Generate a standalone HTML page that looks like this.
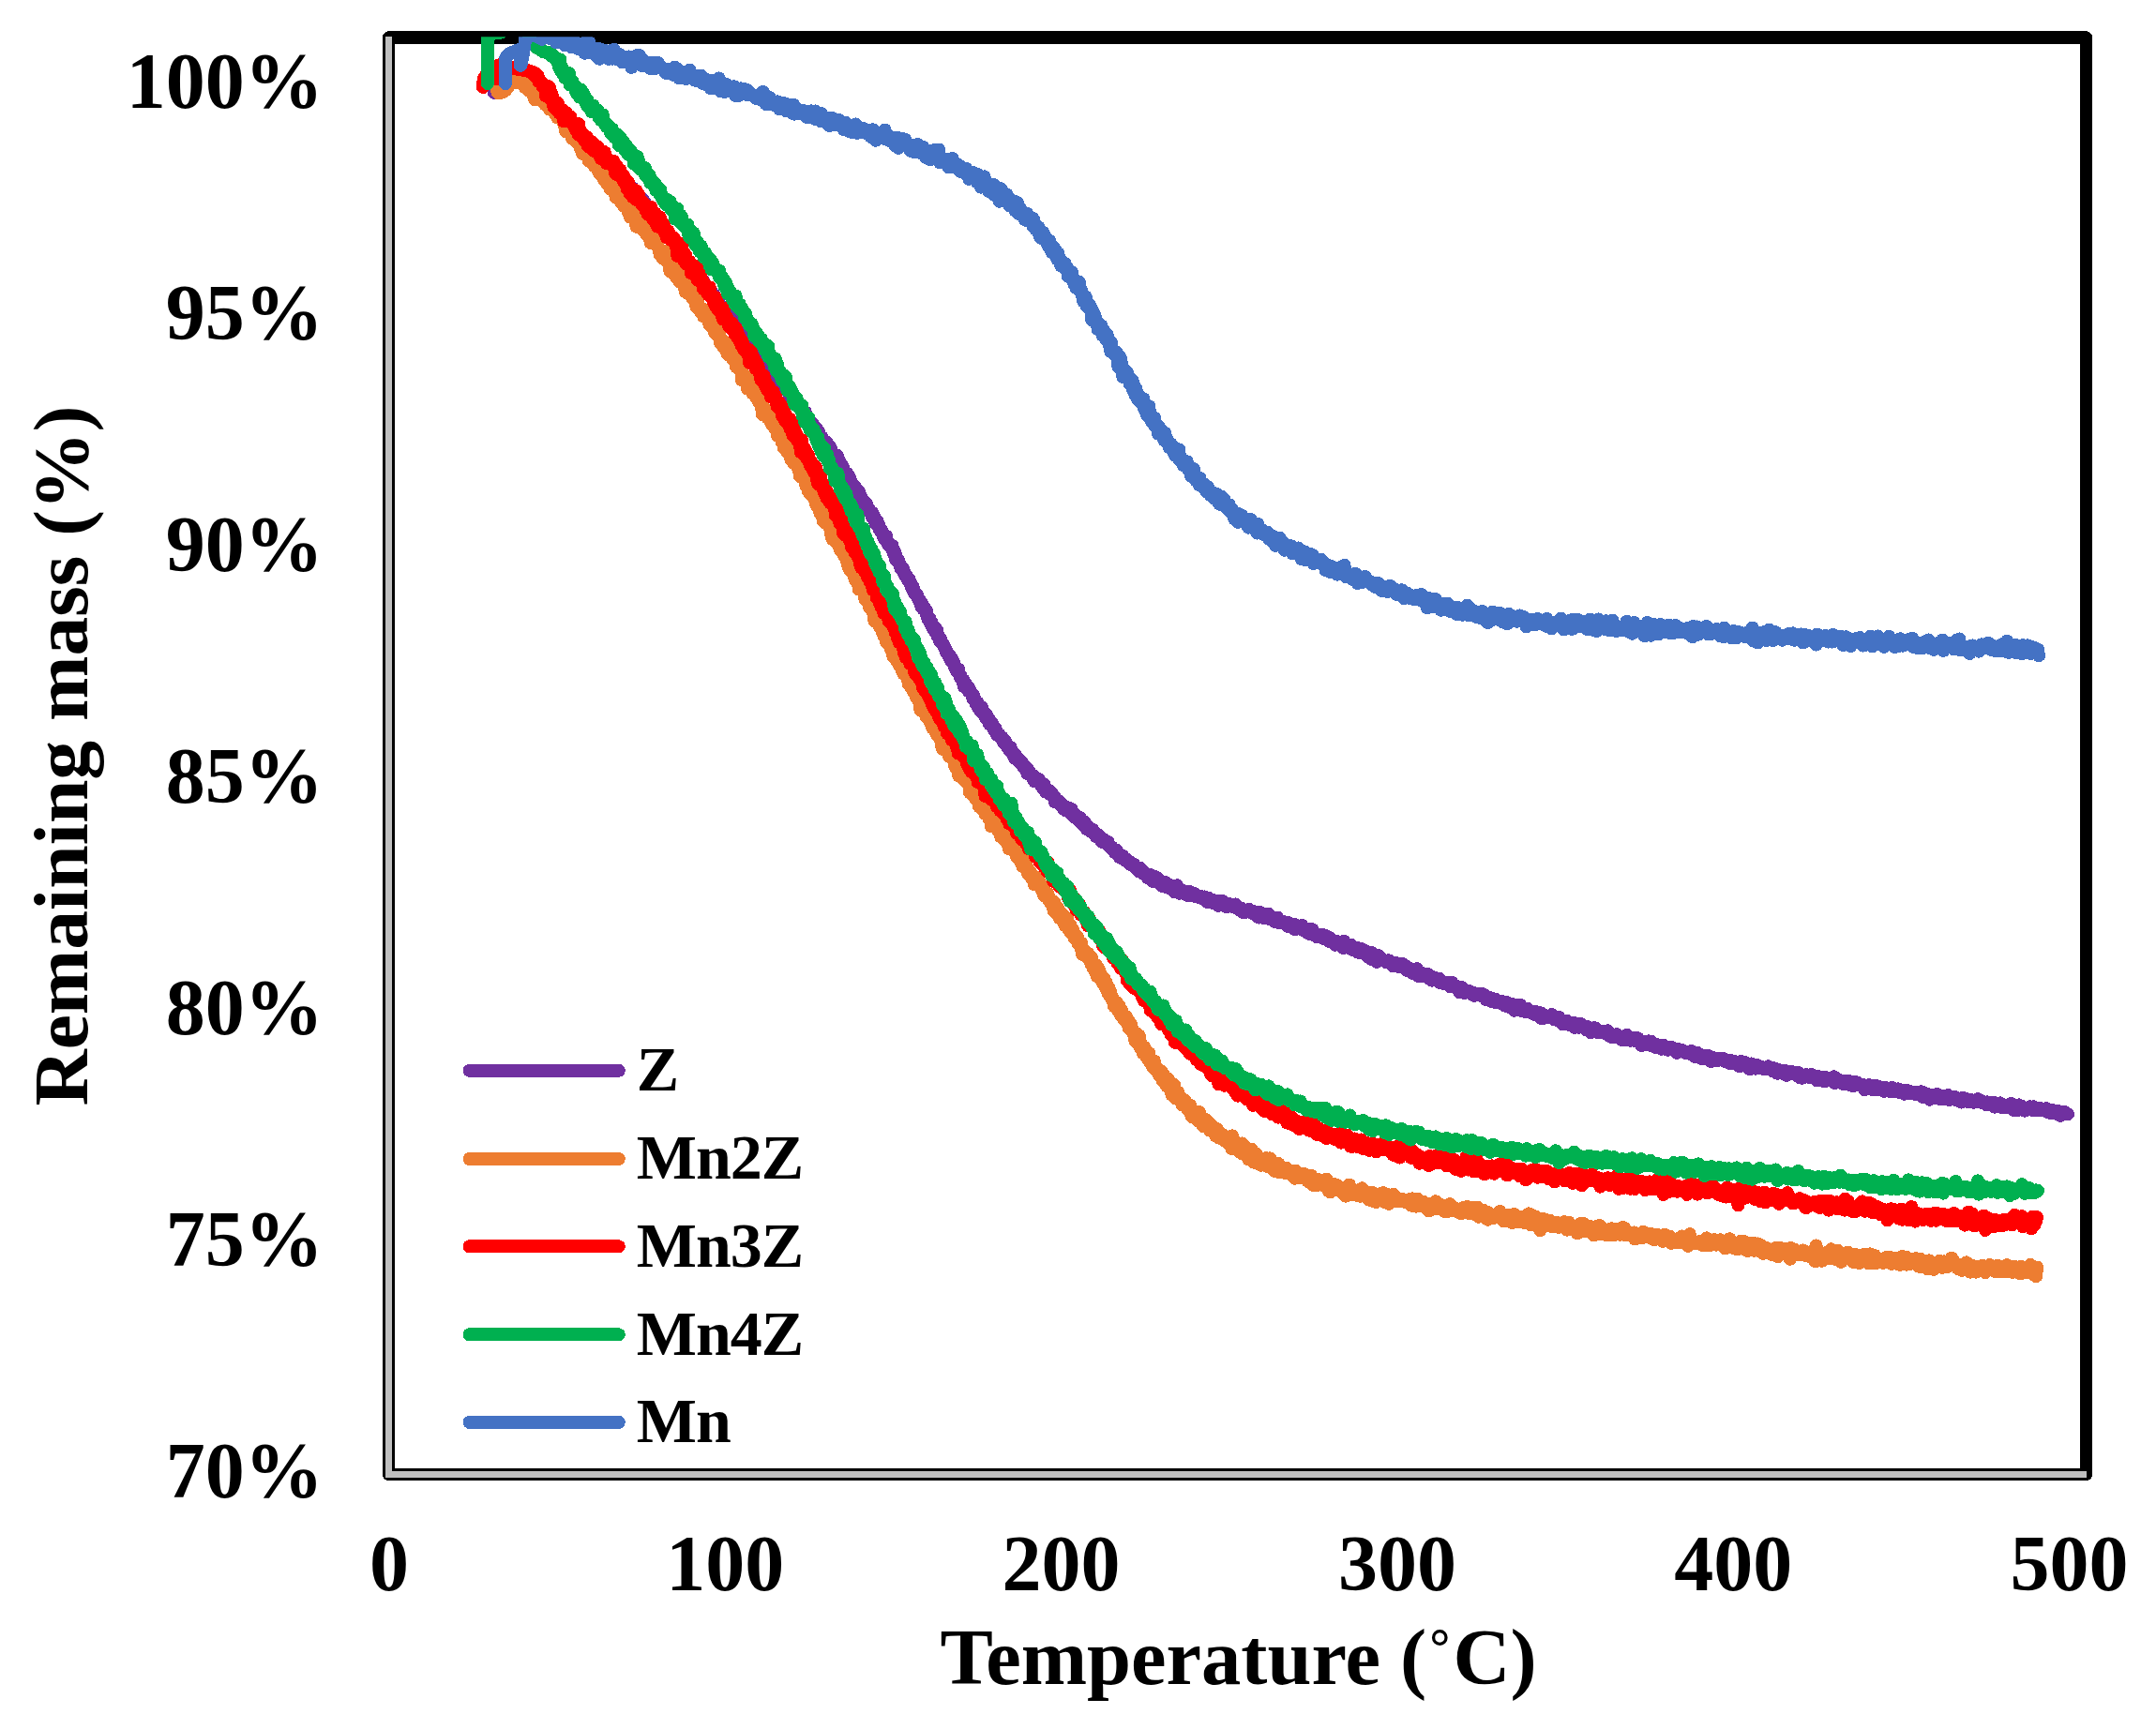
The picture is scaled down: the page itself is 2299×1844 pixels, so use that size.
<!DOCTYPE html>
<html><head><meta charset="utf-8"><title>Remaining mass vs Temperature</title>
<style>
html,body{margin:0;padding:0;background:#fff;}
body{width:2299px;height:1844px;overflow:hidden;}
svg{display:block;}
text{font-family:"Liberation Serif","Times New Roman",serif;font-weight:bold;fill:#000;}
</style></head><body>
<svg width="2299" height="1844" viewBox="0 0 2299 1844" shape-rendering="crispEdges">
<defs><clipPath id="pa"><rect x="414.5" y="39.3" width="1810" height="1533"/></clipPath></defs>
<rect x="0" y="0" width="2299" height="1844" fill="#fff"/>
<rect x="414.5" y="40" width="1810" height="1532.5" fill="none" stroke="#000" stroke-width="13.5" stroke-linejoin="round"/>
<line x1="414.5" y1="39" x2="414.5" y2="1572.5" stroke="#BFBFBF" stroke-width="7"/>
<line x1="411" y1="1572.5" x2="2225" y2="1572.5" stroke="#BFBFBF" stroke-width="7"/>
<g clip-path="url(#pa)" fill="none" stroke-width="14.0" stroke-linejoin="round" stroke-linecap="round">
<path d="M527.0 99.0L527.7 98.4 528.4 97.8 529.0 97.2 529.7 96.5 530.4 95.8 531.0 95.0 531.4 94.3 531.8 93.6 532.2 92.8 532.6 92.0 533.0 91.1 533.4 90.2 533.8 89.3 534.2 88.4 534.5 87.5 534.9 86.5 535.3 85.7 535.6 84.8 536.0 84.0 536.4 83.0 536.8 82.1 537.2 81.1 537.6 80.1 538.0 79.2 538.4 78.3 538.9 77.5 539.4 76.7 540.0 76.0 540.6 75.4 541.3 74.8 542.0 74.2 542.8 73.7 543.6 73.3 544.4 72.8 545.3 72.5 546.1 72.2 547.0 72.0 547.8 71.9 548.7 71.8 549.6 71.8 550.5 71.8 551.4 71.9 552.4 72.1 553.3 72.3 554.2 72.5 555.1 72.7 556.0 73.0 556.8 73.3 557.7 73.6 558.5 74.0 559.3 74.4 560.2 74.8 561.0 75.2 561.8 75.7 562.6 76.3 563.4 76.8 564.2 77.4 565.0 78.0 565.7 78.6 566.4 79.2 567.1 79.8 567.8 80.5 568.4 81.2 569.1 81.9 569.8 82.7 570.5 83.4 571.1 84.2 571.8 85.0 572.4 85.8 573.1 86.6 573.7 87.4 574.4 88.2 575.0 89.0 575.6 89.8 576.2 90.6 576.8 91.3 577.3 91.9 577.9 92.9 578.4 93.6 579.0 94.7 579.5 95.4 580.1 95.6 580.6 96.5 581.2 98.1 581.7 98.9 582.3 99.2 582.8 100.3 583.4 101.4 584.0 102.3 584.5 103.3 585.1 103.7 585.6 104.2 586.1 104.9 586.6 106.6 587.2 105.0 587.7 107.4 588.3 108.3 588.8 107.9 589.3 110.2 589.9 110.1 590.5 112.3 591.0 112.2 591.6 113.8 592.1 115.2 592.7 115.2 593.3 114.6 593.8 114.7 594.4 119.2 595.0 117.9 595.6 117.9 596.1 119.7 596.7 120.1 597.3 122.3 597.9 122.0 598.4 122.8 599.0 122.5 599.6 125.0 600.2 123.6 600.8 127.0 601.4 129.0 602.0 125.3 602.6 124.7 603.2 130.1 603.8 133.7 604.4 129.2 605.0 129.6 605.6 133.1 606.2 131.6 606.8 132.9 607.4 133.8 608.0 135.8 608.7 135.2 609.4 136.9 610.1 137.0 610.8 136.7 611.4 138.2 612.1 137.9 612.8 140.0 613.5 139.0 614.2 139.7 614.9 144.2 615.6 142.6 616.3 143.2 616.9 144.8 617.6 144.0 618.3 145.0 619.0 146.6 619.8 147.1 620.6 145.6 621.3 149.2 622.1 147.7 622.9 147.7 623.7 148.6 624.4 150.0 625.2 153.7 626.0 150.1 626.7 152.8 627.5 150.0 628.3 153.9 629.0 155.9 629.8 154.9 630.5 155.0 631.3 156.9 632.0 158.3 632.8 158.9 633.5 161.6 634.3 159.6 635.0 159.1 635.7 160.5 636.5 161.2 637.2 162.2 637.9 162.7 638.7 163.7 639.4 161.6 640.1 166.0 640.8 164.6 641.6 164.4 642.3 167.9 643.0 169.6 643.7 169.0 644.4 169.2 645.1 168.3 645.8 174.7 646.5 172.5 647.2 170.1 647.9 171.4 648.6 173.4 649.3 171.7 650.0 175.0 650.7 174.7 651.4 178.0 652.1 178.3 652.8 173.5 653.5 178.4 654.2 176.6 654.9 181.4 655.5 180.7 656.2 182.0 656.9 180.3 657.6 185.4 658.3 186.4 658.9 182.6 659.6 185.4 660.3 184.6 660.9 186.3 661.6 185.2 662.3 190.6 662.9 187.1 663.6 188.9 664.3 190.8 664.9 189.8 665.6 191.2 666.2 191.5 666.9 192.9 667.6 192.1 668.2 193.9 668.9 195.0 669.5 195.6 670.2 196.9 670.8 197.1 671.5 199.5 672.1 198.6 672.7 199.7 673.4 199.6 674.0 200.6 674.7 200.3 675.3 203.7 675.9 202.0 676.6 203.3 677.2 205.8 677.8 206.6 678.5 206.1 679.1 204.5 679.7 208.9 680.4 209.4 681.0 207.7 681.6 211.8 682.2 210.3 682.9 210.5 683.5 213.1 684.1 213.4 684.7 214.8 685.4 212.9 686.0 218.8 686.6 215.9 687.2 215.3 687.8 219.3 688.4 218.6 689.1 220.4 689.7 220.2 690.3 221.4 690.9 222.7 691.5 222.0 692.1 224.9 692.7 224.0 693.3 224.2 693.9 226.4 694.5 227.7 695.2 227.5 695.8 227.3 696.4 230.3 697.0 227.6 697.6 229.4 698.2 231.8 698.8 230.5 699.4 233.4 700.0 234.1 700.6 236.3 701.2 234.4 701.8 235.6 702.4 237.8 703.0 234.5 703.6 243.6 704.2 238.7 704.8 239.4 705.4 242.6 706.0 242.1 706.6 240.3 707.1 244.7 707.7 245.8 708.3 244.7 708.9 245.7 709.5 247.7 710.1 246.4 710.7 249.2 711.3 249.6 711.9 249.1 712.5 248.9 713.1 251.4 713.7 251.2 714.3 254.9 714.8 254.4 715.4 256.1 716.0 256.0 716.6 257.0 717.2 256.2 717.8 259.2 718.4 261.7 719.0 259.3 719.6 259.7 720.2 261.2 720.7 261.5 721.3 262.0 721.9 264.0 722.5 264.2 723.1 267.6 723.7 266.2 724.3 267.5 724.9 269.3 725.5 268.2 726.0 271.6 726.6 269.3 727.2 269.9 727.8 271.3 728.4 272.5 729.0 271.4 729.6 274.2 730.2 272.6 730.8 278.0 731.4 276.6 731.9 276.6 732.5 277.0 733.1 278.6 733.7 279.6 734.3 279.2 734.9 280.2 735.5 282.1 736.1 282.4 736.7 285.4 737.3 286.5 737.9 285.6 738.5 287.1 739.1 285.2 739.7 288.9 740.3 288.7 740.9 290.3 741.4 292.8 742.0 287.8 742.6 292.4 743.2 291.1 743.8 294.5 744.4 292.4 745.0 294.4 745.6 296.3 746.2 297.7 746.8 297.7 747.4 297.2 748.0 298.3 748.6 301.3 749.2 300.8 749.9 299.0 750.5 303.6 751.1 303.8 751.7 305.3 752.3 304.2 752.9 306.8 753.5 304.8 754.1 308.0 754.7 307.2 755.3 309.7 755.9 311.0 756.5 309.2 757.1 311.0 757.7 312.0 758.3 314.5 758.9 314.6 759.6 312.5 760.2 315.8 760.8 317.0 761.4 319.9 762.0 314.9 762.6 317.4 763.2 321.0 763.8 317.8 764.4 318.8 765.1 322.2 765.7 323.7 766.3 322.0 766.9 324.6 767.5 324.8 768.1 327.7 768.7 326.2 769.3 328.4 770.0 326.4 770.6 328.3 771.2 329.2 771.8 331.8 772.4 331.8 773.0 330.6 773.6 333.5 774.3 334.4 774.9 333.9 775.5 334.5 776.1 335.3 776.7 333.9 777.3 337.5 778.0 338.4 778.6 337.5 779.2 340.7 779.8 338.3 780.4 340.3 781.0 341.2 781.7 345.7 782.3 341.1 782.9 345.1 783.5 346.5 784.1 346.4 784.8 348.4 785.4 345.9 786.0 344.8 786.6 350.2 787.2 348.0 787.8 350.1 788.5 349.6 789.1 353.8 789.7 354.3 790.3 352.7 790.9 355.9 791.6 355.5 792.2 355.9 792.8 357.0 793.4 357.4 794.0 359.4 794.6 359.7 795.3 359.5 795.9 362.3 796.5 360.7 797.1 362.8 797.7 363.8 798.4 366.2 799.0 364.0 799.6 368.2 800.2 366.6 800.8 366.8 801.5 366.9 802.1 369.6 802.7 369.5 803.3 368.6 803.9 369.4 804.6 371.0 805.2 371.6 805.8 375.0 806.4 376.3 807.0 376.3 807.6 376.3 808.3 375.9 808.9 377.4 809.5 379.5 810.1 382.1 810.7 381.1 811.4 380.1 812.0 381.3 812.6 381.3 813.2 381.7 813.8 383.4 814.4 384.7 815.1 388.0 815.7 386.1 816.3 388.8 816.9 390.2 817.5 388.5 818.1 391.6 818.7 391.0 819.4 390.1 820.0 391.9 820.6 392.3 821.2 392.7 821.8 393.6 822.4 394.9 823.1 396.1 823.7 394.9 824.3 397.0 824.9 395.5 825.5 399.0 826.1 400.3 826.7 400.4 827.3 401.4 828.0 402.7 828.6 401.6 829.2 403.0 829.8 404.9 830.4 406.4 831.0 406.3 831.6 410.3 832.2 407.2 832.8 409.6 833.4 410.8 834.1 409.5 834.7 409.2 835.3 409.5 835.9 412.3 836.5 414.5 837.1 414.0 837.7 414.7 838.3 414.7 838.9 416.9 839.5 413.6 840.1 418.0 840.7 418.4 841.3 417.1 841.9 423.2 842.5 418.7 843.1 420.0 843.7 420.6 844.4 424.8 845.0 422.6 845.6 425.8 846.2 426.4 846.8 426.7 847.4 425.2 848.0 427.0 848.6 431.3 849.2 427.6 849.8 429.1 850.4 430.9 850.9 433.1 851.5 433.1 852.1 434.6 852.7 432.7 853.3 436.5 853.9 436.8 854.5 434.3 855.1 439.8 855.7 441.8 856.3 438.0 856.9 440.0 857.5 442.8 858.1 439.3 858.7 439.4 859.3 441.2 859.8 443.1 860.4 443.9 861.0 446.5 861.6 446.8 862.2 445.3 862.8 448.8 863.4 451.6 864.0 451.4 864.5 451.9 865.1 451.2 865.7 453.5 866.3 451.4 866.9 454.7 867.5 454.3 868.0 456.9 868.6 456.7 869.2 455.2 869.8 457.9 870.4 460.3 870.9 457.6 871.5 459.3 872.1 459.7 872.7 459.5 873.2 464.0 873.8 465.3 874.4 465.4 875.0 465.3 875.5 465.7 876.1 467.0 876.7 466.3 877.2 469.6 877.8 470.6 878.4 471.3 878.9 469.9 879.5 471.6 880.1 472.1 880.6 475.8 881.2 474.2 881.8 471.9 882.3 476.2 882.9 479.2 883.5 478.2 884.0 479.4 884.6 478.9 885.2 476.7 885.7 477.8 886.3 479.4 886.8 481.9 887.4 483.4 887.9 484.8 888.5 484.1 889.1 486.9 889.6 485.8 890.2 486.0 890.7 489.2 891.3 487.4 891.8 485.5 892.4 488.8 892.9 491.3 893.5 487.4 894.0 492.3 894.6 493.2 895.1 492.4 895.7 493.1 896.2 495.5 896.8 496.2 897.3 499.7 897.9 499.2 898.4 497.1 899.0 499.0 899.5 502.2 900.1 504.8 900.6 503.4 901.1 504.1 901.7 507.3 902.2 505.3 902.8 505.7 903.3 504.9 903.8 507.1 904.4 511.9 904.9 507.4 905.5 510.3 906.0 509.1 906.5 512.2 907.1 514.2 907.6 513.3 908.1 515.6 908.7 516.4 909.2 516.9 909.7 519.6 910.3 519.0 910.8 518.3 911.3 518.5 911.9 519.1 912.4 522.0 912.9 521.6 913.5 527.0 914.0 526.5 914.5 524.3 915.0 525.0 915.6 528.8 916.1 524.3 916.6 527.3 917.1 530.3 917.7 528.3 918.2 529.8 918.7 530.8 919.2 533.2 919.7 533.3 920.3 534.5 920.8 535.7 921.3 535.7 921.8 538.1 922.3 536.2 922.9 536.0 923.4 536.3 923.9 537.4 924.4 539.9 924.9 543.1 925.4 542.7 926.0 542.4 926.5 542.5 927.0 544.2 927.5 545.2 928.0 545.8 928.5 545.4 929.0 547.7 929.5 550.8 930.1 546.8 930.6 550.6 931.1 548.6 931.6 553.0 932.1 552.4 932.6 551.3 933.1 555.4 933.6 558.8 934.1 557.1 934.6 559.6 935.1 558.6 935.6 556.3 936.1 561.2 936.6 560.6 937.1 559.9 937.6 564.2 938.1 564.3 938.6 563.9 939.1 566.9 939.6 565.1 940.1 568.3 940.6 566.8 941.1 569.9 941.6 568.3 942.1 573.0 942.6 572.0 943.1 574.7 943.6 572.2 944.1 573.5 944.6 576.4 945.1 571.9 945.6 575.3 946.1 579.3 946.6 579.3 947.1 580.9 947.6 579.9 948.1 582.1 948.5 581.0 949.0 580.9 949.5 581.3 950.0 583.9 950.5 584.8 951.0 585.5 951.5 582.0 952.0 585.2 952.4 588.3 952.9 590.4 953.4 590.0 953.9 590.4 954.4 589.1 954.9 596.5 955.4 592.7 955.8 597.7 956.3 598.4 956.8 597.4 957.3 597.0 957.8 598.9 958.2 597.9 958.7 600.9 959.2 601.4 959.7 603.1 960.2 604.6 960.6 606.6 961.1 604.3 961.6 607.4 962.1 605.5 962.6 606.2 963.0 607.5 963.5 607.8 964.0 611.7 964.5 612.5 964.9 613.9 965.4 612.8 965.9 614.2 966.4 613.8 966.8 613.8 967.3 617.1 967.8 617.7 968.3 616.5 968.7 619.9 969.2 617.3 969.7 620.6 970.2 620.8 970.6 621.8 971.1 621.9 971.6 625.8 972.1 626.1 972.5 627.9 973.0 627.2 973.5 626.0 973.9 628.2 974.4 627.9 974.9 631.3 975.4 633.3 975.8 632.8 976.3 632.3 976.8 633.6 977.3 635.3 977.7 633.7 978.2 637.0 978.7 638.0 979.1 637.7 979.6 638.8 980.1 640.6 980.6 640.0 981.0 640.9 981.5 644.2 982.0 644.2 982.4 647.3 982.9 644.2 983.4 643.9 983.9 648.8 984.3 649.7 984.8 648.1 985.3 647.9 985.7 650.9 986.2 649.2 986.7 652.2 987.2 650.4 987.6 654.2 988.1 652.2 988.6 655.9 989.1 659.5 989.5 657.7 990.0 660.1 990.5 658.9 991.0 659.4 991.4 659.4 991.9 664.1 992.4 663.3 992.9 666.7 993.3 663.4 993.8 665.7 994.3 667.0 994.8 669.9 995.2 671.4 995.7 668.6 996.2 668.8 996.7 668.7 997.1 674.2 997.6 673.0 998.1 673.0 998.6 674.8 999.0 671.9 999.5 674.1 1000.0 678.9 1000.5 679.0 1001.0 679.5 1001.4 678.7 1001.9 681.9 1002.4 684.6 1002.9 681.0 1003.4 683.7 1003.8 683.9 1004.3 686.0 1004.8 686.4 1005.3 687.0 1005.8 686.8 1006.3 689.0 1006.7 688.9 1007.2 690.5 1007.7 691.5 1008.2 693.5 1008.7 692.5 1009.2 693.8 1009.7 696.7 1010.1 695.7 1010.6 696.5 1011.1 699.1 1011.6 699.1 1012.1 699.7 1012.6 700.7 1013.1 699.4 1013.6 702.8 1014.1 705.0 1014.6 704.8 1015.0 702.4 1015.5 706.1 1016.0 705.2 1016.5 707.1 1017.0 708.5 1017.5 707.3 1018.0 712.0 1018.5 710.8 1019.0 712.9 1019.5 713.6 1020.0 715.5 1020.5 716.1 1021.0 713.0 1021.5 716.2 1022.0 713.8 1022.5 717.2 1023.0 719.8 1023.5 720.9 1024.0 722.4 1024.5 720.7 1025.0 722.6 1025.6 723.2 1026.1 725.8 1026.6 727.1 1027.1 725.1 1027.6 732.1 1028.1 727.3 1028.6 727.6 1029.1 729.9 1029.6 731.0 1030.2 731.6 1030.7 730.6 1031.2 734.7 1031.7 733.4 1032.2 736.5 1032.7 737.1 1033.3 734.0 1033.8 735.3 1034.3 736.1 1034.8 738.8 1035.3 739.4 1035.9 740.5 1036.4 739.8 1036.9 742.5 1037.4 744.8 1038.0 741.5 1038.5 744.1 1039.0 745.6 1039.6 745.9 1040.1 746.6 1040.6 750.4 1041.2 750.5 1041.7 750.7 1042.2 749.1 1042.8 754.5 1043.3 752.5 1043.8 751.9 1044.4 753.1 1044.9 753.7 1045.5 758.5 1046.0 756.4 1046.6 757.1 1047.1 754.6 1047.6 759.7 1048.2 757.9 1048.7 758.6 1049.3 762.0 1049.8 760.7 1050.4 764.0 1050.9 765.3 1051.5 761.8 1052.1 765.1 1052.6 763.7 1053.2 766.8 1053.7 769.1 1054.3 766.5 1054.9 772.1 1055.4 769.7 1056.0 769.2 1056.5 771.6 1057.1 773.8 1057.7 771.4 1058.2 774.3 1058.8 773.0 1059.4 777.7 1060.0 776.9 1060.5 776.9 1061.1 779.9 1061.7 777.2 1062.3 779.3 1062.8 783.5 1063.4 781.4 1064.0 784.4 1064.6 783.4 1065.2 782.9 1065.8 784.4 1066.3 785.7 1066.9 785.7 1067.5 785.9 1068.1 786.8 1068.7 786.5 1069.3 789.7 1069.9 790.9 1070.5 792.2 1071.1 789.2 1071.7 793.9 1072.3 793.5 1072.9 792.1 1073.5 795.2 1074.1 797.1 1074.7 797.4 1075.3 798.5 1075.9 799.6 1076.6 800.3 1077.2 799.7 1077.8 797.4 1078.4 800.2 1079.0 802.6 1079.6 802.2 1080.3 804.7 1080.9 805.6 1081.5 805.2 1082.1 808.8 1082.8 805.2 1083.4 808.9 1084.0 807.5 1084.6 807.8 1085.3 810.7 1085.9 809.6 1086.6 812.6 1087.2 810.3 1087.8 812.9 1088.5 812.3 1089.1 814.0 1089.8 814.5 1090.4 814.1 1091.1 817.6 1091.7 815.5 1092.4 816.6 1093.0 820.2 1093.7 821.0 1094.3 821.3 1095.0 821.6 1095.6 825.2 1096.3 820.7 1097.0 822.2 1097.6 822.5 1098.3 826.1 1099.0 825.9 1099.7 827.9 1100.3 828.4 1101.0 827.4 1101.7 827.2 1102.4 827.7 1103.0 833.2 1103.7 832.0 1104.4 832.2 1105.1 831.5 1105.8 832.5 1106.5 833.0 1107.2 833.7 1107.9 831.3 1108.6 835.5 1109.2 835.8 1109.9 837.5 1110.6 838.1 1111.4 839.8 1112.1 839.2 1112.8 841.1 1113.5 836.7 1114.2 839.6 1114.9 844.6 1115.6 840.9 1116.3 843.0 1117.0 845.1 1117.8 843.5 1118.5 846.6 1119.2 844.0 1119.9 844.0 1120.7 845.6 1121.4 845.8 1122.1 848.9 1122.8 849.1 1123.6 850.8 1124.3 849.4 1125.0 855.5 1125.8 852.2 1126.5 853.0 1127.3 854.4 1128.0 854.0 1128.7 854.1 1129.5 855.9 1130.2 857.8 1131.0 858.1 1131.7 859.2 1132.5 857.6 1133.2 858.0 1134.0 862.8 1134.7 860.1 1135.5 861.9 1136.2 862.9 1137.0 864.6 1137.7 861.1 1138.5 863.1 1139.2 863.8 1140.0 864.7 1140.7 862.2 1141.5 866.3 1142.3 862.8 1143.0 868.3 1143.8 869.3 1144.5 870.0 1145.3 868.0 1146.1 871.9 1146.8 869.8 1147.6 869.9 1148.4 871.0 1149.1 871.8 1149.9 874.0 1150.7 875.7 1151.4 871.9 1152.2 874.9 1153.0 877.8 1153.7 877.4 1154.5 878.5 1155.3 876.1 1156.0 880.5 1156.8 877.3 1157.6 880.6 1158.4 883.0 1159.1 884.5 1159.9 883.1 1160.7 884.3 1161.4 882.7 1162.2 883.6 1163.0 886.7 1163.8 885.6 1164.5 886.1 1165.3 884.8 1166.1 887.8 1166.8 889.2 1167.6 887.7 1168.4 888.8 1169.2 892.5 1169.9 891.1 1170.7 891.0 1171.5 890.4 1172.2 891.9 1173.0 893.1 1173.8 896.2 1174.6 893.8 1175.3 898.1 1176.1 894.7 1176.9 896.2 1177.6 898.6 1178.4 897.7 1179.2 897.5 1179.9 899.2 1180.7 900.7 1181.5 898.1 1182.3 901.0 1183.0 901.8 1183.8 902.0 1184.6 904.4 1185.3 903.1 1186.1 904.1 1186.9 905.3 1187.6 907.0 1188.4 906.3 1189.2 909.5 1189.9 906.5 1190.7 910.5 1191.5 907.9 1192.2 909.6 1193.0 911.1 1193.8 914.3 1194.5 913.2 1195.3 911.9 1196.1 915.1 1196.8 913.4 1197.6 913.2 1198.4 915.7 1199.2 915.8 1199.9 917.7 1200.7 916.1 1201.5 918.1 1202.3 919.1 1203.1 919.2 1203.8 919.4 1204.6 919.0 1205.4 922.0 1206.2 921.5 1207.0 922.6 1207.8 922.0 1208.6 923.1 1209.4 922.1 1210.2 924.4 1211.0 926.0 1211.8 925.6 1212.6 927.3 1213.4 927.1 1214.2 929.2 1215.0 927.5 1215.8 925.9 1216.6 929.6 1217.4 929.2 1218.2 928.5 1219.0 931.5 1219.9 931.5 1220.7 932.3 1221.5 931.7 1222.4 933.0 1223.2 933.6 1224.0 936.4 1224.9 933.2 1225.7 934.7 1226.6 935.8 1227.4 933.2 1228.3 933.8 1229.1 940.0 1230.0 934.5 1230.8 938.5 1231.7 936.8 1232.6 937.4 1233.4 936.1 1234.3 938.1 1235.2 941.1 1236.1 938.3 1236.9 941.7 1237.8 941.7 1238.7 944.7 1239.6 941.4 1240.5 944.4 1241.4 944.3 1242.3 942.9 1243.2 941.2 1244.1 946.4 1245.0 942.5 1245.9 944.2 1246.8 946.6 1247.7 947.4 1248.6 944.8 1249.5 946.4 1250.4 946.4 1251.3 949.0 1252.2 951.3 1253.2 945.2 1254.1 949.7 1255.0 944.3 1255.9 949.0 1256.9 947.7 1257.8 952.7 1258.7 950.3 1259.7 949.2 1260.6 949.9 1261.5 950.2 1262.5 951.6 1263.4 951.4 1264.3 953.0 1265.3 954.6 1266.2 953.7 1267.2 951.1 1268.1 950.8 1269.1 952.4 1270.0 955.5 1271.0 953.7 1271.9 953.5 1272.9 955.0 1273.8 953.0 1274.8 953.7 1275.7 956.4 1276.7 955.5 1277.6 955.6 1278.6 957.0 1279.6 956.0 1280.5 956.1 1281.5 956.7 1282.4 958.6 1283.4 958.1 1284.4 956.5 1285.3 958.1 1286.3 959.8 1287.3 961.9 1288.2 957.6 1289.2 960.1 1290.2 959.5 1291.1 961.4 1292.1 961.1 1293.1 962.9 1294.0 961.8 1295.0 960.4 1296.0 960.7 1297.0 962.4 1297.9 962.6 1298.9 965.9 1299.9 965.1 1300.8 961.1 1301.8 963.6 1302.8 961.4 1303.8 961.2 1304.7 965.0 1305.7 965.0 1306.7 962.9 1307.6 967.2 1308.6 963.5 1309.6 963.5 1310.6 966.5 1311.5 966.1 1312.5 965.8 1313.5 966.2 1314.4 966.9 1315.4 966.6 1316.4 966.9 1317.3 964.5 1318.3 965.6 1319.3 968.9 1320.2 967.2 1321.2 969.3 1322.2 970.6 1323.1 968.5 1324.1 969.7 1325.1 972.7 1326.0 970.9 1327.0 972.9 1328.0 972.8 1328.9 971.9 1329.9 970.9 1330.8 970.1 1331.8 969.9 1332.8 972.6 1333.7 972.9 1334.7 972.2 1335.6 974.1 1336.6 972.2 1337.5 975.1 1338.5 973.7 1339.5 973.9 1340.4 974.3 1341.4 974.4 1342.3 978.6 1343.3 972.8 1344.2 975.8 1345.2 977.7 1346.1 977.2 1347.1 976.0 1348.0 979.4 1349.0 975.5 1349.9 975.4 1350.9 978.5 1351.8 975.8 1352.8 974.8 1353.7 980.0 1354.6 980.1 1355.6 980.4 1356.5 978.9 1357.5 980.2 1358.4 978.8 1359.4 983.2 1360.3 982.1 1361.2 982.3 1362.2 978.6 1363.1 983.1 1364.1 984.4 1365.0 984.3 1366.0 984.0 1366.9 983.2 1367.8 983.0 1368.8 984.7 1369.7 984.7 1370.7 984.9 1371.6 984.4 1372.5 987.7 1373.5 983.8 1374.4 985.8 1375.3 985.3 1376.3 988.1 1377.2 989.0 1378.2 989.1 1379.1 988.7 1380.0 985.8 1381.0 991.3 1381.9 989.3 1382.8 988.7 1383.8 989.3 1384.7 989.1 1385.6 990.6 1386.6 990.7 1387.5 990.1 1388.4 987.1 1389.4 991.2 1390.3 992.4 1391.3 992.8 1392.2 992.1 1393.1 993.4 1394.1 994.6 1395.0 992.7 1395.9 995.9 1396.9 991.1 1397.8 992.5 1398.7 993.4 1399.7 991.4 1400.6 994.0 1401.5 997.7 1402.5 998.0 1403.4 996.6 1404.3 999.4 1405.3 997.6 1406.2 996.8 1407.1 998.3 1408.1 998.0 1409.0 999.7 1409.9 996.7 1410.9 1000.8 1411.8 999.0 1412.7 1001.3 1413.7 998.0 1414.6 1000.1 1415.5 1001.2 1416.5 1002.8 1417.4 999.9 1418.3 1004.6 1419.3 1003.2 1420.2 1002.0 1421.1 1005.0 1422.1 1003.7 1423.0 1005.6 1423.9 1007.7 1424.9 1005.7 1425.8 1004.2 1426.7 1004.7 1427.6 1006.5 1428.6 1006.4 1429.5 1005.1 1430.4 1005.7 1431.4 1008.1 1432.3 1010.9 1433.2 1003.8 1434.2 1009.2 1435.1 1008.2 1436.0 1010.0 1437.0 1010.5 1437.9 1009.6 1438.8 1008.4 1439.8 1008.2 1440.7 1007.8 1441.6 1012.8 1442.6 1011.0 1443.5 1010.9 1444.4 1011.6 1445.4 1010.4 1446.3 1013.2 1447.2 1015.1 1448.2 1015.2 1449.1 1011.5 1450.0 1016.2 1451.0 1013.4 1451.9 1012.0 1452.8 1013.4 1453.8 1014.2 1454.7 1016.0 1455.6 1014.8 1456.6 1014.4 1457.5 1016.6 1458.4 1020.3 1459.4 1016.7 1460.3 1018.8 1461.2 1018.6 1462.2 1022.8 1463.1 1016.3 1464.0 1021.2 1465.0 1018.0 1465.9 1019.4 1466.8 1020.5 1467.8 1025.8 1468.7 1020.2 1469.6 1018.9 1470.6 1024.0 1471.5 1021.1 1472.4 1022.4 1473.4 1023.1 1474.3 1023.6 1475.2 1023.6 1476.2 1024.6 1477.1 1025.1 1478.0 1026.2 1479.0 1024.6 1479.9 1024.5 1480.8 1024.4 1481.8 1027.2 1482.7 1026.6 1483.6 1027.9 1484.6 1028.2 1485.5 1030.3 1486.4 1028.4 1487.4 1029.6 1488.3 1027.0 1489.2 1027.5 1490.2 1029.0 1491.1 1028.0 1492.0 1031.3 1493.0 1028.6 1493.9 1031.0 1494.9 1027.6 1495.8 1030.0 1496.7 1031.5 1497.7 1032.0 1498.6 1030.0 1499.5 1033.2 1500.5 1034.9 1501.4 1034.7 1502.3 1033.1 1503.3 1033.6 1504.2 1033.0 1505.1 1036.1 1506.1 1037.7 1507.0 1035.1 1507.9 1033.7 1508.9 1036.9 1509.8 1038.0 1510.8 1033.2 1511.7 1037.8 1512.6 1041.2 1513.6 1039.6 1514.5 1039.5 1515.4 1039.6 1516.4 1041.0 1517.3 1038.3 1518.2 1038.8 1519.2 1041.0 1520.1 1039.7 1521.1 1041.5 1522.0 1038.6 1522.9 1042.9 1523.9 1043.4 1524.8 1042.6 1525.7 1043.1 1526.7 1045.6 1527.6 1041.9 1528.6 1042.5 1529.5 1042.6 1530.4 1043.9 1531.4 1043.4 1532.3 1045.3 1533.3 1044.6 1534.2 1043.8 1535.1 1044.0 1536.1 1048.5 1537.0 1046.9 1537.9 1047.0 1538.9 1047.7 1539.8 1047.9 1540.8 1049.5 1541.7 1049.5 1542.6 1048.2 1543.6 1048.1 1544.5 1048.1 1545.5 1048.2 1546.4 1052.5 1547.3 1049.4 1548.3 1048.0 1549.2 1050.1 1550.2 1050.6 1551.1 1052.6 1552.1 1051.1 1553.0 1053.6 1553.9 1053.7 1554.9 1055.3 1555.8 1057.0 1556.8 1058.4 1557.7 1056.5 1558.6 1053.0 1559.6 1054.5 1560.5 1055.8 1561.5 1058.9 1562.4 1057.1 1563.4 1058.2 1564.3 1056.5 1565.2 1058.0 1566.2 1058.5 1567.1 1057.1 1568.1 1059.2 1569.0 1060.0 1570.0 1058.5 1570.9 1060.6 1571.9 1061.9 1572.8 1059.8 1573.7 1060.0 1574.7 1059.9 1575.6 1059.8 1576.6 1061.3 1577.5 1060.7 1578.5 1061.2 1579.4 1060.8 1580.4 1060.0 1581.3 1061.2 1582.3 1063.4 1583.2 1061.5 1584.1 1062.6 1585.1 1066.4 1586.0 1065.9 1587.0 1063.5 1587.9 1065.8 1588.9 1064.2 1589.8 1067.9 1590.8 1064.9 1591.7 1066.3 1592.7 1068.5 1593.6 1065.5 1594.6 1069.0 1595.5 1066.2 1596.5 1068.1 1597.4 1067.6 1598.4 1068.2 1599.3 1068.9 1600.3 1068.8 1601.2 1067.7 1602.2 1070.9 1603.1 1071.0 1604.1 1072.1 1605.0 1072.6 1606.0 1068.8 1606.9 1073.0 1607.9 1073.4 1608.8 1070.9 1609.8 1073.6 1610.7 1074.5 1611.7 1071.8 1612.6 1070.9 1613.6 1072.7 1614.5 1077.7 1615.5 1074.2 1616.4 1072.3 1617.4 1074.1 1618.3 1073.3 1619.3 1074.5 1620.2 1075.5 1621.2 1071.8 1622.1 1076.5 1623.1 1078.4 1624.1 1076.3 1625.0 1076.3 1626.0 1078.8 1626.9 1075.5 1627.9 1075.9 1628.8 1075.9 1629.8 1078.1 1630.7 1079.2 1631.7 1078.8 1632.6 1080.0 1633.6 1080.7 1634.6 1080.5 1635.5 1078.9 1636.5 1080.0 1637.4 1082.5 1638.4 1079.4 1639.3 1080.9 1640.3 1080.9 1641.3 1081.5 1642.2 1080.5 1643.2 1080.4 1644.1 1086.5 1645.1 1084.4 1646.0 1082.2 1647.0 1083.4 1648.0 1084.8 1648.9 1083.6 1649.9 1085.3 1650.8 1083.8 1651.8 1084.4 1652.7 1085.1 1653.7 1084.8 1654.7 1082.1 1655.6 1086.1 1656.6 1086.8 1657.5 1087.4 1658.5 1085.4 1659.5 1087.7 1660.4 1087.8 1661.4 1085.1 1662.3 1084.7 1663.3 1089.0 1664.3 1087.2 1665.2 1090.4 1666.2 1092.3 1667.1 1088.5 1668.1 1088.6 1669.1 1089.9 1670.0 1091.2 1671.0 1088.8 1671.9 1092.6 1672.9 1092.5 1673.9 1092.3 1674.8 1090.8 1675.8 1093.2 1676.8 1093.4 1677.7 1090.6 1678.7 1095.8 1679.6 1092.5 1680.6 1093.8 1681.6 1092.7 1682.5 1094.3 1683.5 1095.7 1684.5 1093.1 1685.4 1092.1 1686.4 1094.1 1687.3 1093.1 1688.3 1094.2 1689.3 1095.4 1690.2 1095.8 1691.2 1098.1 1692.2 1094.9 1693.1 1097.2 1694.1 1096.1 1695.1 1099.2 1696.0 1101.2 1697.0 1098.1 1698.0 1100.5 1698.9 1097.4 1699.9 1096.1 1700.9 1096.8 1701.8 1096.6 1702.8 1097.8 1703.8 1099.1 1704.7 1101.5 1705.7 1101.1 1706.7 1101.0 1707.6 1099.9 1708.6 1099.7 1709.6 1101.1 1710.5 1101.5 1711.5 1101.9 1712.5 1102.3 1713.4 1101.9 1714.4 1099.4 1715.4 1100.9 1716.3 1101.5 1717.3 1105.6 1718.3 1102.6 1719.2 1104.5 1720.2 1106.0 1721.2 1104.5 1722.1 1103.7 1723.1 1104.1 1724.1 1103.2 1725.0 1105.5 1726.0 1107.0 1727.0 1106.4 1728.0 1106.9 1728.9 1107.1 1729.9 1109.3 1730.9 1105.5 1731.8 1107.0 1732.8 1108.0 1733.8 1109.1 1734.7 1103.8 1735.7 1106.9 1736.7 1107.6 1737.7 1106.6 1738.6 1109.7 1739.6 1109.0 1740.6 1108.3 1741.5 1106.7 1742.5 1107.4 1743.5 1108.1 1744.4 1110.5 1745.4 1108.3 1746.4 1107.2 1747.4 1108.4 1748.3 1109.9 1749.3 1113.6 1750.3 1115.0 1751.3 1110.8 1752.2 1113.2 1753.2 1114.1 1754.2 1114.1 1755.1 1112.3 1756.1 1110.7 1757.1 1112.2 1758.1 1110.4 1759.0 1113.7 1760.0 1114.8 1761.0 1111.0 1762.0 1114.0 1762.9 1114.7 1763.9 1116.4 1764.9 1116.8 1765.8 1116.2 1766.8 1114.2 1767.8 1114.9 1768.8 1117.5 1769.7 1115.0 1770.7 1116.1 1771.7 1118.7 1772.7 1116.8 1773.6 1114.7 1774.6 1116.6 1775.6 1118.2 1776.6 1117.2 1777.5 1119.4 1778.5 1119.8 1779.5 1117.2 1780.5 1117.6 1781.4 1118.4 1782.4 1117.0 1783.4 1119.6 1784.4 1119.0 1785.4 1120.7 1786.3 1118.8 1787.3 1118.6 1788.3 1122.9 1789.3 1119.0 1790.2 1119.7 1791.2 1119.7 1792.2 1120.6 1793.2 1119.9 1794.1 1121.4 1795.1 1120.6 1796.1 1121.3 1797.1 1122.6 1798.0 1123.4 1799.0 1123.2 1800.0 1121.6 1801.0 1123.6 1802.0 1123.0 1802.9 1123.2 1803.9 1121.0 1804.9 1124.8 1805.9 1123.8 1806.9 1126.8 1807.8 1125.4 1808.8 1123.0 1809.8 1122.8 1810.8 1126.8 1811.7 1124.0 1812.7 1126.5 1813.7 1125.3 1814.7 1129.1 1815.7 1126.2 1816.6 1128.6 1817.6 1128.5 1818.6 1126.1 1819.6 1126.5 1820.6 1129.4 1821.5 1127.4 1822.5 1126.3 1823.5 1129.6 1824.5 1131.9 1825.5 1128.2 1826.4 1130.5 1827.4 1128.4 1828.4 1130.9 1829.4 1128.7 1830.4 1131.3 1831.3 1130.3 1832.3 1129.4 1833.3 1130.2 1834.3 1129.3 1835.3 1128.6 1836.2 1128.9 1837.2 1130.6 1838.2 1129.3 1839.2 1131.8 1840.2 1132.1 1841.1 1132.2 1842.1 1131.0 1843.1 1132.0 1844.1 1132.1 1845.1 1134.3 1846.1 1131.3 1847.0 1132.1 1848.0 1132.6 1849.0 1132.9 1850.0 1132.2 1851.0 1132.6 1852.0 1135.2 1852.9 1132.9 1853.9 1135.5 1854.9 1137.3 1855.9 1136.4 1856.9 1132.0 1857.8 1136.0 1858.8 1135.8 1859.8 1136.1 1860.8 1133.0 1861.8 1136.8 1862.8 1134.2 1863.7 1138.0 1864.7 1137.8 1865.7 1140.2 1866.7 1136.0 1867.7 1134.5 1868.7 1138.5 1869.6 1138.5 1870.6 1136.8 1871.6 1139.6 1872.6 1138.8 1873.6 1136.0 1874.6 1137.6 1875.5 1137.6 1876.5 1138.3 1877.5 1138.9 1878.5 1137.8 1879.5 1138.7 1880.5 1140.1 1881.5 1139.3 1882.4 1139.2 1883.4 1139.3 1884.4 1139.8 1885.4 1137.3 1886.4 1140.6 1887.4 1139.0 1888.3 1140.9 1889.3 1138.7 1890.3 1142.4 1891.3 1141.6 1892.3 1139.4 1893.3 1142.0 1894.3 1140.6 1895.2 1144.7 1896.2 1142.9 1897.2 1141.1 1898.2 1142.9 1899.2 1142.6 1900.2 1144.7 1901.2 1143.6 1902.1 1144.0 1903.1 1141.7 1904.1 1144.8 1905.1 1146.9 1906.1 1144.9 1907.1 1144.1 1908.1 1144.6 1909.1 1143.1 1910.0 1144.9 1911.0 1143.2 1912.0 1145.1 1913.0 1144.6 1914.0 1144.1 1915.0 1146.4 1916.0 1143.5 1916.9 1145.8 1917.9 1144.1 1918.9 1149.0 1919.9 1149.4 1920.9 1147.9 1921.9 1149.6 1922.9 1147.8 1923.9 1147.9 1924.8 1146.6 1925.8 1146.1 1926.8 1147.8 1927.8 1147.0 1928.8 1147.3 1929.8 1149.2 1930.8 1148.1 1931.8 1146.1 1932.7 1148.3 1933.7 1147.7 1934.7 1148.5 1935.7 1147.5 1936.7 1151.1 1937.7 1152.4 1938.7 1148.0 1939.7 1150.8 1940.6 1150.9 1941.6 1148.6 1942.6 1150.5 1943.6 1152.6 1944.6 1151.9 1945.6 1153.3 1946.6 1149.2 1947.6 1150.0 1948.5 1151.8 1949.5 1152.0 1950.5 1151.7 1951.5 1151.2 1952.5 1151.4 1953.5 1151.2 1954.5 1153.0 1955.5 1148.3 1956.5 1155.0 1957.4 1152.0 1958.4 1150.8 1959.4 1153.9 1960.4 1151.2 1961.4 1154.0 1962.4 1153.0 1963.4 1154.7 1964.4 1155.1 1965.4 1156.0 1966.3 1153.5 1967.3 1154.0 1968.3 1154.5 1969.3 1152.6 1970.3 1155.8 1971.3 1155.2 1972.3 1153.2 1973.3 1157.2 1974.3 1157.6 1975.3 1153.7 1976.2 1156.7 1977.2 1157.9 1978.2 1157.4 1979.2 1154.8 1980.2 1154.4 1981.2 1156.5 1982.2 1156.0 1983.2 1156.9 1984.2 1156.9 1985.1 1158.0 1986.1 1156.6 1987.1 1157.3 1988.1 1162.2 1989.1 1157.7 1990.1 1159.1 1991.1 1158.6 1992.1 1158.7 1993.1 1157.1 1994.1 1159.4 1995.0 1158.7 1996.0 1160.2 1997.0 1162.2 1998.0 1159.5 1999.0 1160.5 2000.0 1158.0 2001.0 1159.9 2002.0 1162.2 2003.0 1159.9 2004.0 1159.2 2004.9 1160.6 2005.9 1160.2 2006.9 1160.3 2007.9 1160.2 2008.9 1163.9 2009.9 1159.8 2010.9 1160.6 2011.9 1160.5 2012.9 1163.4 2013.9 1161.3 2014.9 1163.8 2015.8 1162.2 2016.8 1162.1 2017.8 1160.1 2018.8 1164.2 2019.8 1163.4 2020.8 1163.3 2021.8 1162.7 2022.8 1162.4 2023.8 1161.3 2024.8 1164.7 2025.8 1163.9 2026.7 1163.1 2027.7 1162.8 2028.7 1164.1 2029.7 1163.9 2030.7 1166.7 2031.7 1165.5 2032.7 1163.6 2033.7 1163.0 2034.7 1164.4 2035.7 1163.6 2036.7 1165.2 2037.6 1165.8 2038.6 1166.3 2039.6 1166.1 2040.6 1165.4 2041.6 1166.7 2042.6 1164.6 2043.6 1166.0 2044.6 1167.5 2045.6 1166.8 2046.6 1164.6 2047.6 1164.9 2048.5 1164.4 2049.5 1169.7 2050.5 1164.8 2051.5 1167.0 2052.5 1170.1 2053.5 1169.2 2054.5 1169.7 2055.5 1167.1 2056.5 1169.1 2057.5 1172.7 2058.5 1168.2 2059.4 1169.0 2060.4 1168.1 2061.4 1168.7 2062.4 1169.4 2063.4 1171.0 2064.4 1167.7 2065.4 1167.1 2066.4 1169.4 2067.4 1169.8 2068.4 1171.8 2069.4 1170.9 2070.3 1169.0 2071.3 1170.9 2072.3 1171.9 2073.3 1170.8 2074.3 1170.0 2075.3 1171.6 2076.3 1170.2 2077.3 1168.1 2078.3 1173.0 2079.3 1169.2 2080.3 1170.8 2081.3 1171.0 2082.2 1171.1 2083.2 1171.3 2084.2 1169.7 2085.2 1172.8 2086.2 1172.2 2087.2 1172.3 2088.2 1174.0 2089.2 1174.2 2090.2 1174.7 2091.2 1175.6 2092.2 1173.6 2093.1 1170.8 2094.1 1173.5 2095.1 1173.4 2096.1 1173.6 2097.1 1172.7 2098.1 1172.4 2099.1 1175.1 2100.1 1175.5 2101.1 1172.5 2102.1 1175.1 2103.1 1174.2 2104.0 1174.0 2105.0 1175.7 2106.0 1174.8 2107.0 1174.1 2108.0 1175.2 2109.0 1172.2 2110.0 1174.5 2111.0 1174.8 2112.0 1173.5 2113.0 1176.0 2114.0 1176.3 2114.9 1175.1 2115.9 1175.9 2116.9 1177.3 2117.9 1178.0 2118.9 1175.4 2119.9 1177.2 2120.9 1178.4 2121.9 1176.9 2122.9 1175.9 2123.9 1176.0 2124.9 1176.8 2125.8 1175.9 2126.8 1180.6 2127.8 1176.9 2128.8 1178.4 2129.8 1178.2 2130.8 1179.1 2131.8 1177.7 2132.8 1176.4 2133.8 1180.9 2134.8 1178.5 2135.7 1178.9 2136.7 1179.2 2137.7 1180.9 2138.7 1180.3 2139.7 1181.0 2140.7 1180.6 2141.7 1179.8 2142.7 1180.0 2143.7 1178.7 2144.7 1177.0 2145.7 1179.7 2146.6 1178.6 2147.6 1184.2 2148.6 1182.8 2149.6 1182.3 2150.6 1179.9 2151.6 1183.9 2152.6 1178.4 2153.6 1179.3 2154.6 1180.0 2155.6 1179.9 2156.5 1181.7 2157.5 1181.9 2158.5 1184.6 2159.5 1183.3 2160.5 1183.8 2161.5 1182.7 2162.5 1182.0 2163.5 1181.3 2164.5 1180.2 2165.4 1181.3 2166.4 1182.2 2167.4 1184.0 2168.4 1180.4 2169.4 1181.1 2170.4 1183.6 2171.4 1181.8 2172.4 1184.0 2173.4 1183.0 2174.4 1182.6 2175.3 1181.9 2176.3 1183.8 2177.3 1183.0 2178.3 1183.3 2179.3 1183.4 2180.3 1184.8 2181.3 1184.8 2182.3 1182.2 2183.3 1184.6 2184.2 1185.6 2185.2 1186.7 2186.2 1186.4 2187.2 1185.7 2188.2 1183.8 2189.2 1184.5 2190.2 1187.1 2191.2 1184.8 2192.2 1187.5 2193.1 1188.0 2194.1 1184.6 2195.1 1187.0 2196.1 1186.3 2197.1 1189.7 2198.1 1188.0 2199.1 1186.1 2200.1 1187.6 2201.0 1185.7 2202.0 1187.0 2203.0 1187.7 2204.0 1187.7 2205.0 1188.1" stroke="#7030A0"/>
<path d="M530.0 96.0L530.2 96.8 530.3 97.7 530.5 98.5 531.0 99.0 531.6 99.2 532.3 99.2 533.2 99.0 534.2 98.8 535.2 98.4 536.2 98.0 537.1 97.5 538.0 97.0 538.7 96.5 539.4 95.8 540.0 95.1 540.7 94.3 541.3 93.4 541.9 92.6 542.5 91.7 543.1 90.9 543.7 90.2 544.4 89.5 545.0 89.0 545.8 88.4 546.6 88.1 547.5 88.2 548.3 86.7 549.1 86.3 550.0 86.2 550.8 87.5 551.7 87.1 552.5 88.0 553.4 87.9 554.3 87.7 555.2 88.0 556.0 87.8 556.8 89.5 557.5 87.2 558.3 88.6 559.0 90.1 559.8 93.2 560.5 89.5 561.2 89.4 562.0 90.9 562.7 94.5 563.3 92.6 563.9 96.5 564.5 90.2 565.2 97.5 565.8 98.1 566.5 92.9 567.2 97.4 567.9 100.8 568.6 98.6 569.4 101.7 570.1 106.2 570.7 100.8 571.5 99.8 572.2 98.9 572.9 103.4 573.7 101.6 574.5 102.1 575.3 102.9 576.1 105.5 576.9 101.2 577.8 100.5 578.6 98.5 579.4 109.2 580.2 106.7 581.0 111.3 581.8 107.7 582.6 106.3 583.3 110.3 584.0 109.4 584.6 106.7 585.3 108.4 585.9 116.5 586.6 113.3 587.2 114.2 587.8 112.9 588.5 112.5 589.1 117.7 589.7 115.6 590.4 114.6 591.0 117.1 591.6 115.7 592.2 119.5 592.8 122.9 593.5 118.2 594.1 125.3 594.7 120.2 595.3 123.2 595.9 121.2 596.6 123.6 597.2 125.1 597.8 124.6 598.4 124.7 598.9 125.6 599.5 126.0 600.1 124.7 600.7 129.2 601.2 131.8 601.8 134.1 602.4 134.2 603.0 140.0 603.6 134.9 604.1 133.5 604.7 140.8 605.3 133.5 605.9 139.9 606.5 135.4 607.1 139.8 607.6 134.2 608.2 143.0 608.8 140.8 609.4 139.4 610.0 147.6 610.6 145.9 611.2 144.7 611.7 143.3 612.3 146.0 612.9 146.5 613.5 149.8 614.1 150.8 614.7 147.5 615.3 148.6 615.9 149.5 616.5 148.0 617.1 150.9 617.6 153.1 618.2 156.1 618.8 158.7 619.4 153.6 620.0 158.2 620.6 156.2 621.2 164.0 621.8 158.9 622.4 161.2 623.0 158.0 623.6 159.2 624.2 162.8 624.8 162.0 625.4 164.8 626.0 160.3 626.6 167.3 627.2 163.7 627.8 171.9 628.4 167.0 629.0 171.7 629.6 165.5 630.2 171.5 630.8 168.6 631.4 170.5 632.0 172.7 632.6 172.6 633.2 175.0 633.8 177.1 634.4 177.7 635.0 176.4 635.6 173.6 636.2 176.0 636.8 178.5 637.4 173.9 638.0 182.7 638.6 180.7 639.2 181.5 639.8 185.7 640.4 185.7 641.0 185.2 641.6 182.6 642.2 187.1 642.8 188.0 643.4 185.3 644.0 191.5 644.6 190.8 645.2 184.7 645.8 191.3 646.4 188.2 647.0 195.7 647.6 195.6 648.2 191.1 648.8 192.5 649.4 196.0 650.0 195.9 650.6 201.6 651.3 200.2 651.9 198.1 652.5 201.3 653.1 194.8 653.7 202.2 654.3 204.5 654.9 202.4 655.5 201.7 656.1 206.1 656.7 210.7 657.3 206.6 657.9 203.7 658.5 211.7 659.1 203.2 659.7 210.6 660.3 208.4 660.9 213.4 661.6 209.2 662.2 216.1 662.8 214.0 663.4 209.1 664.0 209.3 664.6 214.7 665.2 220.0 665.8 217.5 666.4 218.1 667.0 218.1 667.6 221.6 668.2 221.4 668.8 221.9 669.4 219.2 670.0 226.0 670.6 227.3 671.3 220.7 671.9 231.5 672.5 227.9 673.1 225.3 673.7 222.1 674.3 230.1 674.9 230.6 675.5 228.2 676.1 225.6 676.7 234.6 677.3 230.6 677.9 231.7 678.5 241.8 679.1 240.6 679.7 238.1 680.3 234.9 680.9 238.8 681.5 231.4 682.1 238.9 682.7 237.3 683.3 236.6 683.9 236.5 684.5 243.2 685.1 242.8 685.8 243.8 686.4 246.5 687.0 242.6 687.6 242.3 688.2 241.6 688.8 246.4 689.4 250.3 690.0 248.5 690.6 251.5 691.2 247.2 691.8 250.0 692.4 250.0 693.0 249.4 693.6 258.9 694.2 256.9 694.8 253.2 695.4 254.0 696.0 256.8 696.6 253.7 697.2 259.8 697.7 255.7 698.3 259.1 698.9 258.1 699.5 260.4 700.1 258.8 700.7 258.9 701.3 261.4 701.9 263.0 702.5 264.9 703.1 266.7 703.7 271.6 704.3 270.4 704.9 268.2 705.5 271.8 706.1 268.6 706.7 275.4 707.3 273.7 707.8 269.2 708.4 275.9 709.0 276.9 709.6 267.9 710.2 274.1 710.8 275.7 711.4 272.4 712.0 275.6 712.6 276.8 713.2 281.7 713.7 281.9 714.3 289.2 714.9 281.6 715.5 286.7 716.1 284.5 716.7 285.8 717.3 282.7 717.8 281.4 718.4 285.4 719.0 290.5 719.6 293.6 720.2 291.7 720.7 292.2 721.3 289.2 721.9 296.7 722.5 297.0 723.1 292.5 723.6 294.7 724.2 292.9 724.8 300.6 725.4 298.4 726.0 297.8 726.5 300.1 727.1 301.0 727.7 299.4 728.3 297.9 728.8 298.6 729.4 298.1 730.0 305.1 730.6 310.9 731.1 300.7 731.7 306.7 732.3 308.3 732.8 305.2 733.4 309.3 734.0 306.5 734.5 313.8 735.1 309.6 735.7 312.3 736.3 314.8 736.8 312.5 737.4 309.5 738.0 313.9 738.5 318.3 739.1 316.8 739.6 318.5 740.2 315.6 740.8 319.9 741.3 322.3 741.9 321.2 742.5 327.3 743.0 322.2 743.6 320.7 744.2 319.9 744.7 328.5 745.3 325.9 745.8 329.8 746.4 329.0 747.0 333.1 747.5 333.0 748.1 329.2 748.6 331.8 749.2 334.9 749.7 329.3 750.3 337.6 750.9 337.8 751.4 338.0 752.0 335.5 752.5 337.7 753.1 334.6 753.6 338.7 754.2 337.8 754.7 340.5 755.3 339.7 755.8 342.7 756.4 346.0 756.9 339.9 757.5 347.0 758.0 339.7 758.6 340.0 759.1 346.6 759.7 347.8 760.2 349.8 760.8 344.8 761.3 350.1 761.9 351.5 762.4 355.5 763.0 352.5 763.5 355.1 764.1 351.7 764.6 354.8 765.1 354.9 765.7 359.0 766.2 355.1 766.8 356.3 767.3 361.1 767.9 365.4 768.4 362.3 768.9 362.9 769.5 361.9 770.0 366.8 770.6 366.1 771.1 370.3 771.6 367.2 772.2 364.4 772.7 366.3 773.3 366.0 773.8 366.1 774.3 374.0 774.9 373.6 775.4 368.7 775.9 378.0 776.5 374.5 777.0 372.0 777.6 376.6 778.1 376.2 778.6 375.1 779.2 372.6 779.7 379.0 780.2 380.6 780.8 373.4 781.3 383.0 781.8 384.0 782.3 381.8 782.9 384.3 783.4 384.1 783.9 383.4 784.5 385.5 785.0 391.2 785.5 384.2 786.1 389.8 786.6 390.5 787.1 388.8 787.6 390.4 788.2 388.6 788.7 391.0 789.2 394.2 789.7 396.0 790.3 393.4 790.8 405.3 791.3 396.0 791.8 398.8 792.4 398.7 792.9 399.1 793.4 404.7 793.9 400.5 794.5 406.5 795.0 406.8 795.5 401.5 796.0 408.2 796.5 404.3 797.1 414.7 797.6 406.8 798.1 406.1 798.6 404.2 799.1 406.8 799.7 409.6 800.2 409.3 800.7 409.5 801.2 411.9 801.7 414.1 802.3 419.6 802.8 411.6 803.3 415.7 803.8 415.4 804.3 414.7 804.8 416.3 805.4 418.1 805.9 423.5 806.4 421.9 806.9 421.7 807.4 425.8 807.9 425.8 808.4 425.2 808.9 427.8 809.5 425.2 810.0 430.2 810.5 430.6 811.0 429.0 811.5 427.6 812.0 436.1 812.5 433.0 813.0 442.1 813.5 432.6 814.1 437.7 814.6 434.9 815.1 437.7 815.6 440.2 816.1 436.5 816.6 439.3 817.1 440.9 817.6 441.6 818.1 443.8 818.6 445.9 819.1 446.2 819.6 445.5 820.1 444.6 820.7 443.3 821.2 445.3 821.7 446.7 822.2 450.9 822.7 448.9 823.2 447.3 823.7 453.4 824.2 450.2 824.7 451.2 825.2 453.6 825.7 456.4 826.2 449.2 826.7 453.7 827.2 458.1 827.7 457.5 828.2 457.0 828.7 458.7 829.2 465.0 829.7 460.7 830.2 464.8 830.7 465.9 831.2 463.3 831.7 466.7 832.2 465.0 832.7 465.5 833.2 464.9 833.7 471.3 834.2 468.6 834.7 469.1 835.2 468.3 835.7 477.4 836.1 475.3 836.6 473.7 837.1 473.0 837.6 471.5 838.1 477.5 838.6 478.4 839.1 474.5 839.6 482.5 840.1 482.3 840.6 478.3 841.1 480.3 841.6 481.6 842.1 484.1 842.6 484.1 843.0 480.8 843.5 490.4 844.0 488.0 844.5 491.5 845.0 492.3 845.5 489.1 846.0 491.5 846.5 493.5 847.0 494.5 847.5 492.7 847.9 492.3 848.4 495.0 848.9 493.5 849.4 495.1 849.9 491.8 850.4 498.6 850.9 496.4 851.3 498.6 851.8 500.9 852.3 502.8 852.8 508.0 853.3 504.2 853.8 500.5 854.3 505.7 854.7 504.6 855.2 508.2 855.7 506.1 856.2 506.9 856.7 508.3 857.2 508.8 857.6 506.4 858.1 510.5 858.6 513.2 859.1 517.5 859.6 514.1 860.0 514.8 860.5 518.3 861.0 519.1 861.5 522.9 862.0 521.0 862.4 520.2 862.9 524.8 863.4 526.2 863.9 521.5 864.4 524.2 864.8 519.9 865.3 524.4 865.8 523.9 866.3 526.6 866.7 526.7 867.2 528.5 867.7 529.6 868.2 532.1 868.6 532.2 869.1 530.9 869.6 529.7 870.1 537.7 870.5 539.1 871.0 534.7 871.5 538.4 872.0 533.5 872.4 534.2 872.9 538.7 873.4 544.5 873.9 538.3 874.3 539.8 874.8 547.5 875.3 538.6 875.7 546.6 876.2 547.0 876.7 545.9 877.2 547.9 877.6 555.6 878.1 546.0 878.6 549.2 879.0 550.3 879.5 549.9 880.0 548.9 880.4 558.0 880.9 555.1 881.4 550.4 881.8 554.2 882.3 558.2 882.8 559.1 883.3 554.8 883.7 559.5 884.2 561.4 884.7 562.6 885.1 563.5 885.6 558.2 886.0 569.3 886.5 565.6 887.0 571.0 887.4 574.8 887.9 567.2 888.4 565.1 888.8 571.9 889.3 569.8 889.8 570.0 890.2 569.2 890.7 577.7 891.2 572.6 891.6 570.8 892.1 574.4 892.5 573.3 893.0 577.9 893.5 577.1 893.9 576.2 894.4 581.8 894.8 579.2 895.3 583.9 895.8 586.3 896.2 582.6 896.7 582.7 897.1 586.0 897.6 588.8 898.1 587.2 898.5 588.5 899.0 588.9 899.4 590.7 899.9 592.5 900.4 589.6 900.8 591.2 901.3 593.5 901.7 592.4 902.2 595.6 902.6 597.6 903.1 596.9 903.6 596.1 904.0 596.6 904.5 604.5 904.9 603.0 905.4 598.3 905.8 599.9 906.3 608.4 906.7 608.3 907.2 605.3 907.7 609.1 908.1 602.6 908.6 607.6 909.0 610.6 909.5 604.2 909.9 608.1 910.4 613.4 910.8 615.3 911.3 611.3 911.7 614.7 912.2 619.2 912.7 614.6 913.1 612.8 913.6 617.3 914.0 617.2 914.5 622.9 914.9 620.6 915.4 618.8 915.8 628.6 916.3 621.4 916.7 625.0 917.2 626.5 917.6 627.7 918.1 626.9 918.5 628.9 919.0 628.0 919.4 625.1 919.9 629.3 920.3 630.3 920.8 631.2 921.2 633.0 921.7 631.8 922.1 638.1 922.6 639.7 923.1 630.0 923.5 637.1 924.0 636.0 924.4 631.6 924.9 640.9 925.3 638.9 925.8 640.5 926.2 640.6 926.7 646.4 927.1 647.7 927.6 645.9 928.0 648.0 928.5 646.6 928.9 648.2 929.4 646.6 929.8 649.7 930.3 648.5 930.7 652.4 931.2 654.6 931.6 654.1 932.1 657.4 932.5 662.5 933.0 650.0 933.4 656.8 933.9 656.1 934.3 657.3 934.8 655.6 935.2 660.5 935.7 660.5 936.1 660.3 936.6 662.3 937.1 662.2 937.5 658.2 938.0 668.7 938.4 665.7 938.9 664.8 939.3 669.2 939.8 667.4 940.2 664.1 940.7 673.5 941.1 667.3 941.6 672.2 942.0 674.1 942.5 678.4 942.9 678.9 943.4 676.9 943.8 675.2 944.3 677.0 944.8 682.1 945.2 685.0 945.7 682.4 946.1 680.0 946.6 685.5 947.0 682.5 947.5 683.3 947.9 684.6 948.4 687.9 948.8 687.9 949.3 690.8 949.8 692.5 950.2 691.2 950.7 684.2 951.1 686.8 951.6 692.9 952.0 693.2 952.5 700.3 953.0 695.1 953.4 695.6 953.9 699.6 954.3 700.8 954.8 698.0 955.2 700.9 955.7 697.3 956.2 698.7 956.6 705.7 957.1 699.2 957.5 706.6 958.0 706.8 958.5 708.0 958.9 709.3 959.4 709.2 959.8 702.5 960.3 706.6 960.8 708.6 961.2 713.7 961.7 708.9 962.2 711.0 962.6 712.8 963.1 718.4 963.5 711.6 964.0 712.7 964.5 719.1 964.9 712.3 965.4 720.1 965.9 718.8 966.3 716.5 966.8 720.6 967.3 719.9 967.7 724.1 968.2 725.5 968.7 729.5 969.1 726.2 969.6 727.4 970.1 726.4 970.5 728.8 971.0 732.7 971.5 725.3 971.9 733.4 972.4 730.9 972.9 733.5 973.3 735.1 973.8 737.5 974.3 736.6 974.7 735.7 975.2 738.6 975.7 738.6 976.2 738.9 976.6 740.9 977.1 743.7 977.6 742.5 978.1 743.5 978.5 740.3 979.0 744.4 979.5 740.5 980.0 748.6 980.4 744.8 980.9 751.9 981.4 757.6 981.9 748.9 982.3 754.7 982.8 752.9 983.3 751.1 983.8 751.2 984.3 756.0 984.7 759.2 985.2 757.2 985.7 752.8 986.2 755.0 986.7 758.2 987.1 763.5 987.6 761.4 988.1 762.4 988.6 765.7 989.1 762.6 989.6 763.8 990.0 764.4 990.5 760.9 991.0 768.0 991.5 768.7 992.0 771.2 992.5 766.0 993.0 767.9 993.5 773.7 993.9 772.8 994.4 776.7 994.9 771.3 995.4 775.1 995.9 773.5 996.4 777.2 996.9 775.8 997.4 779.5 997.9 781.9 998.4 781.7 998.9 775.6 999.4 784.1 999.9 783.6 1000.4 780.3 1000.9 781.6 1001.3 785.0 1001.8 787.4 1002.3 785.4 1002.8 783.0 1003.3 789.2 1003.8 789.8 1004.3 797.0 1004.8 787.4 1005.3 798.9 1005.9 797.6 1006.4 794.5 1006.9 799.1 1007.4 795.6 1007.9 798.9 1008.4 795.0 1008.9 798.1 1009.4 795.9 1009.9 795.2 1010.4 799.7 1010.9 799.5 1011.4 803.8 1011.9 806.6 1012.4 803.5 1013.0 804.9 1013.5 806.2 1014.0 801.8 1014.5 808.1 1015.0 808.2 1015.5 808.9 1016.0 806.8 1016.6 805.2 1017.1 810.9 1017.6 813.4 1018.1 817.1 1018.6 817.3 1019.2 819.1 1019.7 816.9 1020.2 820.0 1020.7 817.0 1021.2 820.2 1021.8 821.9 1022.3 827.7 1022.8 821.7 1023.3 818.3 1023.9 826.5 1024.4 821.3 1024.9 824.2 1025.5 824.4 1026.0 823.5 1026.5 830.6 1027.0 829.4 1027.6 826.9 1028.1 829.6 1028.6 829.1 1029.2 832.9 1029.7 830.9 1030.3 830.7 1030.8 831.9 1031.3 833.3 1031.9 836.1 1032.4 833.6 1032.9 836.8 1033.5 839.1 1034.0 845.2 1034.6 841.9 1035.1 832.0 1035.7 839.8 1036.2 840.9 1036.7 843.8 1037.3 848.1 1037.8 846.6 1038.4 838.9 1038.9 847.1 1039.5 847.3 1040.0 849.0 1040.6 852.5 1041.1 846.5 1041.7 853.5 1042.2 846.6 1042.8 852.2 1043.4 853.9 1043.9 860.1 1044.5 852.6 1045.0 850.6 1045.6 858.1 1046.1 855.2 1046.7 862.2 1047.3 856.7 1047.8 857.0 1048.4 863.8 1048.9 861.4 1049.5 864.8 1050.1 858.8 1050.6 868.2 1051.2 862.8 1051.8 867.6 1052.3 863.3 1052.9 862.6 1053.4 867.0 1054.0 869.0 1054.6 873.8 1055.1 871.2 1055.7 873.0 1056.3 873.7 1056.9 881.4 1057.4 871.2 1058.0 877.8 1058.6 874.7 1059.1 876.7 1059.7 875.2 1060.3 880.8 1060.8 874.9 1061.4 875.5 1062.0 879.5 1062.6 877.6 1063.1 883.6 1063.7 885.1 1064.3 881.2 1064.9 886.3 1065.4 883.1 1066.0 885.6 1066.6 886.6 1067.2 892.6 1067.7 888.2 1068.3 886.5 1068.9 887.3 1069.5 894.0 1070.1 886.8 1070.6 891.0 1071.2 892.0 1071.8 887.0 1072.4 893.4 1073.0 898.3 1073.5 897.0 1074.1 894.6 1074.7 899.9 1075.3 900.2 1075.9 905.3 1076.4 898.3 1077.0 900.1 1077.6 902.2 1078.2 902.5 1078.8 903.9 1079.3 904.2 1079.9 903.3 1080.5 901.6 1081.1 905.3 1081.7 903.8 1082.3 905.6 1082.8 907.8 1083.4 911.6 1084.0 913.3 1084.6 908.9 1085.2 913.4 1085.8 915.6 1086.3 914.1 1086.9 910.4 1087.5 909.8 1088.1 918.8 1088.7 920.0 1089.3 919.0 1089.9 916.1 1090.4 923.9 1091.0 924.0 1091.6 921.3 1092.2 921.6 1092.8 917.6 1093.4 926.0 1093.9 920.2 1094.5 927.4 1095.1 928.3 1095.7 927.4 1096.3 932.4 1096.9 927.8 1097.5 931.2 1098.0 932.6 1098.6 931.9 1099.2 930.8 1099.8 936.2 1100.4 934.8 1101.0 933.9 1101.5 934.8 1102.1 936.4 1102.7 943.2 1103.3 938.0 1103.9 937.8 1104.5 936.3 1105.0 936.7 1105.6 935.6 1106.2 942.4 1106.8 942.6 1107.4 940.5 1108.0 940.0 1108.5 944.1 1109.1 944.3 1109.7 942.9 1110.3 948.2 1110.9 948.6 1111.4 948.9 1112.0 952.0 1112.6 948.8 1113.2 955.3 1113.8 949.4 1114.3 954.5 1114.9 955.7 1115.5 954.0 1116.1 956.5 1116.7 952.8 1117.2 953.0 1117.8 957.4 1118.4 956.7 1119.0 961.3 1119.5 960.5 1120.1 963.0 1120.7 962.9 1121.3 963.4 1121.8 964.0 1122.4 963.5 1123.0 964.0 1123.6 971.8 1124.1 962.0 1124.7 967.3 1125.3 971.4 1125.9 970.6 1126.4 974.2 1127.0 972.6 1127.6 968.3 1128.1 971.8 1128.7 969.6 1129.3 977.1 1129.8 979.2 1130.4 974.7 1131.0 978.3 1131.6 976.5 1132.1 974.4 1132.7 978.0 1133.3 975.6 1133.8 979.3 1134.4 982.3 1134.9 984.6 1135.5 987.0 1136.1 983.2 1136.6 985.7 1137.2 987.0 1137.8 988.2 1138.3 979.5 1138.9 986.1 1139.4 991.4 1140.0 986.8 1140.5 991.5 1141.1 993.9 1141.7 987.1 1142.2 992.7 1142.8 994.7 1143.3 994.9 1143.9 991.5 1144.4 997.5 1145.0 995.8 1145.5 1000.5 1146.1 1000.3 1146.6 998.3 1147.2 1001.2 1147.7 999.6 1148.3 1000.4 1148.8 998.8 1149.4 1003.4 1149.9 1007.1 1150.5 1006.0 1151.0 1006.5 1151.6 1005.6 1152.1 1006.7 1152.6 1011.1 1153.2 1005.7 1153.7 1016.5 1154.3 1011.3 1154.8 1018.4 1155.3 1016.5 1155.9 1012.9 1156.4 1016.9 1156.9 1016.4 1157.5 1017.8 1158.0 1019.6 1158.5 1016.7 1159.1 1017.3 1159.6 1018.7 1160.1 1016.9 1160.6 1020.8 1161.2 1023.1 1161.7 1024.0 1162.2 1024.7 1162.8 1023.9 1163.3 1028.0 1163.8 1020.9 1164.3 1026.4 1164.8 1027.4 1165.4 1031.7 1165.9 1031.9 1166.4 1033.1 1166.9 1031.8 1167.4 1035.2 1168.0 1030.6 1168.5 1034.5 1169.0 1029.2 1169.5 1040.8 1170.0 1041.3 1170.5 1036.0 1171.1 1036.1 1171.6 1033.5 1172.1 1035.9 1172.6 1041.4 1173.1 1041.5 1173.6 1038.7 1174.1 1042.3 1174.6 1042.6 1175.1 1046.7 1175.7 1048.2 1176.2 1046.5 1176.7 1048.3 1177.2 1048.8 1177.7 1043.8 1178.2 1051.0 1178.7 1051.2 1179.2 1054.4 1179.7 1048.0 1180.2 1056.1 1180.7 1053.1 1181.3 1056.5 1181.8 1060.0 1182.3 1053.3 1182.8 1054.6 1183.3 1061.9 1183.8 1056.8 1184.3 1058.2 1184.8 1063.4 1185.3 1062.0 1185.8 1065.7 1186.3 1065.2 1186.8 1065.1 1187.3 1068.8 1187.8 1073.1 1188.3 1067.5 1188.9 1072.8 1189.4 1072.7 1189.9 1070.7 1190.4 1072.5 1190.9 1069.5 1191.4 1071.3 1191.9 1074.6 1192.4 1074.6 1192.9 1079.2 1193.4 1072.8 1193.9 1076.5 1194.4 1076.4 1195.0 1078.6 1195.5 1083.1 1196.0 1077.4 1196.5 1084.0 1197.0 1080.8 1197.5 1082.4 1198.0 1087.0 1198.5 1084.3 1199.0 1087.8 1199.6 1087.1 1200.1 1087.2 1200.6 1087.5 1201.1 1084.5 1201.6 1088.1 1202.1 1091.6 1202.6 1092.5 1203.2 1088.6 1203.7 1096.5 1204.2 1096.2 1204.7 1091.8 1205.2 1093.3 1205.7 1098.6 1206.3 1093.1 1206.8 1096.8 1207.3 1099.6 1207.8 1100.2 1208.4 1101.3 1208.9 1103.4 1209.4 1100.9 1209.9 1102.6 1210.5 1110.6 1211.0 1101.8 1211.5 1105.3 1212.0 1107.7 1212.6 1106.5 1213.1 1112.6 1213.6 1110.2 1214.2 1113.0 1214.7 1104.4 1215.2 1115.9 1215.8 1116.6 1216.3 1112.2 1216.8 1118.8 1217.4 1116.7 1217.9 1119.4 1218.5 1122.8 1219.0 1118.8 1219.5 1116.5 1220.1 1120.2 1220.6 1117.5 1221.2 1119.7 1221.7 1120.6 1222.3 1121.6 1222.8 1127.7 1223.4 1127.6 1223.9 1123.6 1224.5 1130.1 1225.1 1123.1 1225.6 1126.8 1226.2 1129.1 1226.7 1133.6 1227.3 1133.2 1227.9 1133.3 1228.4 1136.5 1229.0 1135.7 1229.6 1138.3 1230.1 1133.1 1230.7 1131.4 1231.3 1135.8 1231.9 1140.1 1232.4 1139.3 1233.0 1141.9 1233.6 1142.3 1234.2 1142.5 1234.8 1144.2 1235.4 1140.7 1236.0 1146.6 1236.5 1141.5 1237.1 1144.8 1237.7 1142.0 1238.3 1148.2 1238.9 1143.2 1239.5 1152.3 1240.1 1145.4 1240.7 1150.7 1241.3 1150.4 1242.0 1149.1 1242.6 1155.9 1243.2 1152.0 1243.8 1158.1 1244.4 1151.9 1245.0 1153.3 1245.7 1150.7 1246.3 1158.7 1246.9 1160.5 1247.5 1159.3 1248.2 1159.0 1248.8 1157.6 1249.4 1167.6 1250.1 1163.9 1250.7 1157.4 1251.4 1162.4 1252.0 1156.8 1252.6 1169.3 1253.3 1171.2 1253.9 1170.5 1254.6 1167.0 1255.2 1166.2 1255.9 1164.7 1256.6 1170.9 1257.2 1168.1 1257.9 1169.9 1258.6 1169.9 1259.2 1171.5 1259.9 1175.7 1260.6 1178.6 1261.2 1175.1 1261.9 1175.4 1262.6 1173.0 1263.3 1173.4 1264.0 1174.6 1264.6 1180.8 1265.3 1179.7 1266.0 1182.5 1266.7 1181.7 1267.4 1180.1 1268.1 1178.4 1268.8 1181.6 1269.5 1179.3 1270.2 1189.7 1270.9 1185.5 1271.6 1184.4 1272.3 1191.8 1273.1 1185.8 1273.8 1189.1 1274.5 1187.8 1275.2 1190.0 1275.9 1188.6 1276.6 1191.7 1277.4 1195.0 1278.1 1188.1 1278.8 1186.1 1279.6 1196.9 1280.3 1194.2 1281.0 1196.9 1281.8 1194.2 1282.5 1200.1 1283.3 1201.5 1284.0 1193.7 1284.8 1199.6 1285.5 1196.6 1286.3 1194.4 1287.0 1198.8 1287.8 1201.9 1288.6 1197.0 1289.3 1197.9 1290.1 1205.7 1290.8 1202.9 1291.6 1204.6 1292.4 1200.8 1293.2 1202.8 1293.9 1205.6 1294.7 1206.4 1295.5 1206.9 1296.3 1211.6 1297.1 1208.2 1297.9 1204.0 1298.7 1206.4 1299.5 1209.3 1300.3 1213.7 1301.1 1208.7 1301.9 1210.1 1302.7 1211.7 1303.5 1210.4 1304.3 1210.6 1305.1 1212.9 1305.9 1216.9 1306.7 1216.0 1307.5 1214.4 1308.3 1216.9 1309.2 1212.7 1310.0 1219.7 1310.8 1219.6 1311.6 1218.9 1312.5 1214.0 1313.3 1224.9 1314.1 1211.4 1315.0 1217.4 1315.8 1218.1 1316.6 1223.2 1317.5 1217.6 1318.3 1223.0 1319.1 1222.4 1320.0 1222.6 1320.8 1226.3 1321.7 1228.5 1322.5 1226.1 1323.4 1224.7 1324.2 1219.5 1325.1 1230.7 1326.0 1226.1 1326.8 1222.3 1327.7 1228.5 1328.5 1232.6 1329.4 1228.6 1330.3 1226.2 1331.1 1236.4 1332.0 1232.2 1332.9 1231.9 1333.7 1234.3 1334.6 1225.8 1335.5 1232.2 1336.3 1232.4 1337.2 1239.7 1338.1 1232.2 1339.0 1232.7 1339.8 1230.8 1340.7 1232.8 1341.6 1235.0 1342.5 1236.8 1343.4 1236.0 1344.3 1242.7 1345.1 1238.8 1346.0 1239.7 1346.9 1242.2 1347.8 1240.5 1348.7 1237.7 1349.6 1235.2 1350.5 1241.0 1351.4 1238.1 1352.3 1244.6 1353.2 1239.1 1354.1 1235.4 1355.0 1242.2 1355.9 1245.5 1356.8 1242.3 1357.7 1243.8 1358.6 1244.1 1359.5 1249.0 1360.4 1245.4 1361.3 1244.8 1362.2 1243.5 1363.1 1241.0 1364.0 1250.0 1364.9 1249.7 1365.8 1244.1 1366.8 1248.9 1367.7 1248.5 1368.6 1246.8 1369.5 1247.4 1370.4 1250.8 1371.3 1245.6 1372.3 1247.9 1373.2 1249.5 1374.1 1250.1 1375.0 1249.9 1375.9 1251.4 1376.9 1252.7 1377.8 1249.0 1378.7 1252.1 1379.6 1250.7 1380.6 1256.8 1381.5 1248.9 1382.4 1252.6 1383.4 1255.5 1384.3 1253.1 1385.2 1253.3 1386.2 1253.0 1387.1 1255.8 1388.0 1251.9 1389.0 1255.3 1389.9 1255.6 1390.8 1252.0 1391.8 1257.3 1392.7 1255.5 1393.7 1258.0 1394.6 1259.9 1395.6 1258.7 1396.5 1254.7 1397.4 1259.3 1398.4 1254.1 1399.3 1256.8 1400.3 1264.0 1401.2 1259.6 1402.2 1264.3 1403.1 1259.7 1404.1 1260.5 1405.0 1257.6 1406.0 1263.7 1406.9 1260.8 1407.9 1263.4 1408.8 1263.1 1409.8 1263.7 1410.7 1263.4 1411.7 1262.7 1412.7 1263.0 1413.6 1261.4 1414.6 1257.6 1415.5 1265.3 1416.5 1270.0 1417.5 1267.5 1418.4 1271.3 1419.4 1266.3 1420.3 1262.5 1421.3 1262.7 1422.3 1267.9 1423.2 1267.0 1424.2 1265.8 1425.2 1268.6 1426.1 1264.3 1427.1 1268.5 1428.1 1266.5 1429.0 1268.0 1430.0 1271.2 1431.0 1267.6 1431.9 1272.2 1432.9 1272.3 1433.9 1266.6 1434.8 1275.6 1435.8 1265.7 1436.8 1269.2 1437.8 1271.8 1438.7 1263.5 1439.7 1273.1 1440.7 1273.6 1441.7 1270.3 1442.6 1271.6 1443.6 1271.7 1444.6 1270.7 1445.6 1274.6 1446.6 1270.7 1447.5 1271.8 1448.5 1273.2 1449.5 1274.8 1450.5 1275.7 1451.4 1268.6 1452.4 1267.3 1453.4 1272.9 1454.4 1273.3 1455.4 1270.6 1456.4 1274.7 1457.3 1275.9 1458.3 1275.4 1459.3 1279.2 1460.3 1271.7 1461.3 1274.9 1462.3 1280.6 1463.2 1277.2 1464.2 1272.3 1465.2 1276.2 1466.2 1279.2 1467.2 1282.0 1468.2 1278.1 1469.2 1279.8 1470.2 1273.5 1471.1 1276.1 1472.1 1280.4 1473.1 1274.5 1474.1 1277.2 1475.1 1272.3 1476.1 1282.0 1477.1 1277.6 1478.1 1279.7 1479.1 1274.0 1480.0 1274.8 1481.0 1283.8 1482.0 1277.9 1483.0 1277.5 1484.0 1280.7 1485.0 1281.0 1486.0 1274.0 1487.0 1277.0 1488.0 1280.1 1489.0 1280.1 1490.0 1281.3 1491.0 1279.2 1492.0 1279.8 1493.0 1281.4 1493.9 1279.0 1494.9 1278.8 1495.9 1279.7 1496.9 1281.5 1497.9 1281.2 1498.9 1280.5 1499.9 1281.3 1500.9 1282.0 1501.9 1283.2 1502.9 1283.5 1503.9 1279.0 1504.9 1285.6 1505.9 1278.4 1506.9 1284.7 1507.9 1281.3 1508.9 1285.1 1509.9 1286.6 1510.9 1278.5 1511.9 1285.7 1512.9 1284.9 1513.8 1283.0 1514.8 1285.5 1515.8 1283.2 1516.8 1285.1 1517.8 1281.9 1518.8 1287.3 1519.8 1286.9 1520.8 1287.5 1521.8 1283.7 1522.8 1290.9 1523.8 1291.5 1524.8 1285.8 1525.8 1285.0 1526.8 1285.2 1527.8 1288.5 1528.8 1289.6 1529.8 1284.7 1530.8 1281.3 1531.8 1288.4 1532.8 1287.2 1533.8 1287.9 1534.8 1289.1 1535.8 1284.6 1536.7 1288.1 1537.7 1287.2 1538.7 1289.3 1539.7 1291.8 1540.7 1288.6 1541.7 1286.3 1542.7 1292.4 1543.7 1291.0 1544.7 1288.6 1545.7 1284.2 1546.7 1287.0 1547.7 1290.0 1548.7 1291.3 1549.7 1288.4 1550.7 1291.3 1551.7 1288.4 1552.7 1289.2 1553.7 1292.0 1554.7 1289.9 1555.7 1291.2 1556.6 1293.4 1557.6 1294.3 1558.6 1289.6 1559.6 1290.7 1560.6 1287.8 1561.6 1288.0 1562.6 1292.7 1563.6 1290.6 1564.6 1287.0 1565.6 1293.8 1566.6 1290.1 1567.6 1291.7 1568.6 1293.9 1569.6 1294.0 1570.6 1292.9 1571.6 1287.6 1572.6 1295.0 1573.6 1291.9 1574.5 1289.7 1575.5 1287.6 1576.5 1297.7 1577.5 1294.5 1578.5 1294.6 1579.5 1296.1 1580.5 1294.4 1581.5 1290.6 1582.5 1296.8 1583.5 1297.8 1584.5 1296.6 1585.5 1299.6 1586.5 1300.8 1587.5 1293.4 1588.5 1294.5 1589.5 1298.4 1590.4 1296.6 1591.4 1296.8 1592.4 1299.0 1593.4 1298.6 1594.4 1295.4 1595.4 1297.2 1596.4 1295.0 1597.4 1296.6 1598.4 1294.1 1599.4 1291.9 1600.4 1296.2 1601.4 1296.0 1602.4 1300.3 1603.4 1302.4 1604.4 1298.2 1605.3 1299.6 1606.3 1296.6 1607.3 1296.0 1608.3 1297.9 1609.3 1298.1 1610.3 1299.8 1611.3 1299.5 1612.3 1304.0 1613.3 1298.8 1614.3 1295.0 1615.3 1300.1 1616.3 1298.0 1617.3 1300.6 1618.3 1303.3 1619.3 1298.5 1620.2 1300.3 1621.2 1302.1 1622.2 1298.1 1623.2 1301.5 1624.2 1302.6 1625.2 1303.5 1626.2 1304.4 1627.2 1303.0 1628.2 1302.7 1629.2 1297.9 1630.2 1294.4 1631.2 1299.3 1632.2 1306.2 1633.1 1302.6 1634.1 1296.1 1635.1 1301.4 1636.1 1303.7 1637.1 1297.7 1638.1 1304.6 1639.1 1300.0 1640.1 1306.2 1641.1 1303.5 1642.1 1312.2 1643.1 1300.0 1644.1 1304.7 1645.1 1299.9 1646.1 1307.4 1647.0 1304.6 1648.0 1307.0 1649.0 1304.8 1650.0 1301.4 1651.0 1303.0 1652.0 1301.5 1653.0 1302.2 1654.0 1305.7 1655.0 1308.4 1656.0 1307.9 1657.0 1307.1 1658.0 1304.2 1658.9 1307.4 1659.9 1303.7 1660.9 1306.8 1661.9 1308.7 1662.9 1305.9 1663.9 1305.3 1664.9 1305.5 1665.9 1308.6 1666.9 1306.1 1667.9 1303.2 1668.9 1306.1 1669.9 1304.4 1670.9 1311.7 1671.8 1307.7 1672.8 1303.7 1673.8 1308.7 1674.8 1310.1 1675.8 1309.3 1676.8 1307.3 1677.8 1308.9 1678.8 1309.4 1679.8 1311.5 1680.8 1309.9 1681.8 1315.3 1682.8 1308.5 1683.7 1313.5 1684.7 1309.4 1685.7 1304.8 1686.7 1306.4 1687.7 1304.7 1688.7 1305.1 1689.7 1313.4 1690.7 1308.3 1691.7 1312.0 1692.7 1307.9 1693.7 1310.5 1694.7 1307.7 1695.6 1313.2 1696.6 1310.2 1697.6 1309.8 1698.6 1310.7 1699.6 1317.4 1700.6 1312.7 1701.6 1313.9 1702.6 1308.2 1703.6 1310.0 1704.6 1312.8 1705.6 1306.9 1706.6 1315.9 1707.5 1313.1 1708.5 1312.4 1709.5 1312.0 1710.5 1312.1 1711.5 1311.4 1712.5 1316.9 1713.5 1315.0 1714.5 1316.7 1715.5 1312.5 1716.5 1311.0 1717.5 1317.4 1718.4 1310.3 1719.4 1312.1 1720.4 1316.0 1721.4 1317.1 1722.4 1310.6 1723.4 1313.6 1724.4 1314.5 1725.4 1314.2 1726.4 1312.3 1727.4 1316.7 1728.4 1313.5 1729.4 1314.4 1730.3 1308.9 1731.3 1315.0 1732.3 1310.0 1733.3 1317.5 1734.3 1317.1 1735.3 1314.4 1736.3 1316.4 1737.3 1316.4 1738.3 1315.8 1739.3 1317.3 1740.3 1316.1 1741.2 1315.2 1742.2 1314.5 1743.2 1321.5 1744.2 1317.4 1745.2 1317.0 1746.2 1319.2 1747.2 1316.2 1748.2 1316.3 1749.2 1319.4 1750.2 1320.5 1751.2 1319.6 1752.1 1313.7 1753.1 1318.1 1754.1 1318.0 1755.1 1319.5 1756.1 1315.9 1757.1 1315.5 1758.1 1318.3 1759.1 1316.2 1760.1 1315.8 1761.1 1318.7 1762.1 1321.6 1763.0 1319.5 1764.0 1322.4 1765.0 1316.6 1766.0 1321.5 1767.0 1319.6 1768.0 1317.3 1769.0 1318.7 1770.0 1317.6 1771.0 1319.5 1772.0 1318.1 1773.0 1323.8 1774.0 1319.4 1774.9 1316.6 1775.9 1320.1 1776.9 1321.9 1777.9 1320.0 1778.9 1323.4 1779.9 1318.6 1780.9 1318.9 1781.9 1325.9 1782.9 1321.5 1783.9 1323.1 1784.9 1323.1 1785.8 1323.4 1786.8 1322.1 1787.8 1321.5 1788.8 1325.2 1789.8 1320.9 1790.8 1322.7 1791.8 1324.4 1792.8 1321.5 1793.8 1318.5 1794.8 1324.1 1795.8 1325.9 1796.7 1323.8 1797.7 1318.6 1798.7 1325.1 1799.7 1328.8 1800.7 1319.3 1801.7 1316.2 1802.7 1323.1 1803.7 1324.1 1804.7 1326.1 1805.7 1326.3 1806.7 1324.5 1807.6 1325.8 1808.6 1325.3 1809.6 1324.9 1810.6 1324.5 1811.6 1324.3 1812.6 1326.8 1813.6 1326.1 1814.6 1323.9 1815.6 1328.2 1816.6 1323.3 1817.6 1324.8 1818.6 1325.9 1819.5 1320.4 1820.5 1324.7 1821.5 1328.2 1822.5 1328.2 1823.5 1322.8 1824.5 1323.9 1825.5 1323.3 1826.5 1325.7 1827.5 1326.3 1828.5 1322.2 1829.5 1327.6 1830.4 1327.0 1831.4 1326.7 1832.4 1325.2 1833.4 1326.6 1834.4 1322.4 1835.4 1328.0 1836.4 1328.0 1837.4 1327.3 1838.4 1324.4 1839.4 1331.3 1840.4 1331.0 1841.4 1322.9 1842.3 1329.2 1843.3 1328.6 1844.3 1321.3 1845.3 1329.8 1846.3 1330.3 1847.3 1330.6 1848.3 1329.2 1849.3 1327.1 1850.3 1327.5 1851.3 1330.4 1852.3 1332.3 1853.3 1327.9 1854.2 1328.6 1855.2 1331.4 1856.2 1323.7 1857.2 1330.9 1858.2 1329.1 1859.2 1323.9 1860.2 1332.1 1861.2 1327.6 1862.2 1332.3 1863.2 1334.0 1864.2 1327.0 1865.2 1327.2 1866.1 1330.6 1867.1 1325.9 1868.1 1332.8 1869.1 1331.4 1870.1 1333.7 1871.1 1326.1 1872.1 1331.8 1873.1 1332.6 1874.1 1326.5 1875.1 1334.0 1876.1 1327.9 1877.1 1332.2 1878.0 1328.2 1879.0 1334.1 1880.0 1336.7 1881.0 1332.3 1882.0 1332.3 1883.0 1335.9 1884.0 1331.2 1885.0 1332.7 1886.0 1334.9 1887.0 1333.9 1888.0 1337.2 1889.0 1336.3 1889.9 1338.4 1890.9 1333.2 1891.9 1336.4 1892.9 1331.2 1893.9 1336.0 1894.9 1338.5 1895.9 1340.2 1896.9 1330.5 1897.9 1333.5 1898.9 1336.1 1899.9 1331.8 1900.9 1335.8 1901.9 1335.9 1902.8 1333.2 1903.8 1333.1 1904.8 1332.2 1905.8 1335.6 1906.8 1338.4 1907.8 1335.8 1908.8 1342.7 1909.8 1331.1 1910.8 1333.7 1911.8 1337.2 1912.8 1332.4 1913.8 1336.5 1914.8 1337.9 1915.7 1336.3 1916.7 1335.3 1917.7 1338.5 1918.7 1337.2 1919.7 1338.1 1920.7 1337.7 1921.7 1334.5 1922.7 1333.4 1923.7 1335.5 1924.7 1337.1 1925.7 1336.2 1926.7 1339.4 1927.7 1337.6 1928.7 1339.7 1929.6 1337.4 1930.6 1335.2 1931.6 1339.6 1932.6 1338.7 1933.6 1335.1 1934.6 1336.4 1935.6 1345.3 1936.6 1328.4 1937.6 1340.9 1938.6 1338.0 1939.6 1337.8 1940.6 1337.2 1941.6 1336.7 1942.6 1344.7 1943.6 1337.1 1944.5 1337.6 1945.5 1340.7 1946.5 1339.6 1947.5 1338.2 1948.5 1337.9 1949.5 1335.1 1950.5 1341.9 1951.5 1336.1 1952.5 1332.4 1953.5 1342.1 1954.5 1341.3 1955.5 1340.3 1956.5 1338.0 1957.5 1342.8 1958.5 1336.6 1959.4 1333.6 1960.4 1340.2 1961.4 1342.1 1962.4 1341.6 1963.4 1345.8 1964.4 1342.4 1965.4 1339.6 1966.4 1339.7 1967.4 1342.8 1968.4 1340.3 1969.4 1340.2 1970.4 1335.7 1971.4 1339.8 1972.4 1337.2 1973.4 1341.5 1974.4 1341.3 1975.4 1343.0 1976.3 1346.1 1977.3 1340.7 1978.3 1345.3 1979.3 1338.2 1980.3 1341.9 1981.3 1344.2 1982.3 1347.1 1983.3 1338.7 1984.3 1341.1 1985.3 1342.3 1986.3 1341.7 1987.3 1339.4 1988.3 1337.6 1989.3 1338.8 1990.3 1342.1 1991.3 1338.7 1992.3 1347.5 1993.3 1346.0 1994.2 1337.4 1995.2 1341.4 1996.2 1346.5 1997.2 1347.0 1998.2 1346.1 1999.2 1339.1 2000.2 1342.2 2001.2 1346.8 2002.2 1343.6 2003.2 1342.2 2004.2 1344.9 2005.2 1346.4 2006.2 1344.1 2007.2 1344.5 2008.2 1346.8 2009.2 1342.4 2010.2 1341.5 2011.2 1346.2 2012.2 1340.8 2013.2 1345.6 2014.2 1342.3 2015.1 1346.8 2016.1 1341.2 2017.1 1347.8 2018.1 1345.5 2019.1 1343.9 2020.1 1342.4 2021.1 1344.5 2022.1 1342.4 2023.1 1341.7 2024.1 1348.2 2025.1 1346.9 2026.1 1348.8 2027.1 1341.6 2028.1 1340.0 2029.1 1341.1 2030.1 1347.5 2031.1 1348.0 2032.1 1340.6 2033.1 1348.7 2034.1 1344.7 2035.1 1342.7 2036.1 1345.9 2037.1 1347.8 2038.1 1345.7 2039.1 1345.8 2040.0 1344.1 2041.0 1342.5 2042.0 1345.5 2043.0 1342.1 2044.0 1348.4 2045.0 1344.4 2046.0 1350.6 2047.0 1342.5 2048.0 1351.0 2049.0 1344.6 2050.0 1344.7 2051.0 1348.1 2052.0 1349.9 2053.0 1347.3 2054.0 1346.5 2055.0 1353.2 2056.0 1349.1 2057.0 1344.4 2058.0 1347.1 2059.0 1352.6 2060.0 1348.9 2061.0 1350.4 2062.0 1353.8 2063.0 1346.5 2064.0 1349.3 2065.0 1346.5 2066.0 1348.4 2067.0 1350.0 2068.0 1344.9 2069.0 1349.1 2070.0 1349.1 2071.0 1351.8 2072.0 1347.2 2073.0 1345.4 2074.0 1350.2 2075.0 1346.0 2075.9 1349.7 2076.9 1350.9 2077.9 1346.9 2078.9 1349.1 2079.9 1346.6 2080.9 1341.6 2081.9 1345.6 2082.9 1343.8 2083.9 1349.8 2084.9 1346.9 2085.9 1349.5 2086.9 1349.9 2087.9 1353.1 2088.9 1349.2 2089.9 1349.1 2090.9 1351.7 2091.9 1354.9 2092.9 1350.2 2093.9 1351.5 2094.9 1350.0 2095.9 1348.7 2096.9 1346.4 2097.9 1350.6 2098.9 1350.1 2099.9 1350.3 2100.9 1356.6 2101.9 1350.2 2102.9 1352.1 2103.9 1350.3 2104.9 1354.6 2105.9 1350.6 2106.9 1356.7 2107.9 1350.8 2108.9 1353.8 2109.9 1354.6 2110.9 1351.1 2111.9 1354.2 2112.9 1352.1 2113.9 1349.9 2114.9 1350.2 2115.9 1353.1 2116.9 1357.2 2117.9 1350.9 2118.9 1353.9 2119.9 1350.2 2120.9 1353.2 2121.9 1348.9 2122.9 1350.4 2123.9 1352.7 2124.9 1350.7 2125.9 1352.1 2126.9 1355.7 2127.9 1352.6 2128.9 1351.0 2129.9 1349.7 2130.9 1351.7 2131.9 1356.5 2132.9 1353.1 2133.9 1353.0 2134.9 1355.5 2135.9 1355.9 2136.9 1356.4 2137.9 1352.7 2138.9 1351.2 2139.9 1349.1 2140.9 1352.0 2141.9 1352.9 2142.9 1356.1 2143.9 1355.0 2144.9 1352.6 2145.9 1356.7 2146.9 1350.8 2147.9 1351.4 2148.9 1351.1 2149.9 1351.4 2150.9 1353.9 2151.9 1352.3 2153.0 1352.6 2154.0 1358.5 2155.0 1350.7 2156.0 1352.0 2157.0 1354.3 2158.0 1356.3 2159.0 1356.5 2160.0 1354.4 2161.0 1354.2 2162.0 1354.6 2163.0 1357.5 2164.0 1352.9 2165.0 1348.9 2166.0 1356.1 2167.0 1352.4 2168.0 1355.5 2169.0 1359.7 2170.0 1356.1 2171.0 1361.1 2172.0 1351.5" stroke="#ED7D31"/>
<path d="M515.0 93.0L515.1 92.1 515.1 91.2 515.1 90.3 515.2 89.4 515.2 88.5 515.3 87.6 515.4 86.8 515.5 86.0 515.7 85.1 515.9 84.3 516.2 83.5 516.5 82.7 517.0 82.0 517.5 81.3 518.1 80.6 518.8 79.8 519.6 79.1 520.4 78.5 521.2 78.2 522.0 78.0 522.8 78.2 523.6 78.7 524.5 79.4 525.4 80.3 526.4 81.2 527.3 82.1 528.1 83.0 528.9 83.6 529.5 84.0 530.0 84.0 530.3 83.6 530.5 83.0 530.6 82.2 530.6 81.2 530.6 80.1 530.5 79.0 530.5 77.9 530.5 77.0 530.5 76.1 530.5 75.1 530.4 74.1 530.3 73.1 530.3 72.1 530.4 71.3 530.6 70.6 531.0 70.0 531.6 69.6 532.4 69.4 533.4 69.3 534.4 69.3 535.6 69.3 536.7 69.5 537.9 69.6 539.0 69.8 540.0 70.0 540.9 70.2 541.8 70.5 542.7 70.8 543.6 71.2 544.5 71.6 545.3 72.0 546.2 72.4 547.1 72.7 548.0 73.0 548.9 73.2 549.8 73.4 550.7 73.6 551.6 73.8 552.5 74.0 553.4 74.1 554.3 74.3 555.1 74.4 556.0 74.5 557.0 74.6 557.9 74.6 558.8 74.6 559.8 74.6 560.7 74.6 561.6 74.4 562.5 75.5 563.4 75.6 564.2 76.0 565.1 76.8 565.9 76.7 566.8 76.4 567.6 76.8 568.5 77.4 569.4 80.6 569.9 77.6 570.5 79.2 571.1 80.2 571.7 81.6 572.2 82.9 572.8 80.6 573.4 80.4 574.0 84.2 574.7 87.2 575.3 87.3 575.9 87.1 576.5 86.8 577.1 89.0 577.8 88.7 578.4 92.0 579.0 89.0 579.6 92.2 580.3 92.5 580.9 95.1 581.5 95.1 582.1 102.6 582.7 100.5 583.3 101.5 583.9 91.5 584.4 97.5 585.0 97.4 585.5 101.9 586.1 93.7 586.6 105.5 587.2 106.0 587.7 99.2 588.3 101.1 588.8 102.5 589.4 106.0 589.9 108.8 590.5 114.1 591.0 107.7 591.6 111.6 592.1 110.5 592.7 116.4 593.2 114.0 593.8 116.8 594.4 109.7 594.9 113.4 595.5 112.1 596.1 120.3 596.6 118.4 597.2 116.0 597.8 116.4 598.5 120.1 599.1 117.1 599.8 117.2 600.4 122.4 601.1 129.5 601.7 121.6 602.4 121.3 603.0 120.1 603.7 120.3 604.4 127.0 605.0 128.7 605.7 126.8 606.4 128.5 607.0 128.5 607.7 129.3 608.4 124.7 609.0 128.8 609.7 131.4 610.3 129.3 611.0 131.0 611.7 130.6 612.4 132.9 613.1 137.4 613.8 134.1 614.5 135.6 615.2 139.4 615.9 139.6 616.6 143.7 617.3 132.3 618.0 142.4 618.7 138.9 619.4 141.6 620.1 144.6 620.8 146.1 621.5 146.7 622.2 144.6 622.9 149.9 623.6 144.6 624.3 145.8 625.0 149.5 625.7 145.9 626.4 155.3 627.1 152.4 627.8 156.8 628.5 150.5 629.2 150.1 629.9 152.6 630.5 155.2 631.2 151.7 631.9 155.5 632.6 155.0 633.3 160.9 634.0 154.4 634.7 160.6 635.3 155.9 636.0 155.6 636.7 157.2 637.4 156.4 638.1 161.4 638.7 165.0 639.4 162.9 640.1 165.1 640.8 169.1 641.4 165.5 642.1 166.0 642.8 165.2 643.5 161.7 644.1 170.0 644.8 162.7 645.5 171.2 646.2 169.8 646.8 174.2 647.5 171.1 648.2 169.4 648.8 174.0 649.5 171.8 650.2 173.7 650.8 175.2 651.5 175.4 652.2 175.9 652.8 174.6 653.5 177.4 654.1 172.0 654.8 179.1 655.5 176.5 656.1 184.6 656.8 185.9 657.4 176.3 658.1 183.8 658.8 183.7 659.4 181.5 660.1 187.3 660.7 184.9 661.4 181.4 662.0 187.0 662.7 188.1 663.3 189.7 664.0 186.2 664.6 192.9 665.3 194.0 665.9 188.8 666.6 191.1 667.2 193.7 667.9 192.9 668.5 201.0 669.2 196.9 669.8 193.8 670.5 195.2 671.1 198.3 671.8 206.6 672.4 199.5 673.0 201.2 673.7 203.2 674.3 202.2 675.0 210.4 675.6 202.2 676.2 207.0 676.9 205.9 677.5 208.2 678.2 203.2 678.8 213.4 679.4 208.1 680.1 209.4 680.7 207.1 681.3 208.5 682.0 213.4 682.6 215.5 683.2 215.6 683.9 217.8 684.5 217.0 685.1 215.6 685.7 218.9 686.4 218.9 687.0 217.5 687.6 220.9 688.2 223.5 688.9 220.9 689.5 219.8 690.1 224.0 690.7 228.5 691.4 222.6 692.0 223.7 692.6 224.4 693.2 229.5 693.9 220.5 694.5 228.3 695.1 231.7 695.7 226.1 696.3 234.3 696.9 232.0 697.6 229.3 698.2 232.5 698.8 227.7 699.4 231.6 700.0 240.1 700.6 232.1 701.2 241.7 701.9 236.3 702.5 240.5 703.1 238.3 703.7 231.8 704.3 237.9 704.9 241.1 705.5 237.6 706.1 237.8 706.7 244.1 707.3 241.6 707.9 239.0 708.5 243.1 709.1 248.8 709.7 245.3 710.4 250.6 711.0 253.3 711.6 249.3 712.2 246.4 712.8 246.7 713.4 251.5 714.0 255.2 714.6 254.1 715.2 255.8 715.8 253.4 716.3 256.6 716.9 254.9 717.5 256.2 718.1 253.9 718.7 253.8 719.3 258.1 719.9 256.9 720.5 258.1 721.1 264.2 721.7 262.5 722.3 272.9 722.9 267.4 723.5 263.2 724.1 268.5 724.6 268.0 725.2 265.4 725.8 272.0 726.4 266.8 727.0 260.3 727.6 273.4 728.2 269.7 728.7 277.2 729.3 271.2 729.9 270.3 730.5 279.8 731.1 272.3 731.7 277.2 732.2 282.0 732.8 278.5 733.4 278.7 734.0 280.1 734.6 283.2 735.1 278.8 735.7 284.1 736.3 284.8 736.9 291.3 737.4 283.5 738.0 282.5 738.6 288.6 739.2 285.8 739.7 288.8 740.3 289.1 740.9 293.2 741.5 288.2 742.0 290.8 742.6 283.8 743.2 289.9 743.7 298.5 744.3 292.2 744.9 293.0 745.5 292.1 746.0 298.7 746.6 298.2 747.2 294.7 747.7 301.5 748.3 301.0 748.8 303.4 749.4 299.7 750.0 308.2 750.5 304.7 751.1 303.9 751.7 303.4 752.2 305.1 752.8 309.5 753.3 306.7 753.9 311.8 754.5 311.0 755.0 314.3 755.6 313.4 756.1 311.5 756.7 306.4 757.3 314.3 757.8 316.7 758.4 315.5 758.9 317.6 759.5 315.1 760.0 316.2 760.6 315.3 761.1 323.5 761.7 320.4 762.2 319.2 762.8 317.3 763.4 321.9 763.9 327.9 764.5 325.6 765.0 322.6 765.6 330.3 766.1 331.2 766.6 330.6 767.2 330.8 767.7 332.8 768.3 331.7 768.8 333.2 769.4 329.1 769.9 337.2 770.5 334.0 771.0 340.6 771.6 328.4 772.1 338.0 772.6 339.7 773.2 336.3 773.7 339.7 774.3 341.5 774.8 341.8 775.4 339.1 775.9 341.2 776.4 345.7 777.0 347.4 777.5 344.5 778.0 345.2 778.6 346.5 779.1 350.0 779.7 344.1 780.2 344.1 780.7 349.6 781.3 346.5 781.8 349.0 782.3 352.0 782.9 354.1 783.4 350.0 783.9 356.8 784.5 349.4 785.0 357.7 785.5 351.7 786.1 353.5 786.6 360.5 787.1 358.0 787.6 357.6 788.2 359.6 788.7 363.3 789.2 362.5 789.8 363.4 790.3 367.8 790.8 362.9 791.3 364.6 791.9 365.3 792.4 371.5 792.9 371.8 793.4 373.6 794.0 370.2 794.5 370.7 795.0 374.8 795.5 371.6 796.1 376.4 796.6 376.9 797.1 373.2 797.6 376.0 798.1 376.7 798.7 383.5 799.2 387.1 799.7 379.4 800.2 380.6 800.7 374.1 801.3 382.9 801.8 383.1 802.3 380.5 802.8 387.3 803.3 380.7 803.8 385.8 804.4 387.8 804.9 384.2 805.4 391.8 805.9 393.3 806.4 386.4 806.9 387.1 807.4 394.4 807.9 393.3 808.5 390.3 809.0 394.1 809.5 395.6 810.0 396.3 810.5 400.3 811.0 399.7 811.5 405.0 812.0 404.6 812.5 403.3 813.0 405.4 813.6 407.1 814.1 405.9 814.6 400.6 815.1 408.1 815.6 406.5 816.1 412.3 816.6 408.3 817.1 410.5 817.6 410.8 818.1 416.0 818.6 412.0 819.1 411.4 819.6 414.1 820.1 412.6 820.6 415.4 821.1 415.7 821.6 417.5 822.1 423.6 822.6 417.0 823.1 419.3 823.6 419.4 824.1 423.1 824.6 418.0 825.1 420.5 825.6 423.4 826.1 426.2 826.6 425.1 827.1 424.5 827.6 424.2 828.1 429.5 828.6 433.4 829.1 430.7 829.6 431.1 830.1 432.8 830.6 429.2 831.1 432.1 831.6 433.1 832.1 435.8 832.6 435.6 833.1 432.7 833.5 441.0 834.0 443.7 834.5 438.3 835.0 441.3 835.5 441.8 836.0 444.3 836.5 437.9 837.0 448.7 837.5 442.9 838.0 449.3 838.4 446.4 838.9 445.8 839.4 447.5 839.9 451.7 840.4 446.9 840.9 449.3 841.4 449.9 841.9 446.8 842.3 457.3 842.8 455.9 843.3 454.8 843.8 459.5 844.3 453.6 844.8 457.3 845.3 463.9 845.7 462.4 846.2 453.0 846.7 450.4 847.2 458.6 847.7 466.2 848.2 462.2 848.6 463.9 849.1 467.4 849.6 463.5 850.1 467.9 850.6 470.6 851.0 470.4 851.5 471.1 852.0 468.8 852.5 473.2 853.0 471.1 853.4 477.5 853.9 482.4 854.4 472.7 854.9 469.0 855.3 475.5 855.8 478.9 856.3 482.0 856.8 483.0 857.3 477.9 857.7 478.7 858.2 486.2 858.7 479.5 859.2 487.4 859.6 484.1 860.1 488.1 860.6 488.8 861.1 489.9 861.5 490.9 862.0 486.0 862.5 491.0 862.9 491.0 863.4 492.8 863.9 496.7 864.4 492.8 864.8 492.2 865.3 493.1 865.8 495.3 866.2 499.6 866.7 495.4 867.2 502.6 867.7 500.8 868.1 500.0 868.6 497.3 869.1 503.3 869.5 505.6 870.0 498.6 870.5 509.0 870.9 511.3 871.4 508.0 871.9 509.4 872.3 516.4 872.8 513.5 873.3 507.6 873.7 511.3 874.2 511.7 874.7 512.6 875.1 506.4 875.6 517.3 876.1 513.8 876.5 517.2 877.0 517.1 877.5 521.2 877.9 518.4 878.4 517.7 878.8 522.8 879.3 526.5 879.8 521.9 880.2 528.2 880.7 525.5 881.2 523.9 881.6 531.3 882.1 524.7 882.5 531.5 883.0 527.5 883.5 531.5 883.9 527.0 884.4 529.1 884.8 536.1 885.3 534.2 885.8 534.6 886.2 534.0 886.7 537.7 887.1 532.7 887.6 534.5 888.1 538.4 888.5 537.2 889.0 538.5 889.4 541.4 889.9 542.1 890.3 542.7 890.8 549.6 891.3 548.4 891.7 550.0 892.2 546.9 892.6 546.3 893.1 544.1 893.5 548.6 894.0 543.9 894.4 549.6 894.9 554.8 895.4 558.4 895.8 557.2 896.3 552.3 896.7 557.5 897.2 554.3 897.6 560.4 898.1 558.3 898.5 562.3 899.0 568.6 899.4 564.3 899.9 569.7 900.3 563.7 900.8 562.9 901.3 569.2 901.7 571.3 902.2 564.9 902.6 567.8 903.1 563.9 903.5 568.7 904.0 573.1 904.4 570.9 904.9 570.2 905.3 568.5 905.8 575.0 906.2 577.3 906.7 577.6 907.1 577.4 907.6 573.4 908.0 584.0 908.5 579.1 908.9 579.7 909.4 583.4 909.8 575.0 910.3 582.6 910.7 583.3 911.1 585.8 911.6 589.8 912.0 587.9 912.5 581.5 912.9 587.1 913.4 589.8 913.8 590.5 914.3 586.8 914.7 586.5 915.2 594.5 915.6 594.7 916.1 594.5 916.5 589.9 917.0 602.0 917.4 587.9 917.8 597.0 918.3 605.7 918.7 599.4 919.2 601.6 919.6 597.9 920.1 607.0 920.5 599.4 921.0 605.2 921.4 605.7 921.9 602.9 922.3 610.0 922.7 603.5 923.2 606.7 923.6 609.7 924.1 609.4 924.5 613.1 925.0 615.5 925.4 612.5 925.9 612.6 926.3 613.6 926.7 615.0 927.2 619.6 927.6 617.2 928.1 620.1 928.5 619.4 929.0 617.9 929.4 624.3 929.9 619.1 930.3 623.3 930.7 629.0 931.2 621.6 931.6 625.8 932.1 621.9 932.5 626.2 933.0 623.9 933.4 628.5 933.8 628.8 934.3 631.8 934.7 637.4 935.2 634.1 935.6 636.2 936.1 634.9 936.5 635.1 937.0 634.2 937.4 632.0 937.8 638.8 938.3 644.7 938.7 641.9 939.2 639.6 939.6 647.5 940.1 641.7 940.5 642.0 941.0 641.0 941.4 642.7 941.8 645.9 942.3 654.0 942.7 647.9 943.2 646.1 943.6 648.4 944.1 650.5 944.5 646.6 945.0 653.4 945.4 656.1 945.9 655.8 946.3 657.6 946.8 652.5 947.2 652.1 947.6 662.5 948.1 662.8 948.5 655.3 949.0 661.7 949.4 662.1 949.9 664.6 950.3 664.4 950.8 663.1 951.2 666.2 951.7 667.0 952.1 667.2 952.6 662.3 953.0 659.6 953.5 667.5 953.9 665.7 954.4 672.6 954.8 675.0 955.3 674.5 955.7 673.3 956.2 675.6 956.6 680.0 957.1 674.9 957.5 681.0 958.0 681.3 958.4 680.7 958.9 685.4 959.3 679.4 959.8 685.6 960.2 680.5 960.7 681.9 961.1 681.9 961.6 687.6 962.0 684.0 962.5 688.1 962.9 685.2 963.4 693.1 963.9 696.5 964.3 692.2 964.8 697.6 965.2 695.1 965.7 701.1 966.1 695.4 966.6 690.9 967.1 701.6 967.5 697.3 968.0 695.3 968.4 697.4 968.9 695.2 969.3 700.7 969.8 698.7 970.3 707.8 970.7 706.1 971.2 699.5 971.6 700.9 972.1 704.8 972.6 701.3 973.0 708.0 973.5 709.1 973.9 707.7 974.4 709.3 974.9 713.5 975.3 717.3 975.8 718.5 976.3 714.7 976.7 718.2 977.2 714.0 977.7 718.5 978.1 715.0 978.6 721.3 979.1 715.9 979.5 717.7 980.0 721.6 980.5 724.3 980.9 718.8 981.4 722.5 981.9 725.6 982.3 726.8 982.8 724.2 983.3 728.1 983.7 727.8 984.2 734.0 984.7 732.2 985.2 727.1 985.6 725.1 986.1 733.4 986.6 737.7 987.1 735.4 987.5 738.5 988.0 735.0 988.5 733.1 989.0 740.7 989.4 739.5 989.9 742.2 990.4 736.5 990.9 742.4 991.4 740.7 991.8 746.1 992.3 742.6 992.8 743.4 993.3 744.3 993.8 751.1 994.2 748.0 994.7 746.4 995.2 746.4 995.7 747.2 996.2 756.1 996.7 746.5 997.1 750.4 997.6 756.0 998.1 758.6 998.6 755.3 999.1 759.1 999.6 759.9 1000.1 761.5 1000.6 759.3 1001.1 765.4 1001.5 761.6 1002.0 766.7 1002.5 759.2 1003.0 766.6 1003.5 760.4 1004.0 760.5 1004.5 767.8 1005.0 764.4 1005.5 769.4 1006.0 765.4 1006.5 774.8 1007.0 770.6 1007.5 767.8 1008.0 772.8 1008.5 775.9 1009.0 771.5 1009.5 776.5 1010.0 782.3 1010.5 779.3 1011.0 777.4 1011.5 776.5 1012.0 781.0 1012.5 775.1 1013.0 771.1 1013.5 779.6 1014.0 779.1 1014.5 789.0 1015.1 784.7 1015.6 782.0 1016.1 782.3 1016.6 788.4 1017.1 785.0 1017.6 786.7 1018.1 789.1 1018.6 790.5 1019.2 791.4 1019.7 792.3 1020.2 797.0 1020.7 799.1 1021.2 789.2 1021.7 803.6 1022.3 796.6 1022.8 801.0 1023.3 795.5 1023.8 799.8 1024.3 800.3 1024.9 800.8 1025.4 804.0 1025.9 804.1 1026.4 799.7 1027.0 803.4 1027.5 806.9 1028.0 807.7 1028.6 805.2 1029.1 806.2 1029.6 807.5 1030.2 805.3 1030.7 805.5 1031.2 815.5 1031.8 810.0 1032.3 812.4 1032.8 810.6 1033.4 818.0 1033.9 820.2 1034.4 814.8 1035.0 817.9 1035.5 814.7 1036.1 823.6 1036.6 821.7 1037.1 816.9 1037.7 824.4 1038.2 822.4 1038.8 823.4 1039.3 824.1 1039.9 821.6 1040.4 822.8 1041.0 827.4 1041.5 826.0 1042.1 824.0 1042.6 834.3 1043.2 828.0 1043.7 827.7 1044.3 828.1 1044.8 833.3 1045.4 835.0 1046.0 833.5 1046.5 836.3 1047.1 829.6 1047.6 834.0 1048.2 834.5 1048.8 836.8 1049.3 839.2 1049.9 831.9 1050.5 849.2 1051.0 837.3 1051.6 842.0 1052.2 844.3 1052.7 845.2 1053.3 844.0 1053.9 834.8 1054.5 841.4 1055.0 848.1 1055.6 843.5 1056.2 843.9 1056.8 840.5 1057.3 852.8 1057.9 851.3 1058.5 847.6 1059.1 850.8 1059.6 851.7 1060.2 849.3 1060.8 852.8 1061.4 855.3 1062.0 857.0 1062.6 860.1 1063.2 856.9 1063.7 856.1 1064.3 859.7 1064.9 857.2 1065.5 856.0 1066.1 864.4 1066.7 860.4 1067.3 862.8 1067.9 865.2 1068.5 860.4 1069.1 866.8 1069.6 867.0 1070.2 866.0 1070.8 868.4 1071.4 865.5 1072.0 861.6 1072.6 868.6 1073.2 867.4 1073.8 873.9 1074.4 872.7 1075.0 871.0 1075.6 873.6 1076.2 878.6 1076.8 878.6 1077.4 877.0 1078.0 878.0 1078.6 876.5 1079.3 877.7 1079.9 880.8 1080.5 879.4 1081.1 881.5 1081.7 877.7 1082.3 876.7 1082.9 877.4 1083.5 882.3 1084.1 888.7 1084.7 889.0 1085.3 882.8 1085.9 881.8 1086.6 890.1 1087.2 889.8 1087.8 884.8 1088.4 893.3 1089.0 891.3 1089.6 895.7 1090.2 893.4 1090.8 895.9 1091.5 894.9 1092.1 891.6 1092.7 894.7 1093.3 894.0 1093.9 899.6 1094.5 894.5 1095.2 893.6 1095.8 901.5 1096.4 903.7 1097.0 905.5 1097.6 905.1 1098.3 897.6 1098.9 901.0 1099.5 902.2 1100.1 904.7 1100.7 898.6 1101.4 906.3 1102.0 908.0 1102.6 904.8 1103.2 909.0 1103.8 913.2 1104.5 910.4 1105.1 914.4 1105.7 915.0 1106.3 913.9 1107.0 914.6 1107.6 912.9 1108.2 918.9 1108.8 914.2 1109.4 914.2 1110.1 919.5 1110.7 915.7 1111.3 920.2 1111.9 923.0 1112.6 920.6 1113.2 921.5 1113.8 924.9 1114.4 925.1 1115.1 918.6 1115.7 920.1 1116.3 929.3 1116.9 927.1 1117.6 920.0 1118.2 923.1 1118.8 928.3 1119.4 925.8 1120.1 931.3 1120.7 930.8 1121.3 932.9 1122.0 928.4 1122.6 934.9 1123.2 939.9 1123.8 931.9 1124.5 939.5 1125.1 939.2 1125.7 938.9 1126.3 937.4 1127.0 934.7 1127.6 936.4 1128.2 942.4 1128.8 943.9 1129.5 945.5 1130.1 945.4 1130.7 946.0 1131.3 942.5 1132.0 940.8 1132.6 946.1 1133.2 947.9 1133.8 947.3 1134.5 943.0 1135.1 947.0 1135.7 944.7 1136.3 950.7 1137.0 947.6 1137.6 951.3 1138.2 953.6 1138.8 953.8 1139.4 958.6 1140.1 951.4 1140.7 948.8 1141.3 959.6 1141.9 961.8 1142.6 962.7 1143.2 959.9 1143.8 961.5 1144.4 960.9 1145.0 957.2 1145.7 960.3 1146.3 964.5 1146.9 961.9 1147.5 970.6 1148.1 960.4 1148.8 964.7 1149.4 970.5 1150.0 965.8 1150.6 964.9 1151.2 965.0 1151.8 967.8 1152.5 975.8 1153.1 973.1 1153.7 974.2 1154.3 971.7 1154.9 976.9 1155.5 975.3 1156.1 972.8 1156.8 975.1 1157.4 978.0 1158.0 982.0 1158.6 978.8 1159.2 981.4 1159.8 987.1 1160.4 978.9 1161.0 978.3 1161.7 986.2 1162.3 985.3 1162.9 984.4 1163.5 986.4 1164.1 985.3 1164.7 988.8 1165.3 986.9 1165.9 991.4 1166.5 985.9 1167.1 987.8 1167.7 991.6 1168.3 990.6 1168.9 995.1 1169.5 993.6 1170.1 992.8 1170.7 996.0 1171.3 994.5 1171.9 992.0 1172.5 994.2 1173.1 996.1 1173.7 998.0 1174.3 1000.6 1174.9 1004.0 1175.5 1003.7 1176.1 1008.5 1176.7 1007.7 1177.3 1003.8 1177.9 1010.6 1178.5 1009.9 1179.1 1005.5 1179.7 1008.8 1180.3 1012.1 1180.9 1010.2 1181.5 1013.5 1182.1 1012.3 1182.7 1014.2 1183.3 1011.7 1183.9 1014.8 1184.5 1013.2 1185.1 1017.4 1185.7 1010.6 1186.3 1018.0 1186.9 1021.7 1187.5 1020.4 1188.1 1019.3 1188.7 1021.9 1189.3 1018.3 1189.9 1019.2 1190.5 1021.5 1191.1 1023.0 1191.7 1027.4 1192.3 1022.3 1192.9 1029.2 1193.5 1021.8 1194.1 1025.1 1194.7 1028.4 1195.3 1033.0 1195.9 1028.2 1196.5 1024.1 1197.1 1033.1 1197.7 1032.5 1198.3 1030.0 1198.9 1030.9 1199.5 1032.9 1200.1 1036.3 1200.7 1038.9 1201.3 1032.9 1201.9 1045.7 1202.5 1039.1 1203.1 1038.9 1203.7 1043.0 1204.3 1042.1 1204.9 1050.0 1205.5 1046.9 1206.1 1043.0 1206.7 1043.8 1207.3 1044.2 1207.9 1045.6 1208.5 1049.6 1209.1 1046.2 1209.7 1054.3 1210.3 1049.7 1210.9 1050.3 1211.5 1054.6 1212.1 1046.0 1212.7 1050.2 1213.3 1055.9 1213.9 1054.9 1214.6 1055.6 1215.2 1057.7 1215.8 1055.4 1216.4 1057.5 1217.0 1054.5 1217.6 1053.7 1218.2 1064.6 1218.8 1058.3 1219.4 1059.9 1220.0 1067.4 1220.7 1067.1 1221.3 1062.9 1221.9 1063.7 1222.5 1065.9 1223.1 1063.9 1223.7 1069.5 1224.3 1069.1 1225.0 1069.8 1225.6 1072.6 1226.2 1073.3 1226.8 1077.7 1227.4 1077.4 1228.1 1067.9 1228.7 1077.1 1229.3 1071.4 1229.9 1071.2 1230.6 1078.8 1231.2 1075.1 1231.8 1077.1 1232.4 1082.4 1233.1 1077.6 1233.7 1077.6 1234.3 1082.3 1234.9 1086.0 1235.6 1084.6 1236.2 1078.7 1236.8 1082.4 1237.5 1084.7 1238.1 1092.2 1238.7 1089.6 1239.4 1090.3 1240.0 1092.2 1240.6 1088.1 1241.3 1091.4 1241.9 1092.2 1242.6 1088.3 1243.2 1092.1 1243.8 1094.8 1244.5 1090.3 1245.1 1097.1 1245.8 1097.7 1246.4 1099.3 1247.1 1094.3 1247.7 1097.9 1248.4 1102.9 1249.0 1101.6 1249.7 1097.3 1250.3 1101.3 1251.0 1105.9 1251.6 1101.8 1252.3 1104.0 1252.9 1111.8 1253.6 1104.2 1254.3 1104.7 1254.9 1102.6 1255.6 1104.4 1256.2 1112.0 1256.9 1107.5 1257.6 1104.9 1258.2 1106.5 1258.9 1110.2 1259.6 1113.4 1260.2 1109.3 1260.9 1114.7 1261.6 1111.5 1262.3 1115.0 1262.9 1116.2 1263.6 1117.2 1264.3 1114.6 1265.0 1116.1 1265.7 1119.0 1266.3 1113.9 1267.0 1119.3 1267.7 1121.1 1268.4 1123.5 1269.1 1120.8 1269.8 1121.0 1270.5 1122.7 1271.2 1120.6 1271.9 1123.0 1272.5 1125.7 1273.2 1126.0 1273.9 1122.4 1274.6 1125.4 1275.3 1120.3 1276.0 1130.4 1276.8 1126.8 1277.5 1129.9 1278.2 1126.3 1278.9 1130.2 1279.6 1132.6 1280.3 1135.0 1281.0 1128.1 1281.7 1135.8 1282.4 1133.3 1283.2 1132.0 1283.9 1136.7 1284.6 1134.8 1285.3 1135.5 1286.1 1134.8 1286.8 1138.4 1287.5 1138.5 1288.2 1138.5 1289.0 1136.6 1289.7 1138.7 1290.4 1142.2 1291.2 1145.7 1291.9 1142.1 1292.7 1147.4 1293.4 1143.4 1294.2 1140.6 1294.9 1146.7 1295.6 1142.3 1296.4 1147.2 1297.2 1150.0 1297.9 1146.2 1298.7 1147.5 1299.4 1156.3 1300.2 1149.8 1300.9 1150.5 1301.7 1152.7 1302.5 1150.5 1303.2 1151.1 1304.0 1153.2 1304.8 1145.0 1305.6 1157.7 1306.3 1150.4 1307.1 1150.9 1307.9 1156.7 1308.7 1155.6 1309.4 1152.1 1310.2 1157.3 1311.0 1153.6 1311.8 1155.6 1312.6 1153.6 1313.4 1156.3 1314.2 1160.7 1315.0 1160.4 1315.8 1161.6 1316.6 1164.1 1317.4 1161.6 1318.2 1160.1 1319.0 1161.9 1319.8 1168.6 1320.6 1164.0 1321.4 1165.4 1322.2 1164.6 1323.0 1166.2 1323.8 1167.4 1324.7 1166.5 1325.5 1166.5 1326.3 1165.1 1327.1 1165.4 1327.9 1169.9 1328.8 1171.5 1329.6 1172.6 1330.4 1170.3 1331.3 1168.0 1332.1 1173.2 1332.9 1173.6 1333.8 1167.3 1334.6 1175.2 1335.4 1175.0 1336.3 1178.9 1337.1 1170.5 1338.0 1170.5 1338.8 1177.6 1339.6 1169.8 1340.5 1173.7 1341.3 1173.1 1342.2 1173.8 1343.0 1171.4 1343.9 1177.2 1344.8 1181.6 1345.6 1180.3 1346.5 1180.8 1347.3 1178.7 1348.2 1184.9 1349.1 1182.4 1349.9 1184.6 1350.8 1176.7 1351.6 1183.2 1352.5 1178.9 1353.4 1184.1 1354.3 1184.1 1355.1 1180.3 1356.0 1184.9 1356.9 1188.5 1357.8 1186.8 1358.6 1187.6 1359.5 1183.4 1360.4 1184.4 1361.3 1183.4 1362.2 1187.8 1363.0 1191.6 1363.9 1189.6 1364.8 1188.7 1365.7 1185.5 1366.6 1190.9 1367.5 1189.2 1368.4 1184.3 1369.3 1185.2 1370.2 1190.1 1371.1 1188.7 1372.0 1197.2 1372.9 1192.5 1373.8 1189.5 1374.7 1191.6 1375.6 1198.6 1376.5 1190.9 1377.4 1196.8 1378.3 1196.1 1379.2 1199.8 1380.1 1197.2 1381.0 1194.6 1381.9 1198.0 1382.9 1196.9 1383.8 1200.2 1384.7 1197.2 1385.6 1204.1 1386.5 1197.9 1387.4 1200.0 1388.4 1196.8 1389.3 1199.7 1390.2 1199.7 1391.1 1200.6 1392.0 1203.3 1393.0 1199.0 1393.9 1198.4 1394.8 1205.0 1395.7 1200.9 1396.7 1200.0 1397.6 1206.2 1398.5 1205.4 1399.5 1194.8 1400.4 1202.4 1401.3 1206.4 1402.3 1206.9 1403.2 1203.0 1404.2 1209.9 1405.1 1202.8 1406.0 1204.9 1407.0 1206.4 1407.9 1206.3 1408.9 1209.2 1409.8 1210.2 1410.7 1207.1 1411.7 1212.0 1412.6 1205.7 1413.6 1207.6 1414.5 1214.0 1415.5 1209.2 1416.4 1212.6 1417.4 1208.1 1418.3 1209.0 1419.3 1209.8 1420.2 1211.0 1421.2 1209.7 1422.1 1211.1 1423.1 1213.5 1424.0 1215.5 1425.0 1212.3 1426.0 1214.4 1426.9 1215.5 1427.9 1209.5 1428.8 1208.2 1429.8 1218.6 1430.8 1218.0 1431.7 1214.2 1432.7 1215.5 1433.7 1211.6 1434.6 1210.5 1435.6 1216.2 1436.6 1210.8 1437.5 1218.7 1438.5 1213.9 1439.5 1217.3 1440.4 1222.8 1441.4 1222.9 1442.4 1216.3 1443.3 1220.8 1444.3 1214.4 1445.3 1216.1 1446.2 1219.4 1447.2 1222.9 1448.2 1216.9 1449.2 1220.8 1450.1 1219.6 1451.1 1215.5 1452.1 1219.4 1453.1 1224.9 1454.0 1220.0 1455.0 1222.2 1456.0 1223.5 1457.0 1218.7 1458.0 1225.3 1458.9 1226.4 1459.9 1226.9 1460.9 1226.3 1461.9 1220.9 1462.9 1220.7 1463.9 1220.3 1464.8 1220.2 1465.8 1220.8 1466.8 1226.7 1467.8 1228.5 1468.8 1222.0 1469.8 1226.8 1470.7 1220.5 1471.7 1223.7 1472.7 1221.8 1473.7 1220.0 1474.7 1225.6 1475.7 1225.9 1476.7 1224.6 1477.7 1224.4 1478.6 1223.2 1479.6 1226.1 1480.6 1224.9 1481.6 1227.8 1482.6 1223.4 1483.6 1228.2 1484.6 1229.3 1485.6 1231.8 1486.6 1231.4 1487.6 1228.9 1488.5 1226.3 1489.5 1222.9 1490.5 1228.9 1491.5 1233.7 1492.5 1234.7 1493.5 1221.5 1494.5 1227.4 1495.5 1228.9 1496.5 1226.9 1497.5 1231.0 1498.5 1230.7 1499.5 1229.2 1500.5 1230.9 1501.5 1226.1 1502.5 1228.3 1503.4 1228.8 1504.4 1234.7 1505.4 1226.8 1506.4 1231.5 1507.4 1234.9 1508.4 1232.4 1509.4 1235.4 1510.4 1230.9 1511.4 1234.6 1512.4 1236.3 1513.4 1240.7 1514.4 1236.1 1515.4 1238.5 1516.4 1234.2 1517.4 1234.7 1518.4 1239.6 1519.4 1236.6 1520.4 1239.4 1521.4 1237.4 1522.4 1242.1 1523.4 1243.1 1524.4 1233.0 1525.4 1241.8 1526.4 1237.4 1527.3 1237.7 1528.3 1236.0 1529.3 1238.9 1530.3 1233.2 1531.3 1234.6 1532.3 1234.7 1533.3 1238.2 1534.3 1240.4 1535.3 1240.0 1536.3 1239.0 1537.3 1236.1 1538.3 1232.5 1539.3 1239.6 1540.3 1239.0 1541.3 1239.8 1542.3 1243.4 1543.3 1238.4 1544.3 1238.6 1545.3 1232.0 1546.3 1241.3 1547.3 1239.5 1548.3 1237.5 1549.3 1241.3 1550.3 1236.9 1551.2 1238.6 1552.2 1246.8 1553.2 1243.1 1554.2 1243.8 1555.2 1243.4 1556.2 1243.2 1557.2 1241.9 1558.2 1248.8 1559.2 1241.4 1560.2 1244.1 1561.2 1241.2 1562.2 1241.0 1563.2 1234.4 1564.2 1236.2 1565.2 1247.5 1566.2 1247.5 1567.2 1241.5 1568.2 1242.9 1569.2 1245.1 1570.2 1240.1 1571.2 1249.1 1572.2 1240.3 1573.1 1241.4 1574.1 1235.0 1575.1 1248.9 1576.1 1244.4 1577.1 1249.5 1578.1 1241.3 1579.1 1245.7 1580.1 1245.0 1581.1 1245.5 1582.1 1251.7 1583.1 1252.4 1584.1 1249.7 1585.1 1244.2 1586.1 1248.5 1587.1 1250.0 1588.1 1247.7 1589.1 1247.8 1590.1 1247.7 1591.1 1243.4 1592.1 1247.2 1593.0 1251.7 1594.0 1243.5 1595.0 1247.1 1596.0 1249.6 1597.0 1242.7 1598.0 1246.8 1599.0 1241.9 1600.0 1245.6 1601.0 1243.1 1602.0 1244.9 1603.0 1246.3 1604.0 1247.1 1605.0 1247.5 1606.0 1240.6 1607.0 1253.5 1608.0 1247.6 1609.0 1245.1 1610.0 1246.8 1611.0 1249.9 1611.9 1245.8 1612.9 1247.8 1613.9 1247.8 1614.9 1251.1 1615.9 1247.1 1616.9 1251.1 1617.9 1250.9 1618.9 1249.4 1619.9 1254.0 1620.9 1250.2 1621.9 1246.5 1622.9 1251.3 1623.9 1250.9 1624.9 1250.5 1625.9 1251.5 1626.9 1258.4 1627.9 1251.7 1628.9 1252.6 1629.9 1250.4 1630.8 1255.5 1631.8 1251.3 1632.8 1249.0 1633.8 1247.8 1634.8 1253.5 1635.8 1254.3 1636.8 1246.9 1637.8 1249.8 1638.8 1254.3 1639.8 1255.7 1640.8 1248.3 1641.8 1251.3 1642.8 1255.4 1643.8 1251.1 1644.8 1251.5 1645.8 1251.3 1646.8 1249.0 1647.7 1253.4 1648.7 1254.4 1649.7 1249.0 1650.7 1253.9 1651.7 1257.3 1652.7 1254.5 1653.7 1257.0 1654.7 1252.3 1655.7 1258.5 1656.7 1251.7 1657.7 1260.4 1658.7 1253.0 1659.7 1252.3 1660.7 1251.8 1661.7 1253.5 1662.7 1253.3 1663.7 1252.8 1664.6 1254.0 1665.6 1257.3 1666.6 1258.1 1667.6 1254.3 1668.6 1259.5 1669.6 1252.4 1670.6 1252.4 1671.6 1252.2 1672.6 1257.9 1673.6 1251.1 1674.6 1251.7 1675.6 1260.3 1676.6 1261.8 1677.6 1260.7 1678.6 1251.8 1679.6 1256.7 1680.5 1259.4 1681.5 1257.1 1682.5 1251.8 1683.5 1255.9 1684.5 1251.7 1685.5 1253.3 1686.5 1264.2 1687.5 1259.6 1688.5 1252.8 1689.5 1252.8 1690.5 1259.2 1691.5 1255.9 1692.5 1259.8 1693.5 1255.9 1694.5 1257.5 1695.5 1259.0 1696.4 1255.0 1697.4 1252.2 1698.4 1254.7 1699.4 1256.3 1700.4 1258.0 1701.4 1258.6 1702.4 1258.6 1703.4 1260.6 1704.4 1256.2 1705.4 1263.6 1706.4 1265.6 1707.4 1260.5 1708.4 1260.0 1709.4 1263.5 1710.4 1261.7 1711.3 1260.3 1712.3 1259.3 1713.3 1257.5 1714.3 1256.2 1715.3 1262.2 1716.3 1264.0 1717.3 1256.9 1718.3 1260.1 1719.3 1261.1 1720.3 1259.2 1721.3 1258.2 1722.3 1259.5 1723.3 1254.5 1724.3 1260.7 1725.3 1260.0 1726.2 1267.9 1727.2 1264.2 1728.2 1260.2 1729.2 1261.3 1730.2 1266.9 1731.2 1266.7 1732.2 1262.2 1733.2 1261.3 1734.2 1257.2 1735.2 1260.8 1736.2 1261.4 1737.2 1259.7 1738.2 1267.7 1739.2 1256.3 1740.2 1261.9 1741.1 1263.7 1742.1 1263.9 1743.1 1268.0 1744.1 1258.2 1745.1 1260.4 1746.1 1263.2 1747.1 1263.4 1748.1 1261.8 1749.1 1260.7 1750.1 1266.7 1751.1 1260.0 1752.1 1261.6 1753.1 1268.1 1754.1 1269.1 1755.1 1266.5 1756.0 1261.0 1757.0 1261.1 1758.0 1261.1 1759.0 1260.4 1760.0 1262.8 1761.0 1268.3 1762.0 1265.0 1763.0 1262.0 1764.0 1262.0 1765.0 1260.8 1766.0 1268.5 1767.0 1258.3 1768.0 1265.7 1769.0 1260.3 1770.0 1261.6 1770.9 1260.3 1771.9 1268.3 1772.9 1265.0 1773.9 1274.1 1774.9 1262.1 1775.9 1262.0 1776.9 1267.5 1777.9 1267.5 1778.9 1264.9 1779.9 1259.4 1780.9 1270.6 1781.9 1267.9 1782.9 1267.4 1783.9 1264.3 1784.8 1268.4 1785.8 1264.6 1786.8 1266.6 1787.8 1266.0 1788.8 1270.7 1789.8 1265.2 1790.8 1265.7 1791.8 1270.4 1792.8 1267.7 1793.8 1267.0 1794.8 1266.4 1795.8 1270.3 1796.8 1265.3 1797.8 1268.9 1798.8 1274.0 1799.7 1268.9 1800.7 1265.2 1801.7 1263.9 1802.7 1268.4 1803.7 1264.0 1804.7 1263.0 1805.7 1265.7 1806.7 1264.7 1807.7 1271.1 1808.7 1263.8 1809.7 1273.6 1810.7 1266.2 1811.7 1269.1 1812.7 1270.9 1813.6 1269.6 1814.6 1271.3 1815.6 1265.9 1816.6 1261.9 1817.6 1268.6 1818.6 1263.9 1819.6 1267.6 1820.6 1272.5 1821.6 1269.0 1822.6 1267.8 1823.6 1266.2 1824.6 1268.9 1825.6 1269.4 1826.6 1265.0 1827.5 1271.1 1828.5 1266.8 1829.5 1271.0 1830.5 1269.0 1831.5 1273.7 1832.5 1273.4 1833.5 1270.8 1834.5 1270.5 1835.5 1272.3 1836.5 1275.5 1837.5 1274.6 1838.5 1271.8 1839.5 1272.4 1840.5 1276.5 1841.5 1266.4 1842.4 1273.4 1843.4 1268.9 1844.4 1276.3 1845.4 1270.4 1846.4 1271.8 1847.4 1268.8 1848.4 1272.4 1849.4 1275.0 1850.4 1277.9 1851.4 1268.6 1852.4 1271.4 1853.4 1285.4 1854.4 1276.0 1855.4 1273.1 1856.3 1274.9 1857.3 1264.8 1858.3 1278.6 1859.3 1274.1 1860.3 1269.1 1861.3 1277.5 1862.3 1271.9 1863.3 1270.7 1864.3 1275.8 1865.3 1275.5 1866.3 1272.9 1867.3 1274.2 1868.3 1270.3 1869.3 1270.0 1870.3 1277.7 1871.2 1279.1 1872.2 1276.4 1873.2 1276.3 1874.2 1274.0 1875.2 1274.9 1876.2 1272.4 1877.2 1281.2 1878.2 1273.9 1879.2 1277.1 1880.2 1275.9 1881.2 1271.5 1882.2 1282.3 1883.2 1275.0 1884.2 1273.9 1885.1 1276.8 1886.1 1273.7 1887.1 1276.8 1888.1 1273.7 1889.1 1278.7 1890.1 1277.2 1891.1 1272.8 1892.1 1280.6 1893.1 1278.0 1894.1 1274.0 1895.1 1278.8 1896.1 1279.1 1897.1 1283.8 1898.1 1275.2 1899.1 1280.8 1900.0 1277.9 1901.0 1280.3 1902.0 1277.6 1903.0 1278.4 1904.0 1280.3 1905.0 1275.0 1906.0 1272.2 1907.0 1279.0 1908.0 1277.8 1909.0 1279.6 1910.0 1281.5 1911.0 1278.9 1912.0 1283.5 1913.0 1279.7 1914.0 1280.3 1914.9 1282.7 1915.9 1282.1 1916.9 1280.0 1917.9 1280.9 1918.9 1278.1 1919.9 1278.7 1920.9 1281.2 1921.9 1283.6 1922.9 1279.7 1923.9 1283.9 1924.9 1287.6 1925.9 1288.4 1926.9 1281.7 1927.9 1285.1 1928.9 1283.8 1929.8 1284.5 1930.8 1284.8 1931.8 1283.9 1932.8 1285.0 1933.8 1283.1 1934.8 1281.8 1935.8 1283.6 1936.8 1284.5 1937.8 1286.9 1938.8 1284.3 1939.8 1285.7 1940.8 1288.0 1941.8 1280.5 1942.8 1282.8 1943.8 1285.5 1944.8 1284.0 1945.7 1280.8 1946.7 1287.3 1947.7 1284.1 1948.7 1281.2 1949.7 1290.6 1950.7 1280.5 1951.7 1284.7 1952.7 1282.7 1953.7 1285.4 1954.7 1287.0 1955.7 1282.7 1956.7 1285.1 1957.7 1285.1 1958.7 1282.4 1959.7 1289.5 1960.7 1286.4 1961.6 1285.1 1962.6 1284.0 1963.6 1285.2 1964.6 1286.8 1965.6 1285.0 1966.6 1290.6 1967.6 1278.6 1968.6 1280.0 1969.6 1286.2 1970.6 1281.2 1971.6 1287.0 1972.6 1285.3 1973.6 1289.4 1974.6 1289.0 1975.6 1292.0 1976.6 1290.8 1977.6 1292.0 1978.5 1289.8 1979.5 1291.7 1980.5 1290.0 1981.5 1286.6 1982.5 1284.6 1983.5 1284.9 1984.5 1290.4 1985.5 1281.4 1986.5 1289.7 1987.5 1286.8 1988.5 1291.7 1989.5 1290.1 1990.5 1287.2 1991.5 1289.8 1992.5 1282.6 1993.5 1290.8 1994.5 1291.6 1995.5 1284.3 1996.4 1293.1 1997.4 1290.1 1998.4 1291.2 1999.4 1286.2 2000.4 1292.8 2001.4 1292.8 2002.4 1291.0 2003.4 1288.1 2004.4 1293.8 2005.4 1295.4 2006.4 1292.9 2007.4 1294.9 2008.4 1289.9 2009.4 1292.4 2010.4 1293.3 2011.4 1292.7 2012.4 1301.4 2013.4 1293.8 2014.4 1290.8 2015.4 1295.4 2016.3 1289.3 2017.3 1294.1 2018.3 1295.5 2019.3 1291.6 2020.3 1292.3 2021.3 1290.4 2022.3 1294.0 2023.3 1291.5 2024.3 1299.4 2025.3 1296.0 2026.3 1293.3 2027.3 1289.6 2028.3 1300.8 2029.3 1298.6 2030.3 1296.0 2031.3 1295.3 2032.3 1295.3 2033.3 1293.4 2034.3 1301.0 2035.3 1295.7 2036.3 1290.6 2037.3 1293.2 2038.2 1287.1 2039.2 1297.6 2040.2 1298.1 2041.2 1301.4 2042.2 1302.6 2043.2 1293.4 2044.2 1297.5 2045.2 1299.3 2046.2 1298.8 2047.2 1294.7 2048.2 1299.0 2049.2 1298.1 2050.2 1301.0 2051.2 1296.7 2052.2 1296.1 2053.2 1295.3 2054.2 1295.8 2055.2 1294.7 2056.2 1296.2 2057.2 1299.0 2058.2 1298.9 2059.2 1301.8 2060.2 1301.1 2061.2 1299.7 2062.2 1294.1 2063.2 1299.7 2064.1 1301.7 2065.1 1293.9 2066.1 1294.6 2067.1 1295.2 2068.1 1295.0 2069.1 1297.5 2070.1 1295.5 2071.1 1299.9 2072.1 1294.8 2073.1 1298.4 2074.1 1297.3 2075.1 1295.9 2076.1 1302.4 2077.1 1299.2 2078.1 1301.0 2079.1 1298.2 2080.1 1301.6 2081.1 1301.4 2082.1 1299.1 2083.1 1294.0 2084.1 1302.4 2085.1 1302.0 2086.1 1300.5 2087.1 1300.8 2088.1 1300.5 2089.1 1300.8 2090.1 1297.0 2091.1 1300.1 2092.1 1301.4 2093.1 1298.5 2094.1 1297.4 2095.1 1306.6 2096.1 1302.6 2097.1 1299.8 2098.1 1299.3 2099.0 1292.5 2100.0 1296.4 2101.0 1300.3 2102.0 1305.3 2103.0 1294.6 2104.0 1299.1 2105.0 1307.5 2106.0 1303.6 2107.0 1302.8 2108.0 1305.4 2109.0 1301.3 2110.0 1301.1 2111.0 1304.1 2112.0 1304.6 2113.0 1298.5 2114.0 1306.9 2115.0 1296.5 2116.0 1299.9 2117.0 1312.0 2118.0 1300.6 2119.0 1304.4 2120.0 1299.1 2121.0 1301.4 2122.0 1300.2 2123.0 1301.2 2124.0 1304.7 2125.0 1308.2 2126.0 1305.5 2127.0 1307.7 2128.0 1301.2 2129.0 1307.5 2130.0 1304.7 2131.0 1307.3 2132.0 1301.7 2133.0 1302.3 2134.0 1307.5 2135.0 1305.1 2136.0 1303.5 2137.0 1301.0 2138.0 1302.9 2139.0 1304.8 2140.0 1305.6 2141.0 1301.6 2142.0 1302.3 2143.0 1304.8 2144.0 1299.9 2145.0 1306.5 2146.0 1303.5 2147.0 1303.1 2148.0 1295.8 2149.0 1298.5 2150.0 1300.3 2151.0 1301.7 2152.0 1300.1 2153.0 1304.8 2154.0 1304.1 2155.0 1302.8 2156.0 1297.2 2157.0 1308.2 2158.0 1302.9 2159.0 1305.7 2160.0 1301.7 2161.0 1303.8 2162.0 1306.1 2163.0 1304.6 2164.0 1307.0 2165.0 1303.3 2166.0 1310.3 2167.0 1297.9 2168.0 1302.2 2169.0 1307.1 2170.0 1303.2 2171.0 1302.5 2172.0 1298.3" stroke="#FF0000"/>
<path d="M520.0 89.0L520.0 88.0 520.0 87.0 520.0 86.0 520.0 84.9 520.0 83.9 520.0 82.9 520.0 81.8 520.0 80.8 520.0 79.8 520.0 78.7 520.0 77.7 520.0 76.7 520.0 75.6 520.0 74.6 520.0 73.6 520.0 72.5 520.0 71.5 520.0 70.5 520.0 69.5 520.0 68.5 520.0 67.5 520.0 66.5 520.0 65.6 520.0 64.6 520.0 63.6 520.0 62.7 520.0 61.8 520.0 60.9 520.0 60.0 520.0 58.9 520.0 57.8 520.0 56.6 520.0 55.5 519.9 54.4 519.9 53.3 519.9 52.2 519.9 51.1 519.8 50.0 519.8 49.0 519.8 48.0 519.8 47.0 519.8 46.1 519.8 45.2 519.9 44.3 519.9 43.5 519.9 42.7 520.0 42.0 520.1 40.9 520.1 40.0 520.2 39.1 520.3 38.3 520.6 37.6 521.0 37.0 521.6 36.6 522.3 36.3 523.2 36.1 524.1 35.9 525.1 35.8 526.1 35.7 527.0 35.5 527.8 35.4 528.7 35.3 529.6 35.2 530.5 35.1 531.4 35.0 532.3 34.9 533.2 34.7 534.1 34.4 535.0 34.0 535.7 33.6 536.3 33.1 537.0 32.5 537.7 31.8 538.3 31.1 538.9 30.4 539.6 29.6 540.2 28.8 540.9 28.0 541.5 27.2 542.2 26.5 542.9 25.8 543.6 25.1 544.3 24.5 545.0 24.0 545.9 23.4 546.8 22.9 547.7 22.3 548.7 21.7 549.7 21.2 550.7 20.7 551.7 20.3 552.6 20.0 553.5 19.8 554.4 19.7 555.2 19.8 556.0 20.0 556.6 20.3 557.1 20.8 557.6 21.4 558.1 22.1 558.5 22.9 558.9 23.7 559.3 24.7 559.7 25.7 560.0 26.8 560.4 27.8 560.7 28.9 561.0 30.0 561.3 31.1 561.7 32.2 562.0 33.2 562.3 34.2 562.6 35.2 563.0 36.0 563.4 36.9 563.8 37.9 564.1 38.8 564.5 39.7 564.8 40.6 565.1 41.5 565.5 42.4 565.8 43.2 566.2 44.0 566.6 44.8 567.0 45.6 567.5 46.3 568.0 47.0 568.7 47.8 569.3 48.5 570.1 49.1 570.8 49.7 571.6 50.3 572.4 50.8 573.3 51.3 574.2 51.9 575.1 52.4 576.0 52.7 576.8 53.4 577.6 54.2 578.4 53.8 579.3 55.1 580.2 55.5 581.1 55.3 582.0 55.7 582.9 56.1 583.9 55.6 584.8 56.5 585.7 57.2 586.6 58.4 587.5 59.2 588.4 57.7 589.2 60.6 590.0 58.8 590.6 60.3 591.2 61.9 591.8 61.9 592.4 62.4 593.0 63.9 593.6 63.1 594.1 63.7 594.7 65.4 595.2 68.7 595.7 67.3 596.2 72.6 596.7 69.8 597.2 63.3 597.8 70.1 598.3 76.1 598.8 73.0 599.3 72.8 599.8 72.6 600.3 79.2 600.8 79.2 601.4 79.2 601.9 79.5 602.4 82.9 603.0 82.1 603.6 77.6 604.1 83.6 604.7 82.9 605.3 82.9 605.9 86.0 606.5 84.9 607.0 78.0 607.6 90.4 608.2 89.8 608.8 87.6 609.4 87.7 610.0 90.1 610.6 86.9 611.2 91.8 611.8 91.2 612.4 91.6 613.0 90.9 613.5 92.3 614.1 97.8 614.7 99.1 615.3 97.7 615.9 97.1 616.5 95.7 617.2 100.6 617.9 103.6 618.6 96.0 619.3 104.0 619.9 96.0 620.6 101.5 621.3 104.1 622.0 100.3 622.7 100.6 623.4 105.8 624.0 108.3 624.7 105.5 625.4 111.0 626.1 106.2 626.7 113.5 627.4 110.0 628.1 111.1 628.8 112.8 629.4 112.8 630.1 117.5 630.8 119.2 631.4 115.6 632.1 114.5 632.8 112.6 633.4 114.4 634.1 117.2 634.7 117.6 635.4 118.5 636.1 119.4 636.7 121.4 637.4 117.4 638.0 119.0 638.7 125.3 639.4 125.3 640.0 122.5 640.7 128.0 641.3 123.7 642.0 125.5 642.6 122.2 643.3 129.9 643.9 128.4 644.6 132.0 645.2 131.8 645.8 131.0 646.5 131.9 647.1 135.4 647.8 132.6 648.4 133.4 649.1 134.8 649.7 137.5 650.3 138.5 651.0 141.9 651.6 137.5 652.3 141.8 652.9 137.6 653.5 141.6 654.2 141.1 654.8 146.1 655.4 143.9 656.1 142.0 656.7 145.4 657.3 145.6 657.9 144.6 658.6 145.5 659.2 144.6 659.8 155.0 660.5 148.9 661.1 151.9 661.7 147.1 662.3 148.1 663.0 151.3 663.6 152.1 664.2 155.4 664.8 151.4 665.5 156.2 666.1 159.6 666.7 154.0 667.3 159.5 667.9 155.5 668.5 159.6 669.2 160.5 669.8 164.8 670.4 159.3 671.0 162.3 671.6 165.4 672.2 160.4 672.9 164.2 673.5 162.8 674.1 164.0 674.7 168.4 675.3 169.2 675.9 174.9 676.5 172.6 677.1 173.1 677.7 170.1 678.4 170.6 679.0 172.5 679.6 167.0 680.2 178.0 680.8 172.8 681.4 172.6 682.0 174.9 682.6 179.2 683.2 180.9 683.8 177.5 684.4 180.4 685.0 179.9 685.6 178.3 686.2 182.1 686.8 182.5 687.4 179.2 688.0 186.9 688.6 180.7 689.2 186.2 689.8 183.7 690.4 185.1 691.0 186.2 691.6 190.6 692.2 186.3 692.8 189.9 693.4 195.2 694.0 190.2 694.6 192.7 695.2 195.3 695.8 192.9 696.4 196.4 697.0 194.3 697.6 198.6 698.2 197.8 698.8 196.0 699.4 202.9 700.0 199.8 700.6 200.1 701.2 199.2 701.8 201.2 702.4 203.0 702.9 204.5 703.5 207.7 704.1 202.2 704.7 205.5 705.3 210.3 705.9 208.5 706.5 209.9 707.1 213.8 707.7 211.3 708.3 212.5 708.9 212.0 709.5 217.5 710.0 216.4 710.6 212.6 711.2 216.7 711.8 213.1 712.4 219.7 713.0 219.4 713.6 218.1 714.2 218.3 714.8 215.5 715.3 222.9 715.9 221.4 716.5 221.7 717.1 225.2 717.7 222.4 718.3 223.4 718.9 224.0 719.4 223.1 720.0 233.6 720.6 227.7 721.2 228.1 721.8 232.2 722.4 222.4 722.9 231.3 723.5 232.3 724.1 230.5 724.7 235.0 725.3 229.4 725.9 235.5 726.4 238.5 727.0 231.3 727.6 234.1 728.2 238.2 728.8 239.3 729.3 238.5 729.9 241.9 730.5 242.4 731.1 239.0 731.7 243.0 732.2 240.8 732.8 239.5 733.4 239.4 734.0 249.2 734.5 247.0 735.1 253.2 735.7 245.1 736.3 248.8 736.8 251.4 737.4 251.0 738.0 253.5 738.6 253.4 739.1 252.2 739.7 248.6 740.3 253.0 740.9 260.7 741.4 259.1 742.0 261.5 742.6 257.2 743.2 259.1 743.7 258.1 744.3 262.3 744.9 262.2 745.4 264.1 746.0 268.3 746.6 262.4 747.2 267.3 747.7 262.6 748.3 269.9 748.9 266.7 749.4 268.5 750.0 269.9 750.6 274.6 751.1 271.1 751.7 270.7 752.3 269.7 752.8 274.3 753.4 272.2 754.0 274.0 754.5 276.0 755.1 278.7 755.7 275.9 756.2 280.3 756.8 284.0 757.3 276.3 757.9 284.6 758.5 287.5 759.0 281.2 759.6 285.1 760.2 280.8 760.7 286.1 761.3 285.2 761.8 287.6 762.4 285.3 763.0 286.3 763.5 288.1 764.1 288.3 764.6 289.3 765.2 291.2 765.7 289.7 766.3 293.0 766.9 295.5 767.4 289.0 768.0 296.4 768.5 294.8 769.1 294.6 769.6 294.8 770.2 297.0 770.7 298.0 771.3 301.7 771.9 298.4 772.4 305.2 773.0 301.2 773.5 305.9 774.1 307.8 774.6 302.6 775.2 309.4 775.7 313.2 776.3 307.2 776.8 310.8 777.4 309.8 777.9 311.2 778.5 311.3 779.0 311.4 779.6 315.4 780.1 316.7 780.7 315.3 781.2 320.0 781.8 319.8 782.3 319.6 782.8 316.8 783.4 324.4 783.9 323.8 784.5 315.6 785.0 319.2 785.6 321.6 786.1 326.2 786.7 327.8 787.2 324.7 787.7 326.9 788.3 328.9 788.8 324.6 789.4 330.3 789.9 328.8 790.4 330.9 791.0 331.2 791.5 329.1 792.1 330.4 792.6 333.9 793.1 335.0 793.7 334.8 794.2 339.1 794.7 336.3 795.3 334.9 795.8 338.0 796.4 339.3 796.9 340.2 797.4 344.4 798.0 343.6 798.5 345.9 799.0 345.6 799.6 344.4 800.1 348.3 800.6 345.8 801.2 348.0 801.7 345.6 802.2 349.3 802.7 349.0 803.3 351.7 803.8 356.3 804.3 358.6 804.9 355.9 805.4 354.0 805.9 357.1 806.4 356.4 807.0 355.1 807.5 357.4 808.0 357.7 808.6 357.6 809.1 363.7 809.6 359.5 810.1 360.5 810.7 364.4 811.2 361.7 811.7 361.3 812.2 362.9 812.7 367.3 813.3 367.8 813.8 368.5 814.3 367.4 814.8 367.0 815.3 372.6 815.9 367.4 816.4 371.4 816.9 369.4 817.4 372.6 817.9 374.1 818.5 378.6 819.0 368.8 819.5 380.7 820.0 375.7 820.5 379.6 821.0 381.8 821.6 378.6 822.1 381.2 822.6 383.5 823.1 382.8 823.6 382.1 824.1 385.3 824.6 386.0 825.1 382.7 825.7 390.9 826.2 388.9 826.7 382.8 827.2 387.8 827.7 395.3 828.2 395.8 828.7 393.3 829.2 389.1 829.7 393.7 830.2 397.9 830.7 397.1 831.2 396.0 831.7 395.8 832.3 400.8 832.8 398.9 833.3 401.2 833.8 402.5 834.3 406.3 834.8 403.4 835.3 404.5 835.8 400.0 836.3 408.4 836.8 408.7 837.3 407.2 837.8 402.2 838.3 407.5 838.8 410.0 839.3 416.2 839.8 413.1 840.3 414.5 840.8 415.4 841.3 417.6 841.8 412.1 842.2 413.7 842.7 413.7 843.2 416.9 843.7 417.6 844.2 419.6 844.7 417.6 845.2 421.3 845.7 419.7 846.2 428.3 846.7 422.3 847.2 431.2 847.7 429.7 848.1 423.2 848.6 429.7 849.1 429.6 849.6 424.9 850.1 431.4 850.6 430.4 851.1 432.4 851.6 430.2 852.0 433.1 852.5 435.2 853.0 434.5 853.5 434.3 854.0 436.3 854.5 435.1 854.9 439.4 855.4 432.7 855.9 444.2 856.4 441.3 856.9 443.2 857.3 445.1 857.8 440.5 858.3 450.6 858.8 442.6 859.3 447.6 859.7 448.1 860.2 451.5 860.7 449.0 861.2 446.2 861.6 451.6 862.1 445.2 862.6 452.0 863.1 452.2 863.5 458.3 864.0 454.4 864.5 454.8 864.9 454.9 865.4 455.5 865.9 457.2 866.4 461.1 866.8 457.0 867.3 460.7 867.8 458.4 868.2 462.6 868.7 464.3 869.2 461.6 869.6 464.2 870.1 466.8 870.6 469.5 871.0 470.8 871.5 468.9 871.9 467.5 872.4 466.7 872.9 473.9 873.3 476.4 873.8 474.6 874.3 478.6 874.7 474.2 875.2 475.3 875.6 481.3 876.1 475.4 876.5 480.5 877.0 480.8 877.5 481.1 877.9 486.1 878.4 480.2 878.8 482.3 879.3 478.8 879.7 482.4 880.2 484.7 880.6 485.9 881.1 487.3 881.5 489.5 882.0 487.9 882.4 485.3 882.9 491.8 883.3 493.4 883.8 490.1 884.2 492.0 884.7 499.6 885.1 498.5 885.6 499.6 886.0 499.4 886.5 498.9 886.9 498.1 887.4 501.8 887.8 500.7 888.3 501.0 888.7 503.0 889.1 503.7 889.6 507.1 890.0 503.2 890.5 513.1 890.9 504.9 891.3 507.3 891.8 511.8 892.2 508.0 892.7 509.8 893.1 512.1 893.5 505.1 894.0 512.5 894.4 512.2 894.8 514.9 895.3 517.8 895.7 519.1 896.1 522.2 896.6 523.0 897.0 522.8 897.4 520.9 897.9 524.6 898.3 520.2 898.7 523.4 899.2 528.4 899.6 527.6 900.0 522.7 900.5 525.7 900.9 530.6 901.3 530.7 901.8 532.8 902.2 526.3 902.6 528.5 903.0 532.1 903.5 531.1 903.9 534.5 904.3 535.5 904.8 537.3 905.2 536.9 905.6 539.6 906.0 541.1 906.5 540.4 906.9 537.7 907.3 545.2 907.7 543.3 908.2 544.7 908.6 545.0 909.0 541.2 909.4 547.8 909.8 545.5 910.3 544.9 910.7 552.4 911.1 549.2 911.5 551.6 912.0 554.1 912.4 556.9 912.8 548.8 913.2 552.5 913.6 557.2 914.1 554.5 914.5 548.7 914.9 558.5 915.3 559.6 915.7 562.0 916.2 561.4 916.6 560.6 917.0 563.2 917.4 563.5 917.8 563.1 918.3 566.0 918.7 567.2 919.1 564.5 919.5 570.8 919.9 571.2 920.3 572.0 920.8 563.6 921.2 572.0 921.6 572.3 922.0 570.9 922.4 576.0 922.8 571.4 923.3 579.5 923.7 578.2 924.1 576.8 924.5 582.7 924.9 581.1 925.3 581.7 925.8 578.3 926.2 584.0 926.6 587.2 927.0 587.3 927.4 582.0 927.8 589.9 928.2 591.4 928.7 590.3 929.1 588.0 929.5 586.0 929.9 588.4 930.3 590.2 930.7 593.3 931.1 595.0 931.6 592.5 932.0 591.0 932.4 595.2 932.8 593.7 933.2 601.5 933.6 595.7 934.1 601.1 934.5 602.9 934.9 599.1 935.3 605.2 935.7 603.1 936.1 602.3 936.5 602.8 937.0 606.5 937.4 609.9 937.8 603.0 938.2 610.5 938.6 609.4 939.0 608.7 939.4 611.3 939.9 612.5 940.3 613.3 940.7 616.5 941.1 612.9 941.5 621.3 941.9 619.4 942.3 616.4 942.8 613.9 943.2 619.8 943.6 619.7 944.0 623.6 944.4 624.5 944.8 628.5 945.2 624.1 945.7 627.4 946.1 625.1 946.5 626.2 946.9 632.1 947.3 628.6 947.7 629.6 948.2 629.9 948.6 632.6 949.0 634.2 949.4 633.2 949.8 631.5 950.2 636.3 950.7 634.1 951.1 636.3 951.5 638.7 951.9 639.7 952.3 633.8 952.8 645.3 953.2 643.9 953.6 647.7 954.0 650.2 954.4 642.0 954.9 643.9 955.3 646.9 955.7 649.6 956.1 646.7 956.5 648.2 957.0 652.7 957.4 648.5 957.8 652.2 958.2 655.4 958.6 652.8 959.1 656.4 959.5 655.0 959.9 652.0 960.3 655.6 960.8 657.4 961.2 658.0 961.6 659.8 962.0 661.7 962.5 662.3 962.9 662.9 963.3 662.2 963.7 663.6 964.2 664.1 964.6 664.5 965.0 670.5 965.4 662.8 965.9 669.3 966.3 665.3 966.7 668.9 967.1 673.4 967.6 671.5 968.0 676.8 968.4 671.5 968.9 674.1 969.3 674.1 969.7 676.7 970.2 676.7 970.6 677.4 971.0 679.5 971.4 683.1 971.9 681.5 972.3 682.1 972.7 682.1 973.2 681.9 973.6 680.8 974.0 682.8 974.5 686.5 974.9 682.3 975.4 689.9 975.8 687.9 976.2 687.5 976.7 689.4 977.1 693.4 977.5 693.6 978.0 694.2 978.4 699.0 978.9 701.5 979.3 692.9 979.7 699.5 980.2 696.2 980.6 695.5 981.1 698.6 981.5 703.6 982.0 701.1 982.4 701.6 982.8 707.4 983.3 706.0 983.7 705.4 984.2 711.3 984.6 708.7 985.1 706.5 985.5 706.4 986.0 709.1 986.4 711.5 986.9 714.5 987.3 715.1 987.8 714.1 988.2 711.6 988.7 718.0 989.1 716.7 989.6 714.5 990.0 715.0 990.5 719.7 990.9 720.9 991.4 723.0 991.8 718.6 992.3 727.7 992.8 718.8 993.2 724.3 993.7 728.8 994.1 728.9 994.6 724.6 995.1 729.5 995.5 732.0 996.0 731.6 996.4 728.0 996.9 735.8 997.4 728.1 997.8 733.3 998.3 731.3 998.8 733.8 999.2 735.0 999.7 738.0 1000.2 734.3 1000.6 739.0 1001.1 742.7 1001.6 740.4 1002.0 742.5 1002.5 743.1 1003.0 740.9 1003.5 742.7 1003.9 744.7 1004.4 746.7 1004.9 751.7 1005.4 751.5 1005.8 746.9 1006.3 747.8 1006.8 747.2 1007.3 744.6 1007.7 755.0 1008.2 753.8 1008.7 748.2 1009.2 754.2 1009.7 761.3 1010.2 757.2 1010.6 758.2 1011.1 758.3 1011.6 756.6 1012.1 756.4 1012.6 758.2 1013.1 761.6 1013.5 761.5 1014.0 764.8 1014.5 768.5 1015.0 766.3 1015.5 767.8 1016.0 765.5 1016.5 763.9 1017.0 773.9 1017.5 771.0 1018.0 773.1 1018.5 769.8 1018.9 767.2 1019.4 776.0 1019.9 767.8 1020.4 773.9 1020.9 773.7 1021.4 776.6 1021.9 779.0 1022.4 779.9 1022.9 773.1 1023.4 782.1 1023.9 775.3 1024.4 783.0 1024.9 780.9 1025.4 779.9 1025.9 782.4 1026.4 781.2 1026.9 785.5 1027.4 788.8 1027.9 789.3 1028.5 788.2 1029.0 791.8 1029.5 791.1 1030.0 796.4 1030.5 792.9 1031.0 790.8 1031.5 792.5 1032.0 792.1 1032.5 794.2 1033.0 795.4 1033.5 798.5 1034.1 799.6 1034.6 798.5 1035.1 800.3 1035.6 798.1 1036.1 799.5 1036.6 795.3 1037.1 800.6 1037.7 802.2 1038.2 811.1 1038.7 801.6 1039.2 806.2 1039.7 806.0 1040.2 803.6 1040.8 809.3 1041.3 809.5 1041.8 806.4 1042.3 805.0 1042.9 811.8 1043.4 809.1 1043.9 815.5 1044.4 813.8 1044.9 816.8 1045.5 815.4 1046.0 821.2 1046.5 819.8 1047.1 822.8 1047.6 820.0 1048.1 817.8 1048.6 817.6 1049.2 820.9 1049.7 823.8 1050.2 822.2 1050.8 831.2 1051.3 825.4 1051.8 827.7 1052.3 827.5 1052.9 824.8 1053.4 831.8 1053.9 831.6 1054.5 833.0 1055.0 829.1 1055.6 832.4 1056.1 833.1 1056.6 837.2 1057.2 831.3 1057.7 837.5 1058.2 840.0 1058.8 836.3 1059.3 836.1 1059.9 842.7 1060.4 840.6 1060.9 843.8 1061.5 843.7 1062.0 845.4 1062.6 842.9 1063.1 838.6 1063.6 846.6 1064.2 844.0 1064.7 848.3 1065.3 846.1 1065.8 852.7 1066.4 848.6 1066.9 852.3 1067.5 853.8 1068.0 851.5 1068.6 853.4 1069.1 853.3 1069.7 851.8 1070.2 859.0 1070.8 853.4 1071.3 852.5 1071.9 856.2 1072.4 858.7 1073.0 859.4 1073.5 859.1 1074.1 859.6 1074.6 856.0 1075.2 864.2 1075.7 867.9 1076.3 862.2 1076.8 860.2 1077.4 867.8 1077.9 866.2 1078.5 856.8 1079.1 866.3 1079.6 865.2 1080.2 866.8 1080.7 876.1 1081.3 874.2 1081.9 872.0 1082.4 873.3 1083.0 878.3 1083.5 872.0 1084.1 877.7 1084.7 874.9 1085.2 879.6 1085.8 878.8 1086.3 877.0 1086.9 882.7 1087.5 882.2 1088.0 886.5 1088.6 881.3 1089.2 883.5 1089.7 882.1 1090.3 888.1 1090.9 883.6 1091.4 886.4 1092.0 890.8 1092.6 889.5 1093.1 889.7 1093.7 890.4 1094.3 891.5 1094.8 893.1 1095.4 891.4 1096.0 887.7 1096.6 897.4 1097.1 891.8 1097.7 900.4 1098.3 897.0 1098.9 905.6 1099.4 901.1 1100.0 899.9 1100.6 902.0 1101.1 896.6 1101.7 901.6 1102.3 901.0 1102.9 902.8 1103.5 898.1 1104.0 898.5 1104.6 907.1 1105.2 906.1 1105.8 905.6 1106.3 907.4 1106.9 906.7 1107.5 907.9 1108.1 911.9 1108.7 910.2 1109.2 913.5 1109.8 910.6 1110.4 908.4 1111.0 912.3 1111.6 914.5 1112.1 912.7 1112.7 915.5 1113.3 916.0 1113.9 920.6 1114.5 921.2 1115.1 922.7 1115.6 918.5 1116.2 922.3 1116.8 925.6 1117.4 923.5 1118.0 923.6 1118.6 922.5 1119.2 927.7 1119.8 926.7 1120.3 929.7 1120.9 927.4 1121.5 934.2 1122.1 929.4 1122.7 926.9 1123.3 931.6 1123.9 933.2 1124.5 936.1 1125.1 932.2 1125.7 932.8 1126.2 934.4 1126.8 934.9 1127.4 931.0 1128.0 939.5 1128.6 941.7 1129.2 937.1 1129.8 937.3 1130.4 940.4 1131.0 939.4 1131.6 944.5 1132.2 941.5 1132.8 945.6 1133.4 941.5 1134.0 941.8 1134.6 942.2 1135.2 943.4 1135.8 949.2 1136.4 951.1 1137.0 950.0 1137.6 951.0 1138.2 945.3 1138.8 955.1 1139.4 949.5 1140.0 957.2 1140.6 961.0 1141.2 955.4 1141.8 957.8 1142.4 958.5 1143.0 954.2 1143.6 955.5 1144.2 957.4 1144.8 960.5 1145.4 963.2 1146.0 962.0 1146.6 965.5 1147.2 961.9 1147.8 960.3 1148.4 965.0 1149.0 965.6 1149.6 962.7 1150.2 970.1 1150.8 965.6 1151.4 967.0 1152.0 970.3 1152.6 967.6 1153.2 973.0 1153.8 973.2 1154.4 974.1 1155.1 973.7 1155.7 973.3 1156.3 973.3 1156.9 977.0 1157.5 980.6 1158.1 979.9 1158.7 979.5 1159.3 982.0 1159.9 983.7 1160.5 977.6 1161.2 981.7 1161.8 985.9 1162.4 981.7 1163.0 982.9 1163.6 986.6 1164.2 985.2 1164.8 989.8 1165.4 986.6 1166.1 989.8 1166.7 995.7 1167.3 992.9 1167.9 987.0 1168.5 988.6 1169.1 989.5 1169.7 992.9 1170.4 990.1 1171.0 996.1 1171.6 1000.0 1172.2 1000.4 1172.8 994.9 1173.4 997.0 1174.0 997.8 1174.7 997.1 1175.3 1004.7 1175.9 999.1 1176.5 998.8 1177.1 1003.5 1177.8 1004.2 1178.4 1008.2 1179.0 1009.0 1179.6 1005.2 1180.2 1000.9 1180.8 1009.1 1181.5 1010.2 1182.1 1013.7 1182.7 1005.5 1183.3 1007.3 1183.9 1015.4 1184.6 1016.4 1185.2 1016.3 1185.8 1013.5 1186.4 1017.8 1187.1 1013.7 1187.7 1012.7 1188.3 1016.6 1188.9 1017.8 1189.5 1020.5 1190.2 1022.0 1190.8 1015.2 1191.4 1021.5 1192.0 1022.8 1192.7 1018.9 1193.3 1022.4 1193.9 1024.0 1194.5 1025.8 1195.2 1023.1 1195.8 1024.6 1196.4 1024.1 1197.1 1028.7 1197.7 1027.7 1198.3 1027.8 1198.9 1031.9 1199.6 1030.5 1200.2 1028.5 1200.8 1035.5 1201.5 1035.9 1202.1 1035.3 1202.7 1032.1 1203.4 1038.6 1204.0 1034.9 1204.6 1032.3 1205.3 1037.7 1205.9 1043.6 1206.5 1038.4 1207.2 1041.9 1207.8 1044.8 1208.4 1042.4 1209.1 1041.9 1209.7 1043.5 1210.3 1045.8 1211.0 1043.7 1211.6 1046.8 1212.3 1048.1 1212.9 1046.4 1213.5 1050.1 1214.2 1050.4 1214.8 1048.9 1215.5 1050.0 1216.1 1051.6 1216.8 1051.7 1217.4 1052.3 1218.1 1050.9 1218.7 1054.7 1219.4 1057.1 1220.0 1057.6 1220.7 1054.5 1221.3 1058.9 1222.0 1059.8 1222.6 1056.6 1223.3 1061.1 1223.9 1060.1 1224.6 1060.3 1225.2 1062.6 1225.9 1062.2 1226.5 1057.7 1227.2 1064.9 1227.9 1062.1 1228.5 1065.6 1229.2 1068.4 1229.8 1066.7 1230.5 1066.9 1231.2 1069.2 1231.8 1070.9 1232.5 1068.1 1233.2 1069.4 1233.8 1073.1 1234.5 1076.7 1235.2 1073.3 1235.8 1076.3 1236.5 1072.8 1237.2 1075.5 1237.9 1076.4 1238.5 1073.6 1239.2 1077.7 1239.9 1078.0 1240.6 1072.5 1241.2 1079.7 1241.9 1081.4 1242.6 1082.0 1243.3 1082.9 1244.0 1079.9 1244.7 1081.6 1245.3 1083.7 1246.0 1082.7 1246.7 1084.4 1247.4 1089.5 1248.1 1084.8 1248.8 1086.9 1249.5 1093.2 1250.2 1088.9 1250.9 1087.3 1251.6 1091.3 1252.3 1091.8 1253.0 1092.4 1253.7 1088.5 1254.4 1094.2 1255.1 1095.2 1255.8 1100.3 1256.5 1097.4 1257.2 1095.2 1257.9 1097.9 1258.6 1099.5 1259.3 1098.1 1260.0 1099.1 1260.7 1103.4 1261.4 1101.8 1262.2 1102.6 1262.9 1099.5 1263.6 1103.8 1264.3 1098.5 1265.0 1107.2 1265.8 1103.5 1266.5 1107.1 1267.2 1109.7 1267.9 1104.0 1268.7 1110.4 1269.4 1108.7 1270.1 1111.8 1270.9 1108.5 1271.6 1108.4 1272.3 1114.1 1273.1 1112.5 1273.8 1112.2 1274.5 1109.8 1275.3 1116.8 1276.0 1113.2 1276.8 1114.2 1277.5 1113.6 1278.3 1116.0 1279.0 1118.2 1279.8 1117.1 1280.5 1117.7 1281.3 1117.1 1282.0 1123.0 1282.8 1123.9 1283.6 1119.6 1284.3 1118.7 1285.1 1122.3 1285.8 1118.1 1286.6 1123.5 1287.4 1124.1 1288.1 1124.5 1288.9 1128.7 1289.7 1130.0 1290.5 1127.0 1291.2 1125.5 1292.0 1129.7 1292.8 1130.6 1293.6 1125.2 1294.4 1127.0 1295.2 1128.8 1295.9 1125.7 1296.7 1127.7 1297.5 1135.3 1298.3 1128.5 1299.1 1134.5 1299.9 1130.8 1300.7 1136.0 1301.5 1134.8 1302.3 1136.9 1303.1 1131.6 1303.9 1136.4 1304.7 1134.8 1305.5 1138.8 1306.4 1139.2 1307.2 1138.3 1308.0 1138.1 1308.8 1139.0 1309.6 1140.2 1310.4 1138.8 1311.3 1139.5 1312.1 1139.5 1312.9 1139.0 1313.7 1144.9 1314.6 1139.3 1315.4 1146.6 1316.2 1145.6 1317.1 1139.9 1317.9 1140.1 1318.7 1145.4 1319.6 1143.1 1320.4 1146.7 1321.3 1149.3 1322.1 1148.2 1322.9 1147.3 1323.8 1147.9 1324.6 1152.6 1325.5 1148.4 1326.3 1154.3 1327.2 1155.5 1328.1 1149.9 1328.9 1152.1 1329.8 1156.2 1330.6 1150.5 1331.5 1153.9 1332.4 1156.0 1333.2 1151.1 1334.1 1155.2 1335.0 1155.0 1335.8 1153.8 1336.7 1159.6 1337.6 1155.8 1338.4 1162.4 1339.3 1158.9 1340.2 1155.7 1341.1 1158.6 1342.0 1156.4 1342.8 1160.9 1343.7 1161.0 1344.6 1156.7 1345.5 1159.1 1346.4 1161.8 1347.3 1161.2 1348.1 1159.0 1349.0 1164.7 1349.9 1165.8 1350.8 1159.0 1351.7 1167.0 1352.6 1158.4 1353.5 1163.7 1354.4 1162.7 1355.3 1163.4 1356.2 1165.7 1357.1 1162.7 1358.0 1165.8 1358.9 1170.8 1359.8 1168.0 1360.7 1171.1 1361.6 1169.9 1362.5 1164.0 1363.5 1173.0 1364.4 1171.1 1365.3 1171.0 1366.2 1168.7 1367.1 1168.8 1368.0 1167.8 1368.9 1170.5 1369.9 1171.5 1370.8 1171.2 1371.7 1171.6 1372.6 1167.4 1373.5 1170.8 1374.5 1171.1 1375.4 1174.3 1376.3 1172.7 1377.3 1173.1 1378.2 1174.8 1379.1 1173.8 1380.0 1174.6 1381.0 1178.5 1381.9 1175.6 1382.8 1174.1 1383.8 1178.3 1384.7 1179.2 1385.6 1179.1 1386.6 1174.5 1387.5 1180.6 1388.5 1178.7 1389.4 1179.2 1390.3 1179.5 1391.3 1180.7 1392.2 1181.2 1393.2 1184.0 1394.1 1181.2 1395.1 1180.7 1396.0 1182.9 1397.0 1181.4 1397.9 1184.7 1398.8 1182.7 1399.8 1184.5 1400.7 1181.7 1401.7 1185.8 1402.7 1185.2 1403.6 1181.8 1404.6 1183.3 1405.5 1184.8 1406.5 1181.6 1407.4 1182.5 1408.4 1186.7 1409.3 1187.1 1410.3 1189.5 1411.3 1183.2 1412.2 1185.8 1413.2 1181.9 1414.1 1191.8 1415.1 1184.3 1416.1 1187.3 1417.0 1193.1 1418.0 1192.1 1418.9 1186.7 1419.9 1194.8 1420.9 1190.6 1421.8 1187.1 1422.8 1190.7 1423.8 1191.9 1424.7 1192.2 1425.7 1185.5 1426.7 1195.8 1427.7 1187.4 1428.6 1191.2 1429.6 1195.6 1430.6 1193.2 1431.5 1192.4 1432.5 1191.3 1433.5 1194.5 1434.5 1196.8 1435.4 1192.3 1436.4 1195.0 1437.4 1193.2 1438.3 1193.4 1439.3 1189.5 1440.3 1195.7 1441.3 1197.6 1442.3 1195.2 1443.2 1198.5 1444.2 1196.5 1445.2 1199.4 1446.2 1197.0 1447.1 1196.0 1448.1 1195.9 1449.1 1197.7 1450.1 1198.4 1451.1 1196.0 1452.0 1197.8 1453.0 1195.1 1454.0 1195.3 1455.0 1200.6 1456.0 1200.1 1456.9 1201.7 1457.9 1200.0 1458.9 1200.6 1459.9 1204.8 1460.9 1198.3 1461.8 1201.4 1462.8 1204.9 1463.8 1206.2 1464.8 1202.8 1465.8 1201.3 1466.8 1199.2 1467.7 1201.7 1468.7 1202.7 1469.7 1202.6 1470.7 1204.0 1471.7 1204.4 1472.7 1202.0 1473.7 1201.2 1474.6 1202.9 1475.6 1205.0 1476.6 1208.2 1477.6 1200.3 1478.6 1207.2 1479.6 1204.1 1480.5 1207.7 1481.5 1209.9 1482.5 1206.7 1483.5 1202.8 1484.5 1204.8 1485.5 1207.0 1486.5 1205.5 1487.4 1206.3 1488.4 1204.8 1489.4 1206.4 1490.4 1205.6 1491.4 1209.5 1492.4 1208.3 1493.4 1209.6 1494.3 1203.9 1495.3 1207.1 1496.3 1206.5 1497.3 1207.5 1498.3 1206.6 1499.3 1207.2 1500.3 1213.1 1501.2 1208.7 1502.2 1206.5 1503.2 1209.1 1504.2 1215.6 1505.2 1212.0 1506.2 1208.1 1507.2 1210.0 1508.1 1210.6 1509.1 1211.1 1510.1 1206.6 1511.1 1209.0 1512.1 1211.2 1513.1 1207.5 1514.1 1211.5 1515.0 1212.3 1516.0 1214.3 1517.0 1215.2 1518.0 1212.3 1519.0 1213.5 1520.0 1214.8 1521.0 1215.8 1522.0 1213.6 1522.9 1211.8 1523.9 1215.3 1524.9 1216.1 1525.9 1214.6 1526.9 1215.8 1527.9 1218.5 1528.9 1213.5 1529.9 1213.2 1530.8 1212.4 1531.8 1216.2 1532.8 1217.8 1533.8 1214.4 1534.8 1220.3 1535.8 1214.6 1536.8 1216.8 1537.8 1216.1 1538.7 1220.0 1539.7 1215.1 1540.7 1221.0 1541.7 1216.6 1542.7 1213.9 1543.7 1216.0 1544.7 1217.2 1545.7 1221.9 1546.6 1216.7 1547.6 1218.0 1548.6 1223.4 1549.6 1218.8 1550.6 1217.0 1551.6 1216.9 1552.6 1215.0 1553.6 1219.9 1554.6 1222.2 1555.5 1218.4 1556.5 1216.9 1557.5 1220.3 1558.5 1219.8 1559.5 1219.6 1560.5 1221.2 1561.5 1220.3 1562.5 1219.5 1563.5 1223.0 1564.4 1216.1 1565.4 1218.0 1566.4 1220.3 1567.4 1217.8 1568.4 1225.0 1569.4 1216.0 1570.4 1223.3 1571.4 1223.1 1572.4 1222.7 1573.3 1223.0 1574.3 1220.7 1575.3 1220.5 1576.3 1225.9 1577.3 1222.2 1578.3 1219.1 1579.3 1219.8 1580.3 1219.2 1581.3 1223.8 1582.3 1226.1 1583.2 1222.6 1584.2 1223.9 1585.2 1222.4 1586.2 1226.1 1587.2 1226.2 1588.2 1226.5 1589.2 1228.8 1590.2 1221.4 1591.2 1226.6 1592.2 1220.9 1593.1 1226.7 1594.1 1227.1 1595.1 1227.0 1596.1 1227.3 1597.1 1225.2 1598.1 1224.0 1599.1 1227.7 1600.1 1224.3 1601.1 1227.8 1602.1 1224.1 1603.0 1227.2 1604.0 1227.2 1605.0 1224.5 1606.0 1225.9 1607.0 1229.1 1608.0 1227.1 1609.0 1228.4 1610.0 1225.9 1611.0 1227.6 1612.0 1223.9 1613.0 1225.7 1613.9 1230.8 1614.9 1229.2 1615.9 1228.0 1616.9 1228.5 1617.9 1224.9 1618.9 1229.4 1619.9 1225.5 1620.9 1226.8 1621.9 1230.4 1622.9 1227.0 1623.9 1227.7 1624.9 1228.8 1625.8 1229.4 1626.8 1232.6 1627.8 1225.2 1628.8 1228.5 1629.8 1231.1 1630.8 1228.5 1631.8 1228.8 1632.8 1227.9 1633.8 1229.3 1634.8 1231.7 1635.8 1233.3 1636.8 1231.2 1637.7 1233.9 1638.7 1230.9 1639.7 1226.6 1640.7 1232.7 1641.7 1226.0 1642.7 1230.9 1643.7 1231.2 1644.7 1228.5 1645.7 1230.9 1646.7 1230.1 1647.7 1231.9 1648.7 1231.0 1649.7 1233.3 1650.6 1231.0 1651.6 1233.5 1652.6 1232.1 1653.6 1232.9 1654.6 1232.7 1655.6 1231.3 1656.6 1235.3 1657.6 1234.1 1658.6 1227.2 1659.6 1229.9 1660.6 1237.2 1661.6 1232.4 1662.6 1240.1 1663.5 1234.4 1664.5 1234.5 1665.5 1232.4 1666.5 1233.1 1667.5 1234.1 1668.5 1236.1 1669.5 1234.2 1670.5 1233.9 1671.5 1231.7 1672.5 1233.1 1673.5 1233.3 1674.5 1234.1 1675.5 1232.7 1676.5 1231.9 1677.4 1233.9 1678.4 1228.7 1679.4 1231.1 1680.4 1232.9 1681.4 1235.9 1682.4 1233.4 1683.4 1232.5 1684.4 1236.9 1685.4 1235.0 1686.4 1238.7 1687.4 1234.9 1688.4 1233.8 1689.4 1234.7 1690.4 1240.0 1691.4 1239.6 1692.3 1236.3 1693.3 1238.5 1694.3 1232.7 1695.3 1239.2 1696.3 1237.1 1697.3 1236.1 1698.3 1236.5 1699.3 1237.1 1700.3 1235.5 1701.3 1235.7 1702.3 1233.8 1703.3 1240.6 1704.3 1234.7 1705.3 1236.6 1706.3 1239.6 1707.3 1240.1 1708.3 1240.7 1709.2 1235.8 1710.2 1236.3 1711.2 1237.2 1712.2 1233.0 1713.2 1239.7 1714.2 1233.6 1715.2 1237.4 1716.2 1240.0 1717.2 1239.9 1718.2 1236.9 1719.2 1240.2 1720.2 1240.7 1721.2 1234.1 1722.2 1237.6 1723.2 1240.0 1724.2 1239.5 1725.2 1238.0 1726.1 1238.4 1727.1 1244.4 1728.1 1237.9 1729.1 1241.5 1730.1 1236.1 1731.1 1240.4 1732.1 1241.7 1733.1 1238.3 1734.1 1237.9 1735.1 1244.1 1736.1 1239.2 1737.1 1242.3 1738.1 1236.3 1739.1 1244.2 1740.1 1235.3 1741.1 1238.0 1742.1 1238.9 1743.1 1240.3 1744.0 1241.0 1745.0 1244.6 1746.0 1245.9 1747.0 1245.5 1748.0 1243.0 1749.0 1241.6 1750.0 1236.2 1751.0 1241.1 1752.0 1240.0 1753.0 1243.0 1754.0 1239.1 1755.0 1239.6 1756.0 1240.0 1757.0 1243.5 1758.0 1242.4 1759.0 1239.5 1760.0 1237.9 1761.0 1240.8 1762.0 1240.7 1763.0 1241.1 1763.9 1242.7 1764.9 1244.4 1765.9 1244.6 1766.9 1241.1 1767.9 1241.0 1768.9 1246.6 1769.9 1242.4 1770.9 1244.9 1771.9 1243.7 1772.9 1244.3 1773.9 1247.3 1774.9 1242.9 1775.9 1246.3 1776.9 1245.0 1777.9 1243.5 1778.9 1242.8 1779.9 1242.7 1780.9 1246.9 1781.9 1246.6 1782.9 1242.2 1783.9 1245.4 1784.9 1240.0 1785.8 1244.7 1786.8 1249.7 1787.8 1241.8 1788.8 1245.6 1789.8 1243.4 1790.8 1245.2 1791.8 1242.5 1792.8 1245.6 1793.8 1239.5 1794.8 1244.7 1795.8 1244.6 1796.8 1245.3 1797.8 1250.6 1798.8 1242.8 1799.8 1244.1 1800.8 1242.5 1801.8 1247.2 1802.8 1246.0 1803.8 1243.2 1804.8 1248.5 1805.8 1246.9 1806.8 1249.9 1807.8 1248.3 1808.7 1246.7 1809.7 1244.7 1810.7 1241.4 1811.7 1245.3 1812.7 1249.6 1813.7 1246.3 1814.7 1244.9 1815.7 1247.7 1816.7 1249.0 1817.7 1254.1 1818.7 1244.9 1819.7 1246.6 1820.7 1244.7 1821.7 1245.8 1822.7 1249.9 1823.7 1247.5 1824.7 1244.2 1825.7 1251.2 1826.7 1252.4 1827.7 1250.1 1828.7 1245.7 1829.7 1245.6 1830.7 1251.5 1831.7 1245.9 1832.7 1247.1 1833.7 1245.0 1834.6 1253.5 1835.6 1247.1 1836.6 1248.4 1837.6 1247.1 1838.6 1247.3 1839.6 1246.2 1840.6 1252.0 1841.6 1247.6 1842.6 1253.0 1843.6 1246.3 1844.6 1250.7 1845.6 1252.0 1846.6 1246.8 1847.6 1250.4 1848.6 1248.4 1849.6 1247.2 1850.6 1249.0 1851.6 1245.4 1852.6 1249.5 1853.6 1246.4 1854.6 1252.0 1855.6 1254.2 1856.6 1254.0 1857.6 1248.8 1858.6 1250.4 1859.6 1255.7 1860.6 1254.1 1861.5 1252.6 1862.5 1245.7 1863.5 1250.3 1864.5 1256.8 1865.5 1252.5 1866.5 1250.3 1867.5 1251.7 1868.5 1257.7 1869.5 1255.0 1870.5 1248.6 1871.5 1249.0 1872.5 1252.1 1873.5 1255.3 1874.5 1250.2 1875.5 1250.8 1876.5 1245.9 1877.5 1250.8 1878.5 1254.0 1879.5 1254.1 1880.5 1248.9 1881.5 1254.7 1882.5 1250.7 1883.5 1249.2 1884.5 1254.2 1885.5 1248.8 1886.5 1251.8 1887.5 1250.9 1888.5 1252.8 1889.5 1253.8 1890.5 1252.2 1891.5 1251.3 1892.4 1252.2 1893.4 1247.5 1894.4 1253.3 1895.4 1259.0 1896.4 1254.8 1897.4 1257.0 1898.4 1254.2 1899.4 1254.3 1900.4 1255.5 1901.4 1256.2 1902.4 1256.2 1903.4 1252.5 1904.4 1254.8 1905.4 1251.0 1906.4 1257.6 1907.4 1254.9 1908.4 1254.4 1909.4 1252.0 1910.4 1256.5 1911.4 1257.9 1912.4 1256.8 1913.4 1258.4 1914.4 1253.7 1915.4 1258.1 1916.4 1255.8 1917.4 1249.1 1918.4 1256.7 1919.4 1253.6 1920.4 1255.8 1921.4 1254.6 1922.4 1254.1 1923.4 1259.2 1924.4 1255.2 1925.4 1257.1 1926.4 1258.6 1927.4 1255.9 1928.3 1253.8 1929.3 1257.2 1930.3 1256.9 1931.3 1254.9 1932.3 1257.6 1933.3 1260.7 1934.3 1260.0 1935.3 1261.6 1936.3 1261.3 1937.3 1258.3 1938.3 1258.0 1939.3 1255.2 1940.3 1261.1 1941.3 1256.7 1942.3 1259.7 1943.3 1262.6 1944.3 1258.7 1945.3 1254.7 1946.3 1255.9 1947.3 1257.8 1948.3 1262.2 1949.3 1258.0 1950.3 1258.5 1951.3 1256.2 1952.3 1259.9 1953.3 1259.4 1954.3 1261.3 1955.3 1256.8 1956.3 1260.9 1957.3 1255.7 1958.3 1257.7 1959.3 1258.1 1960.3 1259.1 1961.3 1260.7 1962.3 1253.7 1963.3 1259.6 1964.3 1258.9 1965.3 1256.5 1966.3 1259.2 1967.3 1261.2 1968.3 1259.0 1969.3 1259.0 1970.2 1262.1 1971.2 1258.5 1972.2 1263.2 1973.2 1261.6 1974.2 1261.8 1975.2 1262.3 1976.2 1264.0 1977.2 1259.1 1978.2 1263.9 1979.2 1258.8 1980.2 1262.1 1981.2 1262.8 1982.2 1261.7 1983.2 1258.5 1984.2 1258.3 1985.2 1258.7 1986.2 1261.5 1987.2 1262.1 1988.2 1263.2 1989.2 1257.9 1990.2 1262.7 1991.2 1264.6 1992.2 1262.5 1993.2 1262.1 1994.2 1264.3 1995.2 1266.4 1996.2 1266.2 1997.2 1266.4 1998.2 1259.2 1999.2 1266.3 2000.2 1261.9 2001.2 1264.9 2002.2 1261.3 2003.2 1263.9 2004.2 1261.5 2005.2 1262.3 2006.2 1268.1 2007.2 1260.1 2008.2 1265.8 2009.2 1263.5 2010.2 1260.6 2011.2 1266.9 2012.2 1263.6 2013.2 1262.2 2014.2 1264.5 2015.2 1261.7 2016.2 1268.1 2017.2 1260.1 2018.2 1262.6 2019.2 1258.9 2020.2 1264.7 2021.2 1266.3 2022.2 1266.6 2023.1 1268.3 2024.1 1264.3 2025.1 1263.3 2026.1 1266.9 2027.1 1263.0 2028.1 1265.5 2029.1 1263.5 2030.1 1262.9 2031.1 1264.7 2032.1 1267.8 2033.1 1267.3 2034.1 1265.4 2035.1 1258.4 2036.1 1265.2 2037.1 1266.2 2038.1 1266.7 2039.1 1263.5 2040.1 1268.0 2041.1 1266.4 2042.1 1260.7 2043.1 1267.6 2044.1 1269.9 2045.1 1266.4 2046.1 1263.8 2047.1 1270.6 2048.1 1268.5 2049.1 1261.3 2050.1 1268.8 2051.1 1267.1 2052.1 1266.9 2053.1 1261.7 2054.1 1261.9 2055.1 1266.7 2056.1 1271.3 2057.1 1266.8 2058.1 1266.7 2059.1 1264.9 2060.1 1265.5 2061.1 1269.2 2062.1 1264.6 2063.1 1271.5 2064.1 1267.9 2065.1 1267.5 2066.1 1266.4 2067.1 1264.9 2068.1 1266.1 2069.1 1263.1 2070.1 1267.0 2071.1 1261.9 2072.1 1272.6 2073.1 1266.7 2074.1 1263.0 2075.1 1267.6 2076.1 1267.3 2077.1 1265.6 2078.1 1267.7 2079.1 1265.0 2080.1 1266.8 2081.1 1266.7 2082.1 1268.5 2083.1 1265.8 2084.1 1268.0 2085.1 1260.0 2086.1 1270.2 2087.1 1267.9 2088.1 1268.9 2089.1 1266.9 2090.1 1269.9 2091.1 1267.5 2092.1 1268.2 2093.1 1267.9 2094.1 1266.4 2095.1 1265.5 2096.1 1269.3 2097.1 1269.6 2098.1 1267.9 2099.1 1271.3 2100.1 1268.4 2101.1 1269.4 2102.0 1271.0 2103.0 1270.1 2104.0 1267.8 2105.0 1265.5 2106.0 1266.4 2107.0 1265.7 2108.0 1270.5 2109.0 1259.3 2110.0 1273.7 2111.0 1266.3 2112.0 1271.4 2113.0 1269.4 2114.0 1270.1 2115.0 1265.3 2116.0 1271.4 2117.0 1268.5 2118.0 1270.4 2119.0 1266.4 2120.0 1268.8 2121.0 1267.1 2122.0 1269.8 2123.0 1270.8 2124.0 1268.5 2125.0 1270.2 2126.0 1270.4 2127.0 1269.0 2128.0 1268.4 2129.0 1264.2 2130.0 1271.9 2131.0 1269.7 2132.0 1268.6 2133.0 1269.8 2134.0 1268.0 2135.0 1268.5 2136.0 1270.7 2137.0 1265.5 2138.0 1268.6 2139.0 1270.1 2140.0 1265.4 2141.0 1266.7 2142.0 1272.8 2143.0 1275.2 2144.0 1270.4 2145.0 1271.4 2146.0 1267.4 2147.0 1273.2 2148.0 1269.6 2149.0 1270.0 2150.0 1270.8 2151.0 1268.3 2152.0 1268.0 2153.0 1269.8 2154.0 1267.1 2155.0 1268.4 2156.0 1263.2 2157.0 1267.3 2158.0 1271.1 2159.0 1272.8 2160.0 1271.5 2161.0 1267.8 2162.0 1270.1 2163.0 1267.5 2164.0 1267.2 2165.0 1272.5 2166.0 1269.0 2167.0 1269.1 2168.0 1270.5 2169.0 1272.4 2170.0 1270.4 2171.0 1269.4 2172.0 1270.9 2173.0 1269.9" stroke="#00B050"/>
<path d="M539.0 89.0L539.0 88.0 539.0 87.0 539.0 85.9 539.0 84.8 539.0 83.8 539.0 82.7 539.0 81.6 539.0 80.5 539.0 79.5 539.0 78.4 539.0 77.3 539.0 76.3 539.0 75.3 539.0 74.3 539.0 73.4 539.0 72.5 539.0 71.6 539.0 70.8 539.0 70.0 539.0 68.8 538.9 67.7 538.9 66.6 538.8 65.7 538.8 64.7 538.9 63.9 539.0 63.0 539.3 62.1 539.6 61.2 540.0 60.4 540.4 59.7 541.0 59.0 541.7 58.4 542.4 57.8 543.3 57.3 544.2 56.9 545.1 56.4 546.0 56.0 546.8 55.6 547.7 55.2 548.5 54.9 549.4 54.6 550.2 54.3 551.0 54.0 551.9 53.7 552.8 53.3 553.6 53.0 554.4 52.8 555.0 53.0 555.3 53.5 555.5 54.2 555.5 55.1 555.5 56.2 555.4 57.4 555.3 58.6 555.1 59.8 555.0 61.0 555.0 62.0 555.0 63.1 555.0 64.4 554.9 65.7 554.9 67.0 554.9 68.2 554.9 69.1 554.9 69.8 555.0 70.0 555.1 69.8 555.3 69.3 555.5 68.6 555.8 67.7 556.0 66.6 556.3 65.4 556.5 64.2 556.8 63.1 557.0 62.0 557.2 61.2 557.3 60.3 557.5 59.4 557.6 58.5 557.8 57.6 557.9 56.7 558.1 55.7 558.2 54.8 558.3 53.8 558.5 52.9 558.7 51.9 558.8 51.0 559.0 50.0 559.2 49.1 559.3 48.0 559.4 47.0 559.6 45.9 559.7 44.7 559.9 43.6 560.0 42.5 560.2 41.4 560.3 40.3 560.5 39.3 560.7 38.4 561.0 37.6 561.3 37.0 561.6 36.4 562.0 36.0 562.9 35.6 563.9 35.6 564.9 35.7 566.0 36.0 566.8 36.3 567.6 36.7 568.4 37.2 569.3 37.7 570.2 38.2 571.1 38.6 572.0 38.9 572.8 39.0 573.7 39.0 574.5 39.6 575.4 40.3 576.3 39.5 577.2 40.2 578.1 41.7 579.1 38.7 580.0 40.3 581.0 39.6 581.9 38.6 582.9 38.5 583.9 40.0 584.9 40.7 586.0 38.9 587.0 40.0 588.0 41.4 589.0 40.6 590.0 42.0 590.9 41.2 591.8 41.4 592.7 45.1 593.5 42.2 594.4 41.0 595.3 42.8 596.2 38.3 597.1 40.2 598.0 43.7 599.0 43.5 600.0 46.5 600.8 42.3 601.6 38.3 602.4 48.5 603.2 46.3 604.1 40.4 604.9 47.8 605.8 44.3 606.7 39.3 607.6 43.8 608.5 43.9 609.4 50.4 610.4 44.0 611.3 45.9 612.2 46.3 613.1 46.4 614.1 45.3 615.0 49.0 615.9 51.9 616.8 51.0 617.7 46.9 618.6 46.7 619.6 50.6 620.6 48.4 621.6 48.9 622.6 46.1 623.5 56.8 624.5 54.1 625.5 48.8 626.5 54.5 627.5 56.0 628.5 45.4 629.5 51.0 630.4 51.7 631.4 54.9 632.4 52.9 633.4 52.9 634.4 53.6 635.4 59.4 636.3 60.5 637.3 53.0 638.3 52.1 639.3 62.8 640.3 52.4 641.2 53.8 642.2 55.8 643.2 57.4 644.2 59.2 645.1 57.6 646.1 54.2 647.1 58.4 648.1 57.9 649.1 62.9 650.0 57.7 651.0 54.1 652.0 55.2 652.9 62.7 653.9 57.1 654.9 52.9 655.9 57.5 656.8 59.5 657.8 63.2 658.8 57.0 659.7 62.1 660.7 62.8 661.7 58.7 662.7 60.4 663.6 66.4 664.6 66.5 665.6 64.2 666.5 63.0 667.5 65.6 668.5 62.1 669.4 62.5 670.4 60.5 671.4 63.3 672.3 63.3 673.3 71.9 674.3 63.5 675.2 68.0 676.2 68.4 677.1 64.3 678.1 68.5 679.1 59.1 680.0 65.9 681.0 68.4 682.0 59.2 682.9 63.1 683.9 69.8 684.8 66.2 685.8 64.1 686.8 66.4 687.7 66.2 688.7 70.1 689.6 69.6 690.6 67.8 691.6 66.9 692.5 68.9 693.5 73.2 694.4 70.7 695.4 71.8 696.3 69.7 697.3 66.7 698.3 68.7 699.2 72.9 700.2 71.6 701.1 68.9 702.1 67.1 703.0 72.4 704.0 71.4 704.9 71.6 705.9 71.9 706.8 74.0 707.8 74.3 708.8 76.5 709.7 76.7 710.7 78.1 711.6 76.9 712.6 73.9 713.5 74.9 714.5 76.8 715.4 74.8 716.4 77.5 717.3 79.6 718.3 74.2 719.2 71.6 720.2 80.5 721.1 77.4 722.1 79.7 723.0 74.0 724.0 83.2 724.9 80.6 725.9 78.4 726.8 78.0 727.8 79.6 728.7 79.1 729.7 79.1 730.6 76.9 731.6 84.1 732.5 80.6 733.5 81.2 734.4 81.5 735.4 74.7 736.3 83.4 737.3 81.2 738.2 81.6 739.2 82.9 740.1 80.2 741.0 85.7 742.0 81.5 742.9 81.2 743.9 81.6 744.8 84.9 745.8 86.9 746.7 83.3 747.7 80.9 748.6 88.6 749.6 82.8 750.5 89.6 751.5 86.3 752.4 84.7 753.3 85.1 754.3 88.6 755.2 90.2 756.2 87.3 757.1 90.9 758.1 94.5 759.0 88.1 760.0 85.7 760.9 86.3 761.8 85.6 762.8 88.1 763.7 88.1 764.7 86.6 765.6 92.3 766.6 83.5 767.5 87.5 768.5 97.5 769.4 95.0 770.3 93.8 771.3 93.9 772.2 98.0 773.2 94.7 774.1 93.6 775.1 90.1 776.0 93.8 777.0 92.2 777.9 92.6 778.8 92.8 779.8 95.1 780.7 94.5 781.7 98.3 782.6 92.2 783.6 95.9 784.5 102.1 785.5 97.1 786.4 100.7 787.3 100.9 788.3 101.7 789.2 100.3 790.2 94.4 791.1 98.0 792.1 97.9 793.0 94.8 794.0 98.3 794.9 96.3 795.8 95.4 796.8 101.1 797.7 100.7 798.7 99.1 799.6 98.7 800.6 100.2 801.5 100.9 802.5 101.1 803.4 102.5 804.4 101.7 805.3 104.3 806.2 105.0 807.2 104.9 808.1 102.2 809.1 102.6 810.0 106.0 811.0 104.4 811.9 105.2 812.9 98.4 813.8 98.1 814.8 107.2 815.7 107.5 816.7 110.9 817.6 109.2 818.5 108.1 819.5 107.8 820.4 103.9 821.4 110.9 822.3 106.9 823.3 110.4 824.2 109.8 825.2 110.3 826.1 112.4 827.1 108.7 828.0 109.3 829.0 108.3 829.9 109.9 830.9 116.2 831.8 110.6 832.8 115.4 833.7 114.6 834.7 114.7 835.6 115.2 836.6 110.2 837.5 114.5 838.5 118.4 839.4 112.0 840.4 114.2 841.3 112.7 842.3 115.9 843.2 112.1 844.2 120.2 845.1 114.8 846.1 111.7 847.0 121.7 848.0 119.6 848.9 118.6 849.9 118.9 850.9 116.6 851.8 117.3 852.8 120.4 853.7 121.3 854.7 121.6 855.6 119.8 856.6 118.1 857.5 119.2 858.5 123.3 859.5 124.6 860.4 119.7 861.4 119.6 862.3 124.9 863.3 123.7 864.2 123.9 865.2 118.4 866.2 121.4 867.1 121.3 868.1 123.7 869.0 118.5 870.0 127.4 870.9 124.9 871.9 125.6 872.9 121.2 873.8 124.9 874.8 129.1 875.8 121.0 876.7 126.7 877.7 128.2 878.6 124.4 879.6 129.1 880.6 126.1 881.5 130.9 882.5 129.2 883.5 128.6 884.4 134.1 885.4 131.0 886.4 132.7 887.3 125.7 888.3 127.6 889.3 132.2 890.2 132.7 891.2 130.2 892.2 132.9 893.1 127.9 894.1 131.9 895.1 128.2 896.0 132.9 897.0 130.8 898.0 130.6 898.9 132.9 899.9 138.4 900.9 130.5 901.8 131.9 902.8 137.1 903.8 133.1 904.7 139.7 905.7 135.6 906.7 135.5 907.7 136.5 908.6 140.9 909.6 138.0 910.6 137.9 911.5 137.5 912.5 132.5 913.5 134.8 914.4 142.0 915.4 140.3 916.4 139.7 917.4 140.4 918.3 137.3 919.3 140.2 920.3 136.9 921.2 140.9 922.2 138.1 923.2 139.8 924.1 142.1 925.1 140.1 926.1 143.2 927.1 143.0 928.0 143.0 929.0 146.2 930.0 138.4 930.9 138.3 931.9 145.0 932.9 146.3 933.8 149.7 934.8 146.4 935.8 146.9 936.7 142.3 937.7 147.4 938.7 147.4 939.6 142.8 940.6 143.5 941.6 146.1 942.5 147.6 943.5 138.6 944.5 147.6 945.4 148.4 946.4 147.6 947.3 149.2 948.3 150.1 949.3 146.1 950.2 150.6 951.2 149.0 952.2 147.3 953.1 151.0 954.1 155.1 955.0 146.9 956.0 146.6 956.9 147.0 957.9 157.8 958.9 151.7 959.8 152.6 960.8 150.9 961.7 150.7 962.7 147.9 963.6 154.7 964.6 155.3 965.5 149.1 966.5 152.2 967.4 153.4 968.4 155.8 969.3 157.0 970.3 159.9 971.2 160.9 972.2 160.4 973.1 161.6 974.1 154.7 975.0 156.8 976.0 162.1 976.9 160.0 977.9 159.6 978.8 154.1 979.7 154.9 980.7 162.7 981.6 162.0 982.6 160.5 983.5 160.5 984.4 157.1 985.4 163.6 986.3 165.9 987.2 168.0 988.2 163.8 989.1 163.4 990.0 161.2 991.0 168.3 991.9 170.1 992.8 163.8 993.7 166.8 994.7 166.6 995.6 165.1 996.5 159.9 997.4 166.5 998.4 169.7 999.3 164.2 1000.2 166.3 1001.1 159.6 1002.0 173.3 1003.0 171.4 1003.9 170.5 1004.8 170.0 1005.7 169.4 1006.6 171.4 1007.5 171.2 1008.4 171.8 1009.3 172.8 1010.2 173.7 1011.1 178.2 1012.0 170.0 1013.0 175.4 1013.9 173.2 1014.8 172.2 1015.7 169.0 1016.5 178.1 1017.4 173.9 1018.3 175.0 1019.2 179.0 1020.1 174.9 1021.0 178.6 1021.9 178.8 1022.8 181.8 1023.7 182.8 1024.6 177.8 1025.4 183.5 1026.3 181.0 1027.2 182.1 1028.1 181.6 1029.0 184.9 1029.8 179.6 1030.7 184.4 1031.6 187.5 1032.5 183.7 1033.3 190.9 1034.2 183.4 1035.1 186.6 1035.9 185.1 1036.8 185.2 1037.6 184.2 1038.5 186.4 1039.4 188.3 1040.2 186.6 1041.1 192.0 1041.9 194.4 1042.8 186.0 1043.6 193.4 1044.5 192.0 1045.3 192.7 1046.1 199.7 1047.0 196.5 1047.8 194.5 1048.6 194.6 1049.5 188.4 1050.3 197.4 1051.1 193.5 1052.0 196.8 1052.8 197.1 1053.6 200.1 1054.4 203.8 1055.2 201.3 1056.0 202.7 1056.9 198.8 1057.7 201.4 1058.5 202.9 1059.3 197.0 1060.1 207.7 1060.9 200.2 1061.7 199.2 1062.5 208.2 1063.2 210.2 1064.0 202.6 1064.8 203.4 1065.6 214.8 1066.4 206.7 1067.1 201.2 1067.9 205.8 1068.7 213.9 1069.5 210.6 1070.2 211.5 1071.0 213.5 1071.7 212.5 1072.5 210.2 1073.2 207.2 1074.0 213.7 1074.7 209.8 1075.5 213.5 1076.2 219.4 1077.0 216.5 1077.7 215.7 1078.4 216.4 1079.2 218.9 1079.9 220.1 1080.6 214.3 1081.3 219.3 1082.1 224.4 1082.8 222.2 1083.5 218.5 1084.2 219.4 1084.9 216.0 1085.6 220.4 1086.3 228.0 1087.0 223.8 1087.7 222.2 1088.4 223.7 1089.1 225.7 1089.8 226.4 1090.5 226.4 1091.2 225.9 1091.8 230.6 1092.5 233.9 1093.2 228.5 1093.9 229.3 1094.6 235.0 1095.2 228.0 1095.9 231.2 1096.6 232.6 1097.2 234.9 1097.9 234.3 1098.5 233.2 1099.2 237.4 1099.9 233.8 1100.5 232.9 1101.2 232.8 1101.8 241.6 1102.5 235.1 1103.1 242.1 1103.7 243.5 1104.4 244.7 1105.0 242.5 1105.6 242.2 1106.3 244.8 1106.9 243.6 1107.5 242.3 1108.2 250.4 1108.8 244.9 1109.4 253.5 1110.0 250.5 1110.6 248.5 1111.3 251.8 1111.9 254.9 1112.5 248.1 1113.1 250.1 1113.7 250.6 1114.3 254.8 1114.9 256.3 1115.5 256.0 1116.1 254.6 1116.7 255.9 1117.3 261.7 1117.9 262.3 1118.5 260.2 1119.1 256.8 1119.7 263.2 1120.3 263.0 1120.9 263.7 1121.4 268.8 1122.0 266.9 1122.6 262.5 1123.2 263.3 1123.8 270.9 1124.3 268.3 1124.9 271.1 1125.5 269.0 1126.0 267.4 1126.6 271.9 1127.2 276.5 1127.7 273.7 1128.3 270.3 1128.9 273.5 1129.4 273.8 1130.0 276.6 1130.6 279.8 1131.1 283.4 1131.7 279.2 1132.2 278.2 1132.8 280.5 1133.3 281.1 1133.9 280.7 1134.4 282.8 1135.0 283.5 1135.5 281.0 1136.1 286.8 1136.6 285.0 1137.1 284.0 1137.7 289.2 1138.2 287.2 1138.7 294.5 1139.3 291.6 1139.8 291.3 1140.4 289.7 1140.9 291.6 1141.4 296.1 1141.9 292.5 1142.5 297.5 1143.0 290.1 1143.5 297.6 1144.1 300.2 1144.6 299.7 1145.1 299.5 1145.6 303.3 1146.1 298.8 1146.7 299.3 1147.2 303.3 1147.7 307.3 1148.2 306.0 1148.7 305.0 1149.2 307.3 1149.8 308.6 1150.3 304.6 1150.8 300.9 1151.3 306.9 1151.8 306.4 1152.3 310.0 1152.8 309.0 1153.3 310.9 1153.8 315.5 1154.3 315.4 1154.8 315.9 1155.3 321.7 1155.9 316.4 1156.4 317.6 1156.9 323.2 1157.4 317.2 1157.9 316.6 1158.4 326.0 1158.9 324.1 1159.4 325.7 1159.9 326.7 1160.3 328.4 1160.8 325.3 1161.3 327.3 1161.8 325.2 1162.3 329.7 1162.8 330.9 1163.3 329.8 1163.8 333.9 1164.3 341.4 1164.8 330.4 1165.3 337.1 1165.8 338.3 1166.3 339.5 1166.8 335.0 1167.2 341.7 1167.7 341.0 1168.2 339.7 1168.7 340.0 1169.2 342.6 1169.7 345.5 1170.2 346.2 1170.7 351.2 1171.1 344.4 1171.6 348.2 1172.1 346.0 1172.6 350.4 1173.1 349.4 1173.6 348.2 1174.1 347.0 1174.5 349.5 1175.0 353.3 1175.5 357.8 1176.0 356.7 1176.5 351.8 1177.0 354.8 1177.5 357.2 1177.9 357.6 1178.4 359.0 1178.9 361.9 1179.4 361.2 1179.9 359.4 1180.4 356.7 1180.8 362.2 1181.3 359.1 1181.8 364.4 1182.3 366.7 1182.8 362.7 1183.3 367.1 1183.7 367.4 1184.2 374.7 1184.7 371.4 1185.2 365.5 1185.7 373.1 1186.2 373.9 1186.7 373.0 1187.1 373.4 1187.6 377.1 1188.1 378.1 1188.6 378.4 1189.1 375.1 1189.6 378.1 1190.1 375.2 1190.5 376.3 1191.0 379.9 1191.5 379.3 1192.0 382.1 1192.5 391.3 1193.0 386.4 1193.5 383.3 1194.0 380.5 1194.5 385.2 1194.9 384.4 1195.4 383.0 1195.9 392.4 1196.4 389.8 1196.9 393.3 1197.4 401.9 1197.9 394.6 1198.4 395.0 1198.9 396.6 1199.4 395.7 1199.9 394.9 1200.4 397.6 1200.8 402.4 1201.3 399.2 1201.8 396.9 1202.3 398.2 1202.8 399.7 1203.3 403.6 1203.8 405.8 1204.3 406.7 1204.8 409.7 1205.3 406.5 1205.8 410.4 1206.3 409.9 1206.8 411.9 1207.3 405.4 1207.8 415.2 1208.3 408.0 1208.8 410.1 1209.3 416.5 1209.8 414.0 1210.4 421.2 1210.9 417.4 1211.4 414.8 1211.9 419.2 1212.4 418.4 1212.9 425.0 1213.4 426.1 1213.9 424.3 1214.4 421.9 1214.9 424.2 1215.4 427.9 1216.0 423.4 1216.5 424.2 1217.0 429.9 1217.5 430.4 1218.0 428.5 1218.5 429.2 1219.1 425.2 1219.6 435.1 1220.1 432.2 1220.6 429.3 1221.2 431.0 1221.7 432.6 1222.2 440.9 1222.7 438.9 1223.3 433.8 1223.8 443.9 1224.3 443.3 1224.8 437.2 1225.4 433.4 1225.9 444.8 1226.4 441.1 1227.0 443.3 1227.5 443.0 1228.0 449.0 1228.6 450.5 1229.1 449.4 1229.7 447.4 1230.2 449.5 1230.7 451.4 1231.3 445.8 1231.8 454.8 1232.4 451.1 1232.9 453.7 1233.5 454.1 1234.0 457.2 1234.6 458.5 1235.1 462.6 1235.7 456.0 1236.2 455.3 1236.8 459.1 1237.3 457.7 1237.9 462.9 1238.4 458.9 1239.0 462.4 1239.6 465.6 1240.1 466.6 1240.7 465.1 1241.2 469.4 1241.8 469.9 1242.4 462.0 1242.9 468.8 1243.5 469.1 1244.1 468.5 1244.7 468.4 1245.2 471.1 1245.8 472.9 1246.4 473.4 1247.0 477.4 1247.5 477.1 1248.1 473.3 1248.7 473.6 1249.3 479.1 1249.9 475.4 1250.5 478.7 1251.0 480.4 1251.6 482.8 1252.2 482.1 1252.8 485.6 1253.4 480.8 1254.0 484.9 1254.6 481.8 1255.2 485.1 1255.8 485.7 1256.4 483.4 1257.0 479.3 1257.6 490.4 1258.2 489.5 1258.8 489.6 1259.5 487.9 1260.1 489.8 1260.7 492.8 1261.3 492.3 1261.9 496.4 1262.5 494.1 1263.2 492.2 1263.8 497.1 1264.4 494.2 1265.0 497.4 1265.7 492.3 1266.3 497.3 1266.9 500.7 1267.5 497.9 1268.2 500.5 1268.8 503.0 1269.5 502.2 1270.1 507.9 1270.7 502.7 1271.4 503.7 1272.0 504.5 1272.7 500.0 1273.3 502.0 1274.0 508.7 1274.6 506.9 1275.3 512.6 1276.0 509.1 1276.6 509.6 1277.3 513.8 1277.9 512.3 1278.6 516.9 1279.3 509.9 1279.9 514.9 1280.6 516.3 1281.3 516.7 1282.0 519.1 1282.6 519.5 1283.3 517.3 1284.0 516.3 1284.7 521.5 1285.4 519.5 1286.1 522.8 1286.7 524.7 1287.4 522.0 1288.1 519.5 1288.8 522.1 1289.5 525.8 1290.2 523.6 1290.9 528.3 1291.6 525.7 1292.3 526.7 1293.1 525.2 1293.8 527.4 1294.5 531.5 1295.2 528.0 1295.9 528.7 1296.6 528.1 1297.4 533.3 1298.1 527.2 1298.8 530.4 1299.5 535.6 1300.3 537.7 1301.0 533.6 1301.8 537.7 1302.5 529.8 1303.2 538.3 1304.0 537.6 1304.7 533.9 1305.5 532.9 1306.2 537.2 1307.0 540.1 1307.7 541.0 1308.5 540.9 1309.2 543.4 1310.0 543.9 1310.8 538.4 1311.5 542.0 1312.3 542.2 1313.1 547.3 1313.8 543.5 1314.6 548.4 1315.4 546.4 1316.2 553.5 1317.0 547.2 1317.7 548.0 1318.5 548.2 1319.3 549.6 1320.1 556.8 1320.9 548.9 1321.7 548.4 1322.5 550.9 1323.3 554.0 1324.1 549.8 1324.9 555.6 1325.7 556.1 1326.5 553.9 1327.3 554.3 1328.1 553.3 1328.9 555.3 1329.7 554.4 1330.5 560.9 1331.3 562.6 1332.2 557.6 1333.0 558.9 1333.8 554.0 1334.6 558.6 1335.4 561.6 1336.3 562.0 1337.1 562.1 1337.9 564.8 1338.8 563.1 1339.6 562.3 1340.4 568.6 1341.3 558.9 1342.1 561.7 1342.9 563.4 1343.8 564.0 1344.6 564.4 1345.5 566.5 1346.3 565.6 1347.2 568.1 1348.0 570.5 1348.9 569.4 1349.7 570.2 1350.6 567.6 1351.4 567.6 1352.3 570.5 1353.2 574.6 1354.0 573.5 1354.9 576.0 1355.7 576.3 1356.6 577.2 1357.5 572.1 1358.3 578.5 1359.2 577.6 1360.1 581.9 1361.0 578.2 1361.8 577.9 1362.7 577.1 1363.6 578.4 1364.5 573.7 1365.3 578.2 1366.2 579.3 1367.1 582.8 1368.0 578.5 1368.9 581.3 1369.8 586.7 1370.6 580.4 1371.5 584.8 1372.4 581.3 1373.3 583.0 1374.2 585.1 1375.1 586.8 1376.0 583.3 1376.9 582.3 1377.8 590.1 1378.7 586.7 1379.6 588.9 1380.5 589.7 1381.4 589.7 1382.3 587.3 1383.2 588.1 1384.1 584.5 1385.0 589.9 1385.9 588.5 1386.8 590.2 1387.7 596.1 1388.6 593.2 1389.6 591.8 1390.5 588.2 1391.4 594.6 1392.3 597.4 1393.2 591.1 1394.1 595.1 1395.0 592.8 1396.0 594.3 1396.9 594.2 1397.8 591.0 1398.7 594.6 1399.6 591.9 1400.6 600.9 1401.5 600.3 1402.4 597.9 1403.3 599.0 1404.3 598.8 1405.2 599.6 1406.1 600.0 1407.1 599.2 1408.0 599.9 1408.9 596.9 1409.9 598.3 1410.8 599.8 1411.7 602.6 1412.7 601.3 1413.6 608.2 1414.5 602.7 1415.5 602.6 1416.4 605.3 1417.3 607.4 1418.3 610.1 1419.2 608.0 1420.1 604.0 1421.1 605.6 1422.0 609.4 1423.0 607.6 1423.9 609.5 1424.9 607.4 1425.8 612.6 1426.7 612.5 1427.7 612.0 1428.6 609.7 1429.6 605.0 1430.5 606.2 1431.5 611.3 1432.4 612.6 1433.4 602.9 1434.3 610.2 1435.3 615.2 1436.2 615.0 1437.2 611.3 1438.1 614.9 1439.1 613.5 1440.0 613.2 1441.0 617.3 1441.9 617.8 1442.9 613.4 1443.8 612.6 1444.8 611.9 1445.7 612.0 1446.7 620.2 1447.6 622.1 1448.6 617.7 1449.5 620.5 1450.5 615.9 1451.4 618.0 1452.4 621.2 1453.3 619.8 1454.3 619.2 1455.3 614.9 1456.2 615.9 1457.2 619.2 1458.1 619.1 1459.1 620.8 1460.0 619.6 1461.0 621.1 1461.9 622.3 1462.9 623.9 1463.9 623.0 1464.8 621.6 1465.8 622.7 1466.7 626.3 1467.7 623.5 1468.6 621.7 1469.6 622.0 1470.6 625.9 1471.5 627.1 1472.5 629.3 1473.4 625.2 1474.4 630.4 1475.3 625.8 1476.3 626.5 1477.3 625.8 1478.2 629.3 1479.2 631.1 1480.1 628.4 1481.1 627.3 1482.0 624.7 1483.0 629.8 1483.9 628.7 1484.9 629.5 1485.9 628.6 1486.8 628.2 1487.8 629.8 1488.7 632.6 1489.7 634.3 1490.6 631.9 1491.6 633.2 1492.5 632.0 1493.5 632.5 1494.5 629.3 1495.4 636.0 1496.4 635.5 1497.3 638.2 1498.3 632.7 1499.2 635.1 1500.2 632.4 1501.1 636.0 1502.1 635.3 1503.0 637.8 1504.0 635.8 1504.9 638.3 1505.9 635.4 1506.8 638.8 1507.8 636.6 1508.8 636.5 1509.7 638.3 1510.7 639.3 1511.6 634.6 1512.6 634.6 1513.5 639.7 1514.5 639.3 1515.4 634.0 1516.4 635.2 1517.3 638.2 1518.3 641.5 1519.2 641.5 1520.2 644.0 1521.1 644.7 1522.1 648.4 1523.0 638.0 1524.0 642.2 1525.0 645.5 1525.9 639.3 1526.9 639.1 1527.8 643.9 1528.8 646.7 1529.7 647.4 1530.7 639.2 1531.6 641.0 1532.6 644.4 1533.5 643.5 1534.5 646.1 1535.4 645.9 1536.4 650.7 1537.4 645.8 1538.3 646.8 1539.3 646.7 1540.2 649.9 1541.2 643.9 1542.1 648.3 1543.1 645.3 1544.0 643.8 1545.0 651.3 1546.0 649.7 1546.9 652.4 1547.9 649.5 1548.8 650.8 1549.8 649.6 1550.7 651.1 1551.7 648.5 1552.7 654.8 1553.6 647.7 1554.6 655.2 1555.5 650.1 1556.5 653.3 1557.4 651.5 1558.4 652.6 1559.4 655.7 1560.3 652.2 1561.3 649.3 1562.2 652.9 1563.2 654.3 1564.2 645.7 1565.1 655.6 1566.1 656.1 1567.1 648.2 1568.0 653.0 1569.0 656.0 1569.9 650.6 1570.9 652.9 1571.9 653.3 1572.8 656.1 1573.8 657.8 1574.8 654.8 1575.7 655.2 1576.7 657.9 1577.7 657.0 1578.6 655.3 1579.6 659.6 1580.6 652.0 1581.5 656.6 1582.5 655.2 1583.5 655.1 1584.4 657.3 1585.4 657.0 1586.4 664.1 1587.3 659.1 1588.3 658.4 1589.3 662.3 1590.3 660.6 1591.2 652.6 1592.2 658.4 1593.2 660.3 1594.2 656.6 1595.1 659.4 1596.1 657.4 1597.1 659.9 1598.1 654.3 1599.0 653.5 1600.0 657.7 1601.0 660.0 1602.0 663.3 1602.9 658.9 1603.9 657.7 1604.9 662.6 1605.9 660.2 1606.9 665.4 1607.8 660.1 1608.8 654.9 1609.8 658.3 1610.8 658.0 1611.8 656.9 1612.8 658.7 1613.7 659.1 1614.7 660.4 1615.7 659.7 1616.7 662.6 1617.7 662.7 1618.7 662.2 1619.7 662.3 1620.6 656.5 1621.6 657.2 1622.6 659.6 1623.6 662.9 1624.6 658.1 1625.6 661.2 1626.6 663.2 1627.6 668.3 1628.6 663.4 1629.5 661.3 1630.5 666.0 1631.5 663.6 1632.5 662.2 1633.5 666.4 1634.5 660.6 1635.5 663.9 1636.5 663.6 1637.5 666.1 1638.5 660.3 1639.5 659.9 1640.5 662.6 1641.4 663.0 1642.4 664.0 1643.4 662.9 1644.4 665.3 1645.4 666.1 1646.4 664.8 1647.4 661.2 1648.4 667.7 1649.4 660.0 1650.4 663.9 1651.4 667.1 1652.4 662.9 1653.4 668.4 1654.4 670.3 1655.4 669.4 1656.4 666.2 1657.4 667.8 1658.4 663.6 1659.4 666.3 1660.4 666.5 1661.4 665.5 1662.4 665.8 1663.4 664.8 1664.4 659.8 1665.4 666.7 1666.4 666.5 1667.4 671.5 1668.4 667.7 1669.4 665.9 1670.4 668.3 1671.4 667.7 1672.4 665.9 1673.4 664.9 1674.4 661.8 1675.4 666.5 1676.4 670.8 1677.4 660.8 1678.4 663.5 1679.4 668.5 1680.4 666.9 1681.4 667.7 1682.4 661.1 1683.4 664.8 1684.4 668.1 1685.4 668.4 1686.4 667.6 1687.4 664.2 1688.4 668.4 1689.4 663.4 1690.4 664.2 1691.4 663.6 1692.4 671.2 1693.4 665.9 1694.4 667.3 1695.4 660.8 1696.4 670.4 1697.4 668.6 1698.4 662.6 1699.4 662.8 1700.4 672.2 1701.4 664.8 1702.4 672.9 1703.4 666.2 1704.4 660.5 1705.4 670.9 1706.4 669.2 1707.4 669.8 1708.4 666.4 1709.5 667.3 1710.5 670.7 1711.5 665.6 1712.5 662.4 1713.5 670.7 1714.5 666.4 1715.5 671.9 1716.5 666.9 1717.5 667.1 1718.5 667.6 1719.5 661.6 1720.5 671.9 1721.5 666.7 1722.5 668.0 1723.5 672.9 1724.5 669.0 1725.5 671.3 1726.5 669.8 1727.5 671.1 1728.5 669.7 1729.5 672.3 1730.5 668.4 1731.5 670.4 1732.5 667.1 1733.5 672.6 1734.5 662.9 1735.5 669.8 1736.5 670.4 1737.5 670.4 1738.5 669.4 1739.5 673.4 1740.5 675.7 1741.5 667.9 1742.5 664.1 1743.5 666.6 1744.5 667.4 1745.5 669.4 1746.5 669.7 1747.5 673.1 1748.5 668.7 1749.5 669.9 1750.5 670.4 1751.5 667.6 1752.5 669.3 1753.5 678.2 1754.5 670.0 1755.5 667.6 1756.5 664.1 1757.5 673.5 1758.5 669.6 1759.5 668.7 1760.5 677.7 1761.5 674.8 1762.5 665.8 1763.5 669.8 1764.5 673.7 1765.5 673.3 1766.5 667.7 1767.5 676.2 1768.5 676.4 1769.5 667.9 1770.5 666.0 1771.5 667.2 1772.5 673.2 1773.5 674.4 1774.5 671.9 1775.5 669.7 1776.5 671.2 1777.5 673.2 1778.5 668.1 1779.5 666.7 1780.5 671.4 1781.5 675.3 1782.5 672.4 1783.5 672.4 1784.5 669.9 1785.5 674.6 1786.5 667.1 1787.5 671.9 1788.5 670.4 1789.5 671.7 1790.5 669.5 1791.5 674.4 1792.5 672.1 1793.5 670.6 1794.5 673.9 1795.5 672.3 1796.5 671.0 1797.5 670.9 1798.5 674.9 1799.5 670.0 1800.5 672.1 1801.5 672.0 1802.5 673.8 1803.5 672.3 1804.5 679.2 1805.5 668.0 1806.5 674.8 1807.5 673.0 1808.5 676.4 1809.5 668.5 1810.5 676.8 1811.5 669.3 1812.5 675.4 1813.5 674.9 1814.5 673.6 1815.5 671.4 1816.5 671.2 1817.5 674.0 1818.5 671.5 1819.5 668.1 1820.5 668.6 1821.5 676.2 1822.5 676.3 1823.5 675.5 1824.5 674.2 1825.5 675.2 1826.5 675.6 1827.5 675.0 1828.5 672.0 1829.5 672.2 1830.5 671.1 1831.5 674.9 1832.5 671.7 1833.5 674.1 1834.5 678.5 1835.5 673.6 1836.5 677.6 1837.5 679.3 1838.5 669.6 1839.5 670.8 1840.5 676.4 1841.5 673.0 1842.5 676.7 1843.5 677.2 1844.5 673.7 1845.5 677.7 1846.5 680.4 1847.5 678.2 1848.5 672.9 1849.5 675.1 1850.5 674.0 1851.5 680.2 1852.5 675.2 1853.5 673.8 1854.5 676.0 1855.5 677.4 1856.5 674.9 1857.5 676.3 1858.5 676.1 1859.5 678.3 1860.5 679.0 1861.5 677.0 1862.5 675.0 1863.5 677.5 1864.5 673.8 1865.5 679.6 1866.5 677.6 1867.5 677.3 1868.5 669.6 1869.5 683.6 1870.5 681.0 1871.5 680.5 1872.5 677.3 1873.5 678.9 1874.5 685.3 1875.5 675.1 1876.5 679.3 1877.5 679.0 1878.5 677.7 1879.5 678.4 1880.5 674.6 1881.5 679.4 1882.5 673.7 1883.5 682.9 1884.5 680.0 1885.5 675.3 1886.5 671.7 1887.5 678.2 1888.5 679.4 1889.5 675.1 1890.5 682.9 1891.5 678.9 1892.5 676.8 1893.5 674.2 1894.5 678.0 1895.5 677.8 1896.5 680.3 1897.5 681.5 1898.5 678.6 1899.5 679.9 1900.5 682.8 1901.5 680.5 1902.5 678.0 1903.5 680.6 1904.5 677.4 1905.5 680.3 1906.5 679.1 1907.5 675.9 1908.5 680.9 1909.5 679.4 1910.5 681.3 1911.5 675.4 1912.5 682.5 1913.5 682.7 1914.5 678.4 1915.5 679.2 1916.5 679.7 1917.5 679.5 1918.5 682.1 1919.5 677.6 1920.5 676.4 1921.5 679.1 1922.5 685.4 1923.5 678.8 1924.5 677.1 1925.5 677.3 1926.5 680.5 1927.5 683.5 1928.5 678.0 1929.5 680.7 1930.5 680.9 1931.5 681.7 1932.5 680.8 1933.4 683.5 1934.4 682.5 1935.4 678.8 1936.4 687.6 1937.4 676.7 1938.4 676.9 1939.4 683.8 1940.4 681.4 1941.4 680.1 1942.4 681.5 1943.4 683.0 1944.4 679.8 1945.4 679.2 1946.4 678.1 1947.4 678.7 1948.4 678.9 1949.4 684.6 1950.4 682.2 1951.4 683.0 1952.4 679.8 1953.4 684.6 1954.4 677.1 1955.4 683.0 1956.4 683.7 1957.4 680.1 1958.4 678.8 1959.4 683.4 1960.4 679.9 1961.4 679.4 1962.4 682.0 1963.4 678.8 1964.4 681.7 1965.4 688.1 1966.4 681.0 1967.4 684.9 1968.4 679.3 1969.4 682.7 1970.4 681.7 1971.4 682.0 1972.4 684.8 1973.4 688.9 1974.4 682.3 1975.4 686.5 1976.4 683.8 1977.4 685.0 1978.4 681.6 1979.4 680.9 1980.4 682.5 1981.4 680.9 1982.4 683.1 1983.4 680.1 1984.4 683.3 1985.4 683.8 1986.4 688.6 1987.4 688.4 1988.4 685.0 1989.4 682.1 1990.4 685.4 1991.4 686.0 1992.4 683.2 1993.4 681.3 1994.3 678.6 1995.3 683.8 1996.3 689.5 1997.3 683.4 1998.3 685.2 1999.3 685.2 2000.3 685.6 2001.3 686.5 2002.3 678.5 2003.3 683.9 2004.3 685.5 2005.3 684.2 2006.3 688.1 2007.3 683.5 2008.3 687.3 2009.3 689.8 2010.3 684.0 2011.3 684.9 2012.3 684.0 2013.3 687.2 2014.3 678.8 2015.3 680.8 2016.3 684.3 2017.3 687.7 2018.3 687.0 2019.3 682.9 2020.3 690.0 2021.3 685.8 2022.3 683.7 2023.3 687.1 2024.3 689.4 2025.3 685.5 2026.3 681.3 2027.3 684.2 2028.3 686.1 2029.3 688.6 2030.3 683.1 2031.3 686.8 2032.3 682.6 2033.3 686.4 2034.3 682.3 2035.3 684.9 2036.3 681.9 2037.3 683.5 2038.3 681.8 2039.3 680.8 2040.3 690.1 2041.3 690.0 2042.3 688.1 2043.3 685.7 2044.3 691.1 2045.3 686.0 2046.2 688.1 2047.2 690.3 2048.2 687.7 2049.2 691.4 2050.2 686.7 2051.2 686.8 2052.2 687.7 2053.2 684.0 2054.2 684.3 2055.2 689.7 2056.2 682.5 2057.2 690.8 2058.2 688.4 2059.2 691.1 2060.2 690.0 2061.2 689.5 2062.2 692.9 2063.2 687.7 2064.2 687.7 2065.2 691.3 2066.2 686.2 2067.2 691.4 2068.2 690.2 2069.2 686.8 2070.2 684.6 2071.2 682.5 2072.2 693.9 2073.2 684.2 2074.2 685.0 2075.2 691.1 2076.2 690.0 2077.2 689.3 2078.2 689.0 2079.2 687.6 2080.2 686.2 2081.2 686.8 2082.2 690.7 2083.2 692.2 2084.2 692.5 2085.2 689.0 2086.2 682.7 2087.2 690.7 2088.2 688.9 2089.2 681.5 2090.2 693.4 2091.2 690.1 2092.2 689.4 2093.2 690.2 2094.2 690.0 2095.2 690.4 2096.1 690.1 2097.1 689.9 2098.1 691.5 2099.1 691.0 2100.1 697.0 2101.1 690.5 2102.1 688.6 2103.1 688.5 2104.1 691.4 2105.1 690.7 2106.1 691.1 2107.1 689.9 2108.1 690.0 2109.1 692.8 2110.1 694.6 2111.1 691.7 2112.1 690.4 2113.1 687.4 2114.1 687.5 2115.1 691.0 2116.1 690.2 2117.1 690.7 2118.1 687.8 2119.1 690.7 2120.1 685.5 2121.1 687.7 2122.1 688.9 2123.1 693.0 2124.1 689.5 2125.1 688.6 2126.1 692.2 2127.1 691.2 2128.1 694.2 2129.1 692.5 2130.1 692.2 2131.1 691.1 2132.1 693.6 2133.1 689.6 2134.1 687.4 2135.1 694.5 2136.1 690.5 2137.1 692.1 2138.1 693.8 2139.1 695.0 2140.1 683.7 2141.1 689.1 2142.1 695.8 2143.1 687.3 2144.1 693.7 2145.1 691.3 2146.1 689.8 2147.0 692.1 2148.0 687.6 2149.0 693.8 2150.0 696.1 2151.0 688.6 2152.0 690.8 2153.0 696.3 2154.0 694.0 2155.0 692.0 2156.0 697.2 2157.0 688.2 2158.0 692.3 2159.0 693.4 2160.0 692.3 2161.0 695.6 2162.0 688.4 2163.0 693.5 2164.0 691.1 2165.0 697.0 2166.0 696.6 2167.0 691.4 2168.0 690.4 2169.0 693.6 2170.0 691.3 2171.0 692.2 2172.0 695.1 2173.0 692.6 2174.0 699.3" stroke="#4472C4"/>
</g>
<g font-size="84" text-anchor="end"><text x="344.8" y="114.6">100%</text><text x="344.8" y="361.7">95%</text><text x="344.8" y="608.8">90%</text><text x="344.8" y="855.9">85%</text><text x="344.8" y="1103.0">80%</text><text x="344.8" y="1350.1">75%</text><text x="344.8" y="1597.2">70%</text></g>
<g font-size="84" text-anchor="middle"><text x="415.0" y="1696">0</text><text x="773.3" y="1696">100</text><text x="1131.6" y="1696">200</text><text x="1489.9" y="1696">300</text><text x="1848.2" y="1696">400</text><text x="2206.5" y="1696">500</text></g>
<text font-size="84.5" x="1002.6" y="1795.9">Temperature (<tspan font-weight="normal" dy="4.5">&#730;</tspan><tspan dy="-4.5">C)</tspan></text>
<text font-size="83.5" transform="translate(92.9 1179.6) rotate(-90)">Remaining mass (%)</text>
<g stroke-width="14" stroke-linecap="round"><line x1="500.5" y1="1141.8" x2="659.8" y2="1141.8" stroke="#7030A0"/><line x1="500.5" y1="1236.0" x2="659.8" y2="1236.0" stroke="#ED7D31"/><line x1="500.5" y1="1329.3" x2="659.8" y2="1329.3" stroke="#FF0000"/><line x1="500.5" y1="1423.3" x2="659.8" y2="1423.3" stroke="#00B050"/><line x1="500.5" y1="1516.9" x2="659.8" y2="1516.9" stroke="#4472C4"/></g>
<g font-size="68" letter-spacing="-1"><text x="678.8" y="1163.0">Z</text><text x="678.8" y="1257.2">Mn2Z</text><text x="678.8" y="1350.5">Mn3Z</text><text x="678.8" y="1444.5">Mn4Z</text><text x="678.8" y="1538.1">Mn</text></g>
</svg>
</body></html>
